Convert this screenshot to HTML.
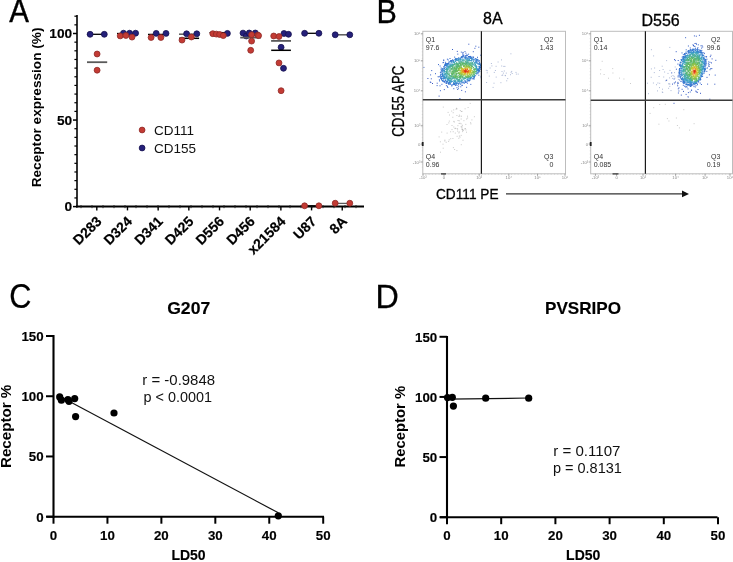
<!DOCTYPE html>
<html><head><meta charset="utf-8"><style>
html,body{margin:0;padding:0;background:#fff;width:733px;height:562px;overflow:hidden}
svg{display:block;will-change:transform}
text{font-family:"Liberation Sans",sans-serif}
</style></head><body>
<svg width="733" height="562" viewBox="0 0 733 562">
<rect width="733" height="562" fill="#fff"/>
<text transform="translate(9.2,22.3) scale(1,1.12)" font-size="29.5" stroke="#000" stroke-width="0.35">A</text>
<line x1="77" y1="15" x2="77" y2="207.6" stroke="#000" stroke-width="1.6" />
<line x1="73" y1="206.6" x2="77" y2="206.6" stroke="#000" stroke-width="1.5" />
<line x1="74.4" y1="197.945" x2="77" y2="197.945" stroke="#000" stroke-width="1.2" />
<line x1="74.4" y1="189.29" x2="77" y2="189.29" stroke="#000" stroke-width="1.2" />
<line x1="74.4" y1="180.635" x2="77" y2="180.635" stroke="#000" stroke-width="1.2" />
<line x1="74.4" y1="171.98" x2="77" y2="171.98" stroke="#000" stroke-width="1.2" />
<line x1="74.4" y1="163.325" x2="77" y2="163.325" stroke="#000" stroke-width="1.2" />
<line x1="74.4" y1="154.67" x2="77" y2="154.67" stroke="#000" stroke-width="1.2" />
<line x1="74.4" y1="146.015" x2="77" y2="146.015" stroke="#000" stroke-width="1.2" />
<line x1="74.4" y1="137.35999999999999" x2="77" y2="137.35999999999999" stroke="#000" stroke-width="1.2" />
<line x1="74.4" y1="128.70499999999998" x2="77" y2="128.70499999999998" stroke="#000" stroke-width="1.2" />
<line x1="73" y1="120.04999999999998" x2="77" y2="120.04999999999998" stroke="#000" stroke-width="1.5" />
<line x1="74.4" y1="111.395" x2="77" y2="111.395" stroke="#000" stroke-width="1.2" />
<line x1="74.4" y1="102.74" x2="77" y2="102.74" stroke="#000" stroke-width="1.2" />
<line x1="74.4" y1="94.085" x2="77" y2="94.085" stroke="#000" stroke-width="1.2" />
<line x1="74.4" y1="85.42999999999999" x2="77" y2="85.42999999999999" stroke="#000" stroke-width="1.2" />
<line x1="74.4" y1="76.77499999999998" x2="77" y2="76.77499999999998" stroke="#000" stroke-width="1.2" />
<line x1="74.4" y1="68.11999999999998" x2="77" y2="68.11999999999998" stroke="#000" stroke-width="1.2" />
<line x1="74.4" y1="59.464999999999975" x2="77" y2="59.464999999999975" stroke="#000" stroke-width="1.2" />
<line x1="74.4" y1="50.809999999999974" x2="77" y2="50.809999999999974" stroke="#000" stroke-width="1.2" />
<line x1="74.4" y1="42.15499999999997" x2="77" y2="42.15499999999997" stroke="#000" stroke-width="1.2" />
<line x1="73" y1="33.49999999999997" x2="77" y2="33.49999999999997" stroke="#000" stroke-width="1.5" />
<line x1="74.4" y1="24.84499999999997" x2="77" y2="24.84499999999997" stroke="#000" stroke-width="1.2" />
<line x1="74.4" y1="16.189999999999998" x2="77" y2="16.189999999999998" stroke="#000" stroke-width="1.2" />
<text x="72.2" y="211.4" font-size="13.7" font-weight="bold" text-anchor="end" fill="#000"  stroke="#000" stroke-width="0.15">0</text>
<text x="72.2" y="124.84999999999998" font-size="13.7" font-weight="bold" text-anchor="end" fill="#000"  stroke="#000" stroke-width="0.15">50</text>
<text x="72.2" y="38.29999999999997" font-size="13.7" font-weight="bold" text-anchor="end" fill="#000"  stroke="#000" stroke-width="0.15">100</text>
<line x1="76" y1="206.6" x2="364" y2="206.6" stroke="#000" stroke-width="2" />
<line x1="96.8" y1="206.6" x2="96.8" y2="210.4" stroke="#000" stroke-width="1.4" />
<line x1="127.47999999999999" y1="206.6" x2="127.47999999999999" y2="210.4" stroke="#000" stroke-width="1.4" />
<line x1="158.16" y1="206.6" x2="158.16" y2="210.4" stroke="#000" stroke-width="1.4" />
<line x1="188.83999999999997" y1="206.6" x2="188.83999999999997" y2="210.4" stroke="#000" stroke-width="1.4" />
<line x1="219.51999999999998" y1="206.6" x2="219.51999999999998" y2="210.4" stroke="#000" stroke-width="1.4" />
<line x1="250.2" y1="206.6" x2="250.2" y2="210.4" stroke="#000" stroke-width="1.4" />
<line x1="280.88" y1="206.6" x2="280.88" y2="210.4" stroke="#000" stroke-width="1.4" />
<line x1="311.56" y1="206.6" x2="311.56" y2="210.4" stroke="#000" stroke-width="1.4" />
<line x1="342.24" y1="206.6" x2="342.24" y2="210.4" stroke="#000" stroke-width="1.4" />
<line x1="81.0" y1="205.0" x2="81.0" y2="208.2" stroke="#222" stroke-width="0.9" />
<line x1="92.0" y1="205.0" x2="92.0" y2="208.2" stroke="#222" stroke-width="0.9" />
<line x1="103.0" y1="205.0" x2="103.0" y2="208.2" stroke="#222" stroke-width="0.9" />
<line x1="114.0" y1="205.0" x2="114.0" y2="208.2" stroke="#222" stroke-width="0.9" />
<line x1="125.0" y1="205.0" x2="125.0" y2="208.2" stroke="#222" stroke-width="0.9" />
<line x1="136.0" y1="205.0" x2="136.0" y2="208.2" stroke="#222" stroke-width="0.9" />
<line x1="147.0" y1="205.0" x2="147.0" y2="208.2" stroke="#222" stroke-width="0.9" />
<line x1="158.0" y1="205.0" x2="158.0" y2="208.2" stroke="#222" stroke-width="0.9" />
<line x1="169.0" y1="205.0" x2="169.0" y2="208.2" stroke="#222" stroke-width="0.9" />
<line x1="180.0" y1="205.0" x2="180.0" y2="208.2" stroke="#222" stroke-width="0.9" />
<line x1="191.0" y1="205.0" x2="191.0" y2="208.2" stroke="#222" stroke-width="0.9" />
<line x1="202.0" y1="205.0" x2="202.0" y2="208.2" stroke="#222" stroke-width="0.9" />
<line x1="213.0" y1="205.0" x2="213.0" y2="208.2" stroke="#222" stroke-width="0.9" />
<line x1="224.0" y1="205.0" x2="224.0" y2="208.2" stroke="#222" stroke-width="0.9" />
<line x1="235.0" y1="205.0" x2="235.0" y2="208.2" stroke="#222" stroke-width="0.9" />
<line x1="246.0" y1="205.0" x2="246.0" y2="208.2" stroke="#222" stroke-width="0.9" />
<line x1="257.0" y1="205.0" x2="257.0" y2="208.2" stroke="#222" stroke-width="0.9" />
<line x1="268.0" y1="205.0" x2="268.0" y2="208.2" stroke="#222" stroke-width="0.9" />
<line x1="279.0" y1="205.0" x2="279.0" y2="208.2" stroke="#222" stroke-width="0.9" />
<line x1="290.0" y1="205.0" x2="290.0" y2="208.2" stroke="#222" stroke-width="0.9" />
<line x1="301.0" y1="205.0" x2="301.0" y2="208.2" stroke="#222" stroke-width="0.9" />
<line x1="312.0" y1="205.0" x2="312.0" y2="208.2" stroke="#222" stroke-width="0.9" />
<line x1="323.0" y1="205.0" x2="323.0" y2="208.2" stroke="#222" stroke-width="0.9" />
<line x1="334.0" y1="205.0" x2="334.0" y2="208.2" stroke="#222" stroke-width="0.9" />
<line x1="345.0" y1="205.0" x2="345.0" y2="208.2" stroke="#222" stroke-width="0.9" />
<line x1="356.0" y1="205.0" x2="356.0" y2="208.2" stroke="#222" stroke-width="0.9" />
<text transform="translate(102.4,222.2) rotate(-45)" font-size="14" font-weight="bold" stroke="#000" stroke-width="0.2" text-anchor="end">D283</text>
<text transform="translate(133.1,222.2) rotate(-45)" font-size="14" font-weight="bold" stroke="#000" stroke-width="0.2" text-anchor="end">D324</text>
<text transform="translate(163.8,222.2) rotate(-45)" font-size="14" font-weight="bold" stroke="#000" stroke-width="0.2" text-anchor="end">D341</text>
<text transform="translate(194.4,222.2) rotate(-45)" font-size="14" font-weight="bold" stroke="#000" stroke-width="0.2" text-anchor="end">D425</text>
<text transform="translate(225.1,222.2) rotate(-45)" font-size="14" font-weight="bold" stroke="#000" stroke-width="0.2" text-anchor="end">D556</text>
<text transform="translate(255.8,222.2) rotate(-45)" font-size="14" font-weight="bold" stroke="#000" stroke-width="0.2" text-anchor="end">D456</text>
<text transform="translate(286.5,222.2) rotate(-45)" font-size="14" font-weight="bold" stroke="#000" stroke-width="0.2" text-anchor="end">x21584</text>
<text transform="translate(317.2,222.2) rotate(-45)" font-size="14" font-weight="bold" stroke="#000" stroke-width="0.2" text-anchor="end">U87</text>
<text transform="translate(347.8,222.2) rotate(-45)" font-size="14" font-weight="bold" stroke="#000" stroke-width="0.2" text-anchor="end">8A</text>
<text transform="translate(41.3,187.3) rotate(-90)" font-size="13.6" font-weight="bold" textLength="159.8" lengthAdjust="spacingAndGlyphs">Receptor expression (%)</text>
<circle cx="142.1" cy="130" r="2.9" fill="#c33b34" stroke="#8f2a27" stroke-width="0.8"/>
<circle cx="142.1" cy="148" r="2.9" fill="#25207a" stroke="#16124f" stroke-width="0.8"/>
<text x="154" y="135.3" font-size="13.5" font-weight="normal" text-anchor="start" fill="#111" >CD111</text>
<text x="154" y="153" font-size="13.5" font-weight="normal" text-anchor="start" fill="#111" >CD155</text>
<line x1="87" y1="34.3" x2="107" y2="34.3" stroke="#000" stroke-width="1.3" />
<circle cx="90.1" cy="34.3" r="2.95" fill="#25207a" stroke="#16124f" stroke-width="0.8"/>
<circle cx="104.3" cy="34.3" r="2.95" fill="#25207a" stroke="#16124f" stroke-width="0.8"/>
<line x1="87" y1="62.2" x2="107.2" y2="62.2" stroke="#5a5a5a" stroke-width="1.8" />
<circle cx="97.1" cy="54" r="2.95" fill="#c33b34" stroke="#8f2a27" stroke-width="0.8"/>
<circle cx="97.1" cy="70.2" r="2.95" fill="#c33b34" stroke="#8f2a27" stroke-width="0.8"/>
<line x1="117" y1="33.5" x2="138" y2="33.5" stroke="#000" stroke-width="1.3" />
<circle cx="123.5" cy="33.2" r="2.95" fill="#25207a" stroke="#16124f" stroke-width="0.8"/>
<circle cx="129.6" cy="33.2" r="2.95" fill="#25207a" stroke="#16124f" stroke-width="0.8"/>
<circle cx="135.6" cy="33.2" r="2.95" fill="#25207a" stroke="#16124f" stroke-width="0.8"/>
<circle cx="120.2" cy="35.9" r="2.95" fill="#c33b34" stroke="#8f2a27" stroke-width="0.8"/>
<circle cx="125.9" cy="35.5" r="2.95" fill="#c33b34" stroke="#8f2a27" stroke-width="0.8"/>
<circle cx="132" cy="37.1" r="2.95" fill="#c33b34" stroke="#8f2a27" stroke-width="0.8"/>
<line x1="148" y1="34.4" x2="168.5" y2="34.4" stroke="#000" stroke-width="1.3" />
<circle cx="156.2" cy="33.4" r="2.95" fill="#25207a" stroke="#16124f" stroke-width="0.8"/>
<circle cx="166" cy="33.4" r="2.95" fill="#25207a" stroke="#16124f" stroke-width="0.8"/>
<circle cx="151.1" cy="37.5" r="2.95" fill="#c33b34" stroke="#8f2a27" stroke-width="0.8"/>
<circle cx="160.9" cy="37.5" r="2.95" fill="#c33b34" stroke="#8f2a27" stroke-width="0.8"/>
<line x1="179" y1="34.2" x2="199" y2="34.2" stroke="#5a5a5a" stroke-width="1.5" />
<circle cx="186.6" cy="33.8" r="2.95" fill="#25207a" stroke="#16124f" stroke-width="0.8"/>
<circle cx="196.8" cy="33.8" r="2.95" fill="#25207a" stroke="#16124f" stroke-width="0.8"/>
<line x1="179" y1="38.3" x2="199.1" y2="38.3" stroke="#000" stroke-width="1.5" />
<circle cx="182" cy="40.1" r="2.95" fill="#c33b34" stroke="#8f2a27" stroke-width="0.8"/>
<circle cx="191.4" cy="37" r="2.95" fill="#c33b34" stroke="#8f2a27" stroke-width="0.8"/>
<line x1="209.5" y1="32.6" x2="229.5" y2="32.6" stroke="#000" stroke-width="1.3" />
<circle cx="227.4" cy="33.4" r="2.95" fill="#25207a" stroke="#16124f" stroke-width="0.8"/>
<circle cx="212.8" cy="33.7" r="2.95" fill="#c33b34" stroke="#8f2a27" stroke-width="0.8"/>
<circle cx="216.3" cy="34.1" r="2.95" fill="#c33b34" stroke="#8f2a27" stroke-width="0.8"/>
<circle cx="219.6" cy="34.5" r="2.95" fill="#c33b34" stroke="#8f2a27" stroke-width="0.8"/>
<circle cx="223.3" cy="35.6" r="2.95" fill="#c33b34" stroke="#8f2a27" stroke-width="0.8"/>
<circle cx="243" cy="33.1" r="2.95" fill="#25207a" stroke="#16124f" stroke-width="0.8"/>
<circle cx="246.3" cy="36" r="2.95" fill="#25207a" stroke="#16124f" stroke-width="0.8"/>
<circle cx="249.2" cy="33" r="2.95" fill="#25207a" stroke="#16124f" stroke-width="0.8"/>
<circle cx="255.3" cy="33" r="2.95" fill="#25207a" stroke="#16124f" stroke-width="0.8"/>
<line x1="240.2" y1="37.6" x2="261" y2="37.6" stroke="#5a5a5a" stroke-width="1.8" />
<circle cx="251.6" cy="34.7" r="2.95" fill="#c33b34" stroke="#8f2a27" stroke-width="0.8"/>
<circle cx="257.8" cy="35.1" r="2.95" fill="#c33b34" stroke="#8f2a27" stroke-width="0.8"/>
<circle cx="258.6" cy="35.6" r="2.95" fill="#c33b34" stroke="#8f2a27" stroke-width="0.8"/>
<circle cx="251.6" cy="41.1" r="2.95" fill="#c33b34" stroke="#8f2a27" stroke-width="0.8"/>
<circle cx="250.7" cy="50.3" r="2.95" fill="#c33b34" stroke="#8f2a27" stroke-width="0.8"/>
<line x1="271.1" y1="40.9" x2="291" y2="40.9" stroke="#5a5a5a" stroke-width="1.8" />
<circle cx="284" cy="33.5" r="2.95" fill="#25207a" stroke="#16124f" stroke-width="0.8"/>
<circle cx="288.5" cy="34.3" r="2.95" fill="#25207a" stroke="#16124f" stroke-width="0.8"/>
<circle cx="273.7" cy="36" r="2.95" fill="#c33b34" stroke="#8f2a27" stroke-width="0.8"/>
<circle cx="279" cy="36.5" r="2.95" fill="#c33b34" stroke="#8f2a27" stroke-width="0.8"/>
<circle cx="281.1" cy="47.3" r="2.95" fill="#25207a" stroke="#16124f" stroke-width="0.8"/>
<line x1="271.2" y1="50.3" x2="290.9" y2="50.3" stroke="#000" stroke-width="1.5" />
<circle cx="279" cy="62.9" r="2.95" fill="#c33b34" stroke="#8f2a27" stroke-width="0.8"/>
<circle cx="283.5" cy="68.3" r="2.95" fill="#25207a" stroke="#16124f" stroke-width="0.8"/>
<circle cx="281.1" cy="90.7" r="2.95" fill="#c33b34" stroke="#8f2a27" stroke-width="0.8"/>
<line x1="304.6" y1="33.3" x2="318.9" y2="33.3" stroke="#000" stroke-width="1.3" />
<circle cx="304.6" cy="33.3" r="2.95" fill="#25207a" stroke="#16124f" stroke-width="0.8"/>
<circle cx="318.9" cy="33.3" r="2.95" fill="#25207a" stroke="#16124f" stroke-width="0.8"/>
<line x1="304.6" y1="205.8" x2="318.9" y2="205.8" stroke="#000" stroke-width="1.3" />
<circle cx="304.6" cy="205.8" r="2.95" fill="#c33b34" stroke="#8f2a27" stroke-width="0.8"/>
<circle cx="318.9" cy="205.8" r="2.95" fill="#c33b34" stroke="#8f2a27" stroke-width="0.8"/>
<line x1="335.2" y1="34.8" x2="349.8" y2="34.8" stroke="#5a5a5a" stroke-width="1.5" />
<circle cx="335.2" cy="34.8" r="2.95" fill="#25207a" stroke="#16124f" stroke-width="0.8"/>
<circle cx="349.8" cy="34.8" r="2.95" fill="#25207a" stroke="#16124f" stroke-width="0.8"/>
<line x1="335.2" y1="203.4" x2="349.8" y2="203.4" stroke="#5a5a5a" stroke-width="1.3" />
<circle cx="335.2" cy="203.2" r="2.95" fill="#c33b34" stroke="#8f2a27" stroke-width="0.8"/>
<circle cx="349.8" cy="203.2" r="2.95" fill="#c33b34" stroke="#8f2a27" stroke-width="0.8"/>
<text transform="translate(376.4,23) scale(1,1.1)" font-size="30.5" stroke="#000" stroke-width="0.3">B</text>
<text x="483" y="24.3" font-size="16" font-weight="normal" text-anchor="start" fill="#000" stroke="#000" stroke-width="0.3">8A</text>
<text x="641.5" y="26.4" font-size="16" font-weight="normal" text-anchor="start" fill="#000" stroke="#000" stroke-width="0.3">D556</text>
<rect x="495.7" y="76.6" width="1" height="1" fill="#8fa0c8" opacity="0.7"/>
<rect x="494.9" y="70.0" width="1" height="1" fill="#8fa0c8" opacity="0.7"/>
<rect x="486.7" y="72.3" width="1" height="1" fill="#8fa0c8" opacity="0.7"/>
<rect x="511.7" y="73.0" width="1" height="1" fill="#8fa0c8" opacity="0.7"/>
<rect x="510.6" y="71.8" width="1" height="1" fill="#8fa0c8" opacity="0.7"/>
<rect x="502.9" y="72.6" width="1" height="1" fill="#8fa0c8" opacity="0.7"/>
<rect x="504.7" y="74.9" width="1" height="1" fill="#8fa0c8" opacity="0.7"/>
<rect x="486.8" y="70.2" width="1" height="1" fill="#8fa0c8" opacity="0.7"/>
<rect x="501.5" y="71.0" width="1" height="1" fill="#8fa0c8" opacity="0.7"/>
<rect x="503.3" y="65.9" width="1" height="1" fill="#8fa0c8" opacity="0.7"/>
<rect x="502.2" y="74.5" width="1" height="1" fill="#8fa0c8" opacity="0.7"/>
<rect x="492.6" y="86.9" width="1" height="1" fill="#8fa0c8" opacity="0.7"/>
<rect x="506.2" y="80.3" width="1" height="1" fill="#8fa0c8" opacity="0.7"/>
<rect x="489.6" y="67.5" width="1" height="1" fill="#8fa0c8" opacity="0.7"/>
<rect x="493.8" y="71.9" width="1" height="1" fill="#8fa0c8" opacity="0.7"/>
<rect x="505.8" y="72.6" width="1" height="1" fill="#8fa0c8" opacity="0.7"/>
<rect x="491.4" y="65.4" width="1" height="1" fill="#8fa0c8" opacity="0.7"/>
<rect x="493.5" y="82.7" width="1" height="1" fill="#8fa0c8" opacity="0.7"/>
<rect x="488.8" y="75.6" width="1" height="1" fill="#8fa0c8" opacity="0.7"/>
<rect x="501.0" y="59.4" width="1" height="1" fill="#8fa0c8" opacity="0.7"/>
<rect x="500.4" y="82.2" width="1" height="1" fill="#8fa0c8" opacity="0.7"/>
<rect x="495.6" y="65.8" width="1" height="1" fill="#8fa0c8" opacity="0.7"/>
<rect x="503.8" y="70.5" width="1" height="1" fill="#8fa0c8" opacity="0.7"/>
<rect x="507.2" y="78.1" width="1" height="1" fill="#8fa0c8" opacity="0.7"/>
<rect x="515.5" y="71.9" width="1" height="1" fill="#8fa0c8" opacity="0.7"/>
<rect x="497.6" y="61.5" width="1" height="1" fill="#8fa0c8" opacity="0.7"/>
<rect x="504.4" y="65.9" width="1" height="1" fill="#8fa0c8" opacity="0.7"/>
<rect x="490.9" y="63.0" width="1" height="1" fill="#8fa0c8" opacity="0.7"/>
<rect x="485.8" y="69.8" width="1" height="1" fill="#8fa0c8" opacity="0.7"/>
<rect x="510.4" y="53.3" width="1" height="1" fill="#8fa0c8" opacity="0.7"/>
<rect x="515.9" y="73.6" width="1" height="1" fill="#8fa0c8" opacity="0.7"/>
<rect x="501.2" y="65.5" width="1" height="1" fill="#8fa0c8" opacity="0.7"/>
<rect x="486.1" y="82.0" width="1" height="1" fill="#8fa0c8" opacity="0.7"/>
<rect x="511.2" y="70.9" width="1" height="1" fill="#8fa0c8" opacity="0.7"/>
<rect x="501.5" y="74.9" width="1" height="1" fill="#8fa0c8" opacity="0.7"/>
<rect x="517.7" y="73.6" width="1" height="1" fill="#8fa0c8" opacity="0.7"/>
<rect x="504.9" y="75.2" width="1" height="1" fill="#8fa0c8" opacity="0.7"/>
<rect x="510.0" y="74.2" width="1" height="1" fill="#8fa0c8" opacity="0.7"/>
<rect x="442.5" y="143.7" width="1" height="1" fill="#999" opacity="0.5"/>
<rect x="447.6" y="111.9" width="1" height="1" fill="#999" opacity="0.5"/>
<rect x="462.1" y="131.1" width="1" height="1" fill="#999" opacity="0.5"/>
<rect x="460.8" y="144.2" width="1" height="1" fill="#999" opacity="0.5"/>
<rect x="457.5" y="120.0" width="1" height="1" fill="#999" opacity="0.5"/>
<rect x="461.9" y="124.8" width="1" height="1" fill="#999" opacity="0.5"/>
<rect x="464.3" y="128.4" width="1" height="1" fill="#999" opacity="0.5"/>
<rect x="450.1" y="131.3" width="1" height="1" fill="#999" opacity="0.5"/>
<rect x="461.0" y="115.7" width="1" height="1" fill="#999" opacity="0.5"/>
<rect x="458.3" y="137.8" width="1" height="1" fill="#999" opacity="0.5"/>
<rect x="459.8" y="110.0" width="1" height="1" fill="#999" opacity="0.5"/>
<rect x="448.7" y="139.3" width="1" height="1" fill="#999" opacity="0.5"/>
<rect x="453.3" y="126.5" width="1" height="1" fill="#999" opacity="0.5"/>
<rect x="455.6" y="108.7" width="1" height="1" fill="#999" opacity="0.5"/>
<rect x="453.2" y="109.4" width="1" height="1" fill="#999" opacity="0.5"/>
<rect x="456.6" y="135.8" width="1" height="1" fill="#999" opacity="0.5"/>
<rect x="467.1" y="117.5" width="1" height="1" fill="#999" opacity="0.5"/>
<rect x="458.6" y="123.0" width="1" height="1" fill="#999" opacity="0.5"/>
<rect x="460.6" y="126.3" width="1" height="1" fill="#999" opacity="0.5"/>
<rect x="457.1" y="128.6" width="1" height="1" fill="#999" opacity="0.5"/>
<rect x="458.7" y="120.3" width="1" height="1" fill="#999" opacity="0.5"/>
<rect x="463.4" y="120.2" width="1" height="1" fill="#999" opacity="0.5"/>
<rect x="467.6" y="107.0" width="1" height="1" fill="#999" opacity="0.5"/>
<rect x="451.5" y="129.1" width="1" height="1" fill="#999" opacity="0.5"/>
<rect x="462.2" y="129.1" width="1" height="1" fill="#999" opacity="0.5"/>
<rect x="457.1" y="130.6" width="1" height="1" fill="#999" opacity="0.5"/>
<rect x="452.4" y="138.0" width="1" height="1" fill="#999" opacity="0.5"/>
<rect x="459.5" y="122.8" width="1" height="1" fill="#999" opacity="0.5"/>
<rect x="458.4" y="132.4" width="1" height="1" fill="#999" opacity="0.5"/>
<rect x="453.8" y="121.5" width="1" height="1" fill="#999" opacity="0.5"/>
<rect x="469.7" y="102.9" width="1" height="1" fill="#999" opacity="0.5"/>
<rect x="452.7" y="131.2" width="1" height="1" fill="#999" opacity="0.5"/>
<rect x="454.5" y="128.1" width="1" height="1" fill="#999" opacity="0.5"/>
<rect x="440.0" y="151.7" width="1" height="1" fill="#999" opacity="0.5"/>
<rect x="452.7" y="112.2" width="1" height="1" fill="#999" opacity="0.5"/>
<rect x="462.2" y="129.7" width="1" height="1" fill="#999" opacity="0.5"/>
<rect x="470.1" y="122.2" width="1" height="1" fill="#999" opacity="0.5"/>
<rect x="445.7" y="141.8" width="1" height="1" fill="#999" opacity="0.5"/>
<rect x="458.7" y="131.4" width="1" height="1" fill="#999" opacity="0.5"/>
<rect x="442.8" y="106.6" width="1" height="1" fill="#999" opacity="0.5"/>
<rect x="451.2" y="110.6" width="1" height="1" fill="#999" opacity="0.5"/>
<rect x="449.0" y="114.5" width="1" height="1" fill="#999" opacity="0.5"/>
<rect x="464.9" y="128.0" width="1" height="1" fill="#999" opacity="0.5"/>
<rect x="456.6" y="128.1" width="1" height="1" fill="#999" opacity="0.5"/>
<rect x="460.7" y="118.5" width="1" height="1" fill="#999" opacity="0.5"/>
<rect x="466.0" y="131.7" width="1" height="1" fill="#999" opacity="0.5"/>
<rect x="458.9" y="114.6" width="1" height="1" fill="#999" opacity="0.5"/>
<rect x="458.4" y="116.0" width="1" height="1" fill="#999" opacity="0.5"/>
<rect x="461.4" y="126.9" width="1" height="1" fill="#999" opacity="0.5"/>
<rect x="461.4" y="125.8" width="1" height="1" fill="#999" opacity="0.5"/>
<rect x="438.6" y="136.4" width="1" height="1" fill="#999" opacity="0.5"/>
<rect x="452.3" y="116.8" width="1" height="1" fill="#999" opacity="0.5"/>
<rect x="441.2" y="131.6" width="1" height="1" fill="#999" opacity="0.5"/>
<rect x="467.0" y="115.7" width="1" height="1" fill="#999" opacity="0.5"/>
<rect x="456.5" y="108.3" width="1" height="1" fill="#999" opacity="0.5"/>
<rect x="448.3" y="122.4" width="1" height="1" fill="#999" opacity="0.5"/>
<rect x="470.4" y="123.4" width="1" height="1" fill="#999" opacity="0.5"/>
<rect x="462.5" y="139.8" width="1" height="1" fill="#999" opacity="0.5"/>
<rect x="459.4" y="115.6" width="1" height="1" fill="#999" opacity="0.5"/>
<rect x="456.4" y="150.1" width="1" height="1" fill="#999" opacity="0.5"/>
<rect x="451.5" y="125.0" width="1" height="1" fill="#999" opacity="0.5"/>
<rect x="460.6" y="123.3" width="1" height="1" fill="#999" opacity="0.5"/>
<rect x="456.0" y="107.8" width="1" height="1" fill="#999" opacity="0.5"/>
<rect x="471.4" y="119.4" width="1" height="1" fill="#999" opacity="0.5"/>
<rect x="461.5" y="110.9" width="1" height="1" fill="#999" opacity="0.5"/>
<rect x="459.5" y="136.6" width="1" height="1" fill="#999" opacity="0.5"/>
<rect x="457.4" y="125.2" width="1" height="1" fill="#999" opacity="0.5"/>
<rect x="460.8" y="111.0" width="1" height="1" fill="#999" opacity="0.5"/>
<rect x="442.7" y="147.7" width="1" height="1" fill="#999" opacity="0.5"/>
<rect x="452.9" y="147.1" width="1" height="1" fill="#999" opacity="0.5"/>
<rect x="453.3" y="120.9" width="1" height="1" fill="#999" opacity="0.5"/>
<rect x="461.6" y="128.7" width="1" height="1" fill="#999" opacity="0.5"/>
<rect x="465.4" y="129.4" width="1" height="1" fill="#999" opacity="0.5"/>
<rect x="462.8" y="129.9" width="1" height="1" fill="#999" opacity="0.5"/>
<rect x="473.9" y="116.2" width="1" height="1" fill="#999" opacity="0.5"/>
<rect x="458.9" y="135.5" width="1" height="1" fill="#999" opacity="0.5"/>
<rect x="439.9" y="141.3" width="1" height="1" fill="#999" opacity="0.5"/>
<rect x="454.1" y="149.0" width="1" height="1" fill="#999" opacity="0.5"/>
<rect x="450.2" y="138.2" width="1" height="1" fill="#999" opacity="0.5"/>
<rect x="454.9" y="127.8" width="1" height="1" fill="#999" opacity="0.5"/>
<rect x="454.8" y="132.6" width="1" height="1" fill="#999" opacity="0.5"/>
<rect x="464.6" y="108.3" width="1" height="1" fill="#999" opacity="0.5"/>
<rect x="465.3" y="123.9" width="1" height="1" fill="#999" opacity="0.5"/>
<rect x="446.5" y="124.0" width="1" height="1" fill="#999" opacity="0.5"/>
<rect x="460.7" y="134.9" width="1" height="1" fill="#999" opacity="0.5"/>
<rect x="444.3" y="140.5" width="1" height="1" fill="#999" opacity="0.5"/>
<rect x="466.1" y="118.5" width="1" height="1" fill="#999" opacity="0.5"/>
<rect x="461.5" y="128.5" width="1" height="1" fill="#999" opacity="0.5"/>
<rect x="448.8" y="120.6" width="1" height="1" fill="#999" opacity="0.5"/>
<rect x="444.4" y="139.6" width="1" height="1" fill="#999" opacity="0.5"/>
<rect x="456.4" y="115.0" width="1" height="1" fill="#999" opacity="0.5"/>
<rect x="446.6" y="132.6" width="1" height="1" fill="#999" opacity="0.5"/>
<rect x="448.1" y="140.9" width="1" height="1" fill="#999" opacity="0.5"/>
<rect x="427.4" y="78.0" width="1" height="1" fill="#3956c2"/>
<rect x="461.2" y="89.9" width="1" height="1" fill="#3956c2"/>
<rect x="438.6" y="95.6" width="1" height="1" fill="#3957c2"/>
<rect x="456.8" y="50.9" width="1" height="1" fill="#3957c3"/>
<rect x="432.0" y="83.0" width="1" height="1" fill="#3957c3"/>
<rect x="474.4" y="47.8" width="1" height="1" fill="#3958c3"/>
<rect x="429.8" y="81.6" width="1" height="1" fill="#3958c3"/>
<rect x="472.8" y="51.2" width="1" height="1" fill="#3859c4"/>
<rect x="464.9" y="91.3" width="1" height="1" fill="#3859c4"/>
<rect x="430.8" y="78.3" width="1" height="1" fill="#3859c4"/>
<rect x="443.8" y="89.1" width="1" height="1" fill="#385ac4"/>
<rect x="430.3" y="81.9" width="1" height="1" fill="#385ac4"/>
<rect x="468.3" y="43.7" width="1" height="1" fill="#385ac5"/>
<rect x="436.7" y="82.7" width="1" height="1" fill="#385bc5"/>
<rect x="443.3" y="59.7" width="1" height="1" fill="#375cc6"/>
<rect x="457.2" y="89.0" width="1" height="1" fill="#375dc6"/>
<rect x="453.3" y="88.2" width="1" height="1" fill="#375dc6"/>
<rect x="459.4" y="98.0" width="1" height="1" fill="#375dc6"/>
<rect x="452.0" y="49.0" width="1" height="1" fill="#375dc6"/>
<rect x="465.4" y="52.7" width="1" height="1" fill="#375dc6"/>
<rect x="431.2" y="70.1" width="1" height="1" fill="#375ec7"/>
<rect x="460.8" y="51.6" width="1" height="1" fill="#375ec7"/>
<rect x="436.6" y="85.1" width="1" height="1" fill="#365fc8"/>
<rect x="478.3" y="46.7" width="1" height="1" fill="#365fc8"/>
<rect x="461.6" y="85.0" width="1" height="1" fill="#365fc8"/>
<rect x="475.3" y="45.7" width="1" height="1" fill="#3660c8"/>
<rect x="480.7" y="77.2" width="1" height="1" fill="#3660c8"/>
<rect x="443.1" y="59.7" width="1" height="1" fill="#3660c8"/>
<rect x="439.9" y="90.2" width="1" height="1" fill="#3660c9"/>
<rect x="445.9" y="85.2" width="1" height="1" fill="#3660c9"/>
<rect x="430.1" y="74.4" width="1" height="1" fill="#3660c9"/>
<rect x="457.3" y="53.6" width="1" height="1" fill="#3661c9"/>
<rect x="423.4" y="66.9" width="1" height="1" fill="#3661c9"/>
<rect x="441.4" y="83.8" width="1" height="1" fill="#3661c9"/>
<rect x="480.2" y="54.7" width="1" height="1" fill="#3661c9"/>
<rect x="457.9" y="87.7" width="1" height="1" fill="#3661c9"/>
<rect x="435.0" y="73.2" width="1" height="1" fill="#3661c9"/>
<rect x="463.4" y="54.8" width="1" height="1" fill="#3661c9"/>
<rect x="466.1" y="86.8" width="1" height="1" fill="#3661c9"/>
<rect x="445.1" y="61.8" width="1" height="1" fill="#3661c9"/>
<rect x="462.3" y="52.6" width="1" height="1" fill="#3562ca"/>
<rect x="470.3" y="83.9" width="1" height="1" fill="#3562ca"/>
<rect x="443.1" y="61.9" width="1" height="1" fill="#3562ca"/>
<rect x="458.1" y="85.7" width="1" height="1" fill="#3562ca"/>
<rect x="462.6" y="51.9" width="1" height="1" fill="#3563ca"/>
<rect x="438.0" y="64.1" width="1" height="1" fill="#3563cb"/>
<rect x="447.0" y="85.8" width="1" height="1" fill="#3563cb"/>
<rect x="442.5" y="62.2" width="1" height="1" fill="#3563cb"/>
<rect x="438.5" y="76.4" width="1" height="1" fill="#3563cb"/>
<rect x="437.6" y="76.2" width="1" height="1" fill="#3564cb"/>
<rect x="464.5" y="51.1" width="1" height="1" fill="#3564cb"/>
<rect x="480.9" y="70.8" width="1" height="1" fill="#3564cb"/>
<rect x="446.9" y="58.7" width="1" height="1" fill="#3465cc"/>
<rect x="439.5" y="85.3" width="1" height="1" fill="#3465cc"/>
<rect x="451.3" y="85.5" width="1" height="1" fill="#3465cc"/>
<rect x="481.0" y="71.7" width="1" height="1" fill="#3465cc"/>
<rect x="470.0" y="55.9" width="1" height="1" fill="#3465cc"/>
<rect x="466.9" y="82.7" width="1" height="1" fill="#3465cc"/>
<rect x="466.2" y="54.6" width="1" height="1" fill="#3465cc"/>
<rect x="447.3" y="87.0" width="1" height="1" fill="#3466cc"/>
<rect x="472.9" y="56.6" width="1" height="1" fill="#3466cd"/>
<rect x="480.5" y="64.8" width="1" height="1" fill="#3466cd"/>
<rect x="480.6" y="75.8" width="1" height="1" fill="#3466cd"/>
<rect x="477.0" y="56.8" width="1" height="1" fill="#3466cd"/>
<rect x="465.2" y="82.0" width="1" height="1" fill="#3466cd"/>
<rect x="462.6" y="54.7" width="1" height="1" fill="#3466cd"/>
<rect x="455.0" y="84.8" width="1" height="1" fill="#3466cd"/>
<rect x="439.9" y="71.9" width="1" height="1" fill="#3466cd"/>
<rect x="444.4" y="64.6" width="1" height="1" fill="#3466cd"/>
<rect x="466.1" y="81.6" width="1" height="1" fill="#3467cd"/>
<rect x="461.1" y="56.3" width="1" height="1" fill="#3467cd"/>
<rect x="456.4" y="87.2" width="1" height="1" fill="#3467cd"/>
<rect x="460.3" y="86.3" width="1" height="1" fill="#3467cd"/>
<rect x="450.4" y="60.2" width="1" height="1" fill="#3467cd"/>
<rect x="473.1" y="56.8" width="1" height="1" fill="#3467cd"/>
<rect x="439.0" y="80.4" width="1" height="1" fill="#3467cd"/>
<rect x="441.3" y="68.4" width="1" height="1" fill="#3467cd"/>
<rect x="440.6" y="67.5" width="1" height="1" fill="#3467cd"/>
<rect x="444.4" y="64.8" width="1" height="1" fill="#3467cd"/>
<rect x="480.2" y="66.7" width="1" height="1" fill="#3467cd"/>
<rect x="466.7" y="54.6" width="1" height="1" fill="#3467cd"/>
<rect x="444.5" y="81.6" width="1" height="1" fill="#3368ce"/>
<rect x="479.8" y="68.8" width="1" height="1" fill="#3368ce"/>
<rect x="439.5" y="76.0" width="1" height="1" fill="#3368ce"/>
<rect x="440.5" y="69.3" width="1" height="1" fill="#3368ce"/>
<rect x="440.9" y="78.9" width="1" height="1" fill="#3368ce"/>
<rect x="478.3" y="74.7" width="1" height="1" fill="#3368ce"/>
<rect x="468.0" y="56.1" width="1" height="1" fill="#3368ce"/>
<rect x="454.1" y="56.6" width="1" height="1" fill="#3368ce"/>
<rect x="479.8" y="66.6" width="1" height="1" fill="#3368ce"/>
<rect x="445.8" y="82.1" width="1" height="1" fill="#3369ce"/>
<rect x="440.5" y="71.4" width="1" height="1" fill="#3369ce"/>
<rect x="467.4" y="80.8" width="1" height="1" fill="#3369ce"/>
<rect x="439.6" y="65.5" width="1" height="1" fill="#3369ce"/>
<rect x="478.4" y="61.0" width="1" height="1" fill="#3369ce"/>
<rect x="478.9" y="62.1" width="1" height="1" fill="#3369ce"/>
<rect x="471.5" y="56.4" width="1" height="1" fill="#3369ce"/>
<rect x="456.5" y="85.0" width="1" height="1" fill="#3369ce"/>
<rect x="441.8" y="69.1" width="1" height="1" fill="#3369ce"/>
<rect x="445.8" y="83.0" width="1" height="1" fill="#3369cf"/>
<rect x="468.1" y="53.7" width="1" height="1" fill="#3369cf"/>
<rect x="473.4" y="78.0" width="1" height="1" fill="#3369cf"/>
<rect x="438.9" y="79.3" width="1" height="1" fill="#3369cf"/>
<rect x="465.1" y="55.8" width="1" height="1" fill="#3369cf"/>
<rect x="442.1" y="80.0" width="1" height="1" fill="#3369cf"/>
<rect x="462.4" y="53.7" width="1" height="1" fill="#3369cf"/>
<rect x="446.1" y="63.4" width="1" height="1" fill="#3369cf"/>
<rect x="469.0" y="56.1" width="1" height="1" fill="#3369cf"/>
<rect x="467.9" y="56.1" width="1" height="1" fill="#336acf"/>
<rect x="480.8" y="71.0" width="1" height="1" fill="#336acf"/>
<rect x="449.5" y="58.0" width="1" height="1" fill="#336acf"/>
<rect x="443.5" y="81.2" width="1" height="1" fill="#336acf"/>
<rect x="444.9" y="63.0" width="1" height="1" fill="#336acf"/>
<rect x="449.3" y="83.6" width="1" height="1" fill="#336acf"/>
<rect x="458.7" y="83.1" width="1" height="1" fill="#336acf"/>
<rect x="473.5" y="78.7" width="1" height="1" fill="#336acf"/>
<rect x="468.7" y="56.5" width="1" height="1" fill="#336acf"/>
<rect x="450.8" y="60.0" width="1" height="1" fill="#336acf"/>
<rect x="465.2" y="81.5" width="1" height="1" fill="#336acf"/>
<rect x="462.5" y="56.1" width="1" height="1" fill="#336acf"/>
<rect x="460.5" y="56.8" width="1" height="1" fill="#336acf"/>
<rect x="461.6" y="84.7" width="1" height="1" fill="#336acf"/>
<rect x="465.8" y="55.5" width="1" height="1" fill="#336acf"/>
<rect x="444.9" y="64.2" width="1" height="1" fill="#336acf"/>
<rect x="457.8" y="83.7" width="1" height="1" fill="#326bd0"/>
<rect x="441.7" y="78.2" width="1" height="1" fill="#326bd0"/>
<rect x="448.0" y="83.0" width="1" height="1" fill="#326bd0"/>
<rect x="447.0" y="63.4" width="1" height="1" fill="#326bd0"/>
<rect x="466.7" y="55.1" width="1" height="1" fill="#326bd0"/>
<rect x="461.5" y="82.5" width="1" height="1" fill="#326bd0"/>
<rect x="447.7" y="59.5" width="1" height="1" fill="#326bd0"/>
<rect x="468.5" y="80.0" width="1" height="1" fill="#326bd0"/>
<rect x="443.2" y="66.3" width="1" height="1" fill="#326bd0"/>
<rect x="468.9" y="56.1" width="1" height="1" fill="#326bd0"/>
<rect x="454.9" y="84.4" width="1" height="1" fill="#326bd0"/>
<rect x="443.8" y="81.5" width="1" height="1" fill="#326bd0"/>
<rect x="443.8" y="66.2" width="1" height="1" fill="#326bd0"/>
<rect x="448.6" y="61.2" width="1" height="1" fill="#326bd0"/>
<rect x="444.0" y="81.2" width="1" height="1" fill="#326bd0"/>
<rect x="475.1" y="58.2" width="1" height="1" fill="#326bd0"/>
<rect x="449.9" y="83.4" width="1" height="1" fill="#326bd0"/>
<rect x="478.9" y="66.7" width="1" height="1" fill="#326bd0"/>
<rect x="450.5" y="60.2" width="1" height="1" fill="#326cd0"/>
<rect x="470.3" y="56.6" width="1" height="1" fill="#326cd0"/>
<rect x="461.2" y="57.0" width="1" height="1" fill="#326cd0"/>
<rect x="462.9" y="55.4" width="1" height="1" fill="#326cd0"/>
<rect x="479.7" y="67.5" width="1" height="1" fill="#326cd0"/>
<rect x="476.1" y="59.1" width="1" height="1" fill="#326cd0"/>
<rect x="446.6" y="64.1" width="1" height="1" fill="#326cd0"/>
<rect x="473.0" y="77.5" width="1" height="1" fill="#326cd0"/>
<rect x="441.6" y="71.1" width="1" height="1" fill="#326cd0"/>
<rect x="456.6" y="58.0" width="1" height="1" fill="#326cd1"/>
<rect x="443.3" y="67.6" width="1" height="1" fill="#326cd1"/>
<rect x="455.1" y="57.9" width="1" height="1" fill="#326cd1"/>
<rect x="478.8" y="67.7" width="1" height="1" fill="#326cd1"/>
<rect x="478.3" y="70.8" width="1" height="1" fill="#326cd1"/>
<rect x="446.7" y="63.0" width="1" height="1" fill="#326cd1"/>
<rect x="475.5" y="59.9" width="1" height="1" fill="#326cd1"/>
<rect x="476.2" y="73.4" width="1" height="1" fill="#326cd1"/>
<rect x="471.5" y="78.3" width="1" height="1" fill="#326dd1"/>
<rect x="478.5" y="70.1" width="1" height="1" fill="#326dd1"/>
<rect x="465.3" y="55.0" width="1" height="1" fill="#326dd1"/>
<rect x="450.9" y="60.8" width="1" height="1" fill="#326dd1"/>
<rect x="469.4" y="57.3" width="1" height="1" fill="#326dd1"/>
<rect x="477.6" y="72.7" width="1" height="1" fill="#326dd1"/>
<rect x="476.8" y="71.9" width="1" height="1" fill="#326dd1"/>
<rect x="445.5" y="80.8" width="1" height="1" fill="#326dd1"/>
<rect x="462.4" y="56.0" width="1" height="1" fill="#326dd1"/>
<rect x="477.1" y="59.2" width="1" height="1" fill="#326dd1"/>
<rect x="474.7" y="58.4" width="1" height="1" fill="#326dd1"/>
<rect x="440.1" y="77.6" width="1" height="1" fill="#326dd1"/>
<rect x="479.2" y="64.2" width="1" height="1" fill="#326dd1"/>
<rect x="451.4" y="84.9" width="1" height="1" fill="#326dd1"/>
<rect x="478.4" y="60.1" width="1" height="1" fill="#326dd1"/>
<rect x="448.3" y="62.6" width="1" height="1" fill="#326dd1"/>
<rect x="451.5" y="84.1" width="1" height="1" fill="#326dd1"/>
<rect x="478.7" y="69.9" width="1" height="1" fill="#326dd1"/>
<rect x="462.7" y="81.7" width="1" height="1" fill="#326dd1"/>
<rect x="461.1" y="56.6" width="1" height="1" fill="#326dd1"/>
<rect x="452.9" y="82.7" width="1" height="1" fill="#326dd1"/>
<rect x="468.7" y="80.1" width="1" height="1" fill="#326dd1"/>
<rect x="440.2" y="76.7" width="1" height="1" fill="#326dd1"/>
<rect x="444.8" y="64.2" width="1" height="1" fill="#326dd1"/>
<rect x="453.9" y="83.3" width="1" height="1" fill="#326dd1"/>
<rect x="475.7" y="59.6" width="1" height="1" fill="#326dd1"/>
<rect x="464.0" y="82.5" width="1" height="1" fill="#326ed1"/>
<rect x="456.0" y="82.8" width="1" height="1" fill="#326ed1"/>
<rect x="453.1" y="60.3" width="1" height="1" fill="#326ed1"/>
<rect x="479.2" y="68.0" width="1" height="1" fill="#326ed1"/>
<rect x="478.2" y="71.7" width="1" height="1" fill="#326ed1"/>
<rect x="445.6" y="82.6" width="1" height="1" fill="#326ed1"/>
<rect x="455.2" y="58.9" width="1" height="1" fill="#326ed1"/>
<rect x="462.2" y="55.5" width="1" height="1" fill="#326ed1"/>
<rect x="447.9" y="62.6" width="1" height="1" fill="#326ed1"/>
<rect x="452.0" y="59.5" width="1" height="1" fill="#326ed1"/>
<rect x="454.0" y="84.1" width="1" height="1" fill="#326ed1"/>
<rect x="470.7" y="57.2" width="1" height="1" fill="#326fd1"/>
<rect x="449.6" y="83.6" width="1" height="1" fill="#326fd1"/>
<rect x="446.6" y="63.3" width="1" height="1" fill="#326fd1"/>
<rect x="478.4" y="71.4" width="1" height="1" fill="#326fd1"/>
<rect x="476.6" y="73.2" width="1" height="1" fill="#326fd1"/>
<rect x="455.4" y="83.0" width="1" height="1" fill="#326fd1"/>
<rect x="444.3" y="64.6" width="1" height="1" fill="#326fd1"/>
<rect x="442.6" y="80.5" width="1" height="1" fill="#326fd1"/>
<rect x="455.7" y="59.3" width="1" height="1" fill="#326fd1"/>
<rect x="451.7" y="60.4" width="1" height="1" fill="#3270d1"/>
<rect x="443.1" y="80.5" width="1" height="1" fill="#3270d1"/>
<rect x="480.0" y="65.1" width="1" height="1" fill="#3270d1"/>
<rect x="478.3" y="63.5" width="1" height="1" fill="#3270d1"/>
<rect x="470.3" y="57.2" width="1" height="1" fill="#3270d1"/>
<rect x="470.1" y="77.9" width="1" height="1" fill="#3270d1"/>
<rect x="453.3" y="83.7" width="1" height="1" fill="#3270d1"/>
<rect x="453.6" y="82.9" width="1" height="1" fill="#3270d1"/>
<rect x="476.6" y="59.9" width="1" height="1" fill="#3271d1"/>
<rect x="448.2" y="83.8" width="1" height="1" fill="#3271d1"/>
<rect x="440.4" y="74.3" width="1" height="1" fill="#3271d1"/>
<rect x="447.4" y="63.0" width="1" height="1" fill="#3271d1"/>
<rect x="470.0" y="56.2" width="1" height="1" fill="#3271d1"/>
<rect x="472.3" y="78.2" width="1" height="1" fill="#3271d1"/>
<rect x="464.2" y="56.8" width="1" height="1" fill="#3271d1"/>
<rect x="445.1" y="64.4" width="1" height="1" fill="#3271d1"/>
<rect x="465.1" y="57.0" width="1" height="1" fill="#3272d1"/>
<rect x="479.5" y="62.8" width="1" height="1" fill="#3272d1"/>
<rect x="445.3" y="63.7" width="1" height="1" fill="#3272d1"/>
<rect x="444.9" y="80.0" width="1" height="1" fill="#3272d1"/>
<rect x="476.5" y="61.3" width="1" height="1" fill="#3272d1"/>
<rect x="475.1" y="75.2" width="1" height="1" fill="#3272d1"/>
<rect x="441.3" y="76.1" width="1" height="1" fill="#3272d1"/>
<rect x="440.5" y="74.0" width="1" height="1" fill="#3272d1"/>
<rect x="440.9" y="78.1" width="1" height="1" fill="#3272d1"/>
<rect x="469.5" y="79.7" width="1" height="1" fill="#3272d1"/>
<rect x="469.0" y="80.3" width="1" height="1" fill="#3272d1"/>
<rect x="478.0" y="70.1" width="1" height="1" fill="#3273d1"/>
<rect x="442.3" y="80.8" width="1" height="1" fill="#3273d1"/>
<rect x="468.2" y="56.0" width="1" height="1" fill="#3273d1"/>
<rect x="460.3" y="83.4" width="1" height="1" fill="#3373d0"/>
<rect x="462.4" y="57.2" width="1" height="1" fill="#3373d0"/>
<rect x="468.4" y="56.3" width="1" height="1" fill="#3373d0"/>
<rect x="455.5" y="83.4" width="1" height="1" fill="#3373d0"/>
<rect x="442.2" y="75.2" width="1" height="1" fill="#3373d0"/>
<rect x="479.3" y="63.3" width="1" height="1" fill="#3374d0"/>
<rect x="441.1" y="78.5" width="1" height="1" fill="#3374d0"/>
<rect x="442.4" y="75.3" width="1" height="1" fill="#3374d0"/>
<rect x="467.8" y="80.0" width="1" height="1" fill="#3374d0"/>
<rect x="470.8" y="57.4" width="1" height="1" fill="#3374d0"/>
<rect x="453.6" y="83.0" width="1" height="1" fill="#3374d0"/>
<rect x="446.3" y="82.7" width="1" height="1" fill="#3374d0"/>
<rect x="452.6" y="84.1" width="1" height="1" fill="#3374d0"/>
<rect x="444.2" y="65.3" width="1" height="1" fill="#3374d0"/>
<rect x="440.2" y="74.7" width="1" height="1" fill="#3374d0"/>
<rect x="456.0" y="83.6" width="1" height="1" fill="#3374d0"/>
<rect x="476.8" y="62.6" width="1" height="1" fill="#3375d0"/>
<rect x="456.2" y="82.7" width="1" height="1" fill="#3375d0"/>
<rect x="445.8" y="63.3" width="1" height="1" fill="#3375d0"/>
<rect x="478.7" y="60.1" width="1" height="1" fill="#3375d0"/>
<rect x="454.0" y="84.0" width="1" height="1" fill="#3375d0"/>
<rect x="453.9" y="82.8" width="1" height="1" fill="#3376d0"/>
<rect x="444.9" y="64.6" width="1" height="1" fill="#3376d0"/>
<rect x="476.3" y="58.5" width="1" height="1" fill="#3376d0"/>
<rect x="480.3" y="66.5" width="1" height="1" fill="#3376d0"/>
<rect x="454.8" y="59.1" width="1" height="1" fill="#3376d0"/>
<rect x="439.8" y="75.4" width="1" height="1" fill="#3376d0"/>
<rect x="447.5" y="82.6" width="1" height="1" fill="#3376d0"/>
<rect x="461.5" y="56.3" width="1" height="1" fill="#3376d0"/>
<rect x="442.3" y="75.2" width="1" height="1" fill="#3376d0"/>
<rect x="479.0" y="66.2" width="1" height="1" fill="#3376d0"/>
<rect x="465.0" y="80.8" width="1" height="1" fill="#3376d0"/>
<rect x="459.9" y="83.7" width="1" height="1" fill="#3376d0"/>
<rect x="477.4" y="59.1" width="1" height="1" fill="#3376d0"/>
<rect x="445.8" y="65.1" width="1" height="1" fill="#3376d0"/>
<rect x="452.4" y="59.5" width="1" height="1" fill="#3376d0"/>
<rect x="442.1" y="73.9" width="1" height="1" fill="#3377d0"/>
<rect x="470.5" y="77.4" width="1" height="1" fill="#3377d0"/>
<rect x="441.4" y="71.7" width="1" height="1" fill="#3377d0"/>
<rect x="458.2" y="58.4" width="1" height="1" fill="#3377d0"/>
<rect x="444.7" y="79.8" width="1" height="1" fill="#3377d0"/>
<rect x="444.7" y="66.9" width="1" height="1" fill="#3377d0"/>
<rect x="450.0" y="60.8" width="1" height="1" fill="#3377d0"/>
<rect x="453.2" y="83.9" width="1" height="1" fill="#3377d0"/>
<rect x="478.8" y="68.7" width="1" height="1" fill="#3377d0"/>
<rect x="473.8" y="77.0" width="1" height="1" fill="#3377d0"/>
<rect x="441.7" y="71.5" width="1" height="1" fill="#3377d0"/>
<rect x="441.5" y="80.0" width="1" height="1" fill="#3377d0"/>
<rect x="477.1" y="69.2" width="1" height="1" fill="#3377d0"/>
<rect x="473.8" y="76.1" width="1" height="1" fill="#3378d0"/>
<rect x="446.0" y="80.9" width="1" height="1" fill="#3378d0"/>
<rect x="442.1" y="68.1" width="1" height="1" fill="#3378d0"/>
<rect x="445.4" y="64.3" width="1" height="1" fill="#3378d0"/>
<rect x="478.9" y="70.7" width="1" height="1" fill="#3378d0"/>
<rect x="480.2" y="64.5" width="1" height="1" fill="#3378d0"/>
<rect x="440.3" y="77.6" width="1" height="1" fill="#3378d0"/>
<rect x="480.4" y="65.0" width="1" height="1" fill="#3378d0"/>
<rect x="445.0" y="64.7" width="1" height="1" fill="#3378d0"/>
<rect x="450.9" y="60.4" width="1" height="1" fill="#3479cf"/>
<rect x="441.0" y="77.5" width="1" height="1" fill="#3479cf"/>
<rect x="458.3" y="57.1" width="1" height="1" fill="#3479cf"/>
<rect x="478.0" y="69.7" width="1" height="1" fill="#3479cf"/>
<rect x="463.4" y="82.6" width="1" height="1" fill="#3479cf"/>
<rect x="441.7" y="69.5" width="1" height="1" fill="#3479cf"/>
<rect x="478.4" y="66.2" width="1" height="1" fill="#3479cf"/>
<rect x="460.3" y="57.6" width="1" height="1" fill="#3479cf"/>
<rect x="461.1" y="81.5" width="1" height="1" fill="#3479cf"/>
<rect x="480.2" y="64.2" width="1" height="1" fill="#347acf"/>
<rect x="448.8" y="82.0" width="1" height="1" fill="#347acf"/>
<rect x="449.3" y="61.6" width="1" height="1" fill="#347acf"/>
<rect x="472.3" y="57.3" width="1" height="1" fill="#347acf"/>
<rect x="443.3" y="78.5" width="1" height="1" fill="#347acf"/>
<rect x="465.4" y="58.0" width="1" height="1" fill="#347acf"/>
<rect x="454.7" y="58.7" width="1" height="1" fill="#347bcf"/>
<rect x="446.8" y="64.7" width="1" height="1" fill="#347bcf"/>
<rect x="441.4" y="70.0" width="1" height="1" fill="#347bcf"/>
<rect x="447.0" y="80.9" width="1" height="1" fill="#347bcf"/>
<rect x="460.4" y="81.3" width="1" height="1" fill="#347bcf"/>
<rect x="442.9" y="68.5" width="1" height="1" fill="#347bcf"/>
<rect x="478.9" y="70.0" width="1" height="1" fill="#347bcf"/>
<rect x="462.2" y="81.6" width="1" height="1" fill="#347bcf"/>
<rect x="452.6" y="60.5" width="1" height="1" fill="#347bcf"/>
<rect x="449.4" y="82.5" width="1" height="1" fill="#347ccf"/>
<rect x="447.4" y="82.0" width="1" height="1" fill="#347ccf"/>
<rect x="478.0" y="69.0" width="1" height="1" fill="#347ccf"/>
<rect x="474.1" y="75.9" width="1" height="1" fill="#347ccf"/>
<rect x="464.3" y="56.4" width="1" height="1" fill="#347ccf"/>
<rect x="442.0" y="74.2" width="1" height="1" fill="#347ccf"/>
<rect x="456.5" y="58.9" width="1" height="1" fill="#347ccf"/>
<rect x="469.3" y="77.6" width="1" height="1" fill="#347ccf"/>
<rect x="476.4" y="59.2" width="1" height="1" fill="#347ccf"/>
<rect x="449.1" y="81.7" width="1" height="1" fill="#347dcf"/>
<rect x="456.1" y="58.3" width="1" height="1" fill="#347dcf"/>
<rect x="443.4" y="69.9" width="1" height="1" fill="#347dcf"/>
<rect x="472.5" y="58.9" width="1" height="1" fill="#347dcf"/>
<rect x="456.6" y="82.1" width="1" height="1" fill="#347dcf"/>
<rect x="449.0" y="81.4" width="1" height="1" fill="#347dcf"/>
<rect x="447.3" y="80.7" width="1" height="1" fill="#347dcf"/>
<rect x="448.0" y="63.6" width="1" height="1" fill="#347ecf"/>
<rect x="441.5" y="75.8" width="1" height="1" fill="#347ecf"/>
<rect x="459.9" y="58.4" width="1" height="1" fill="#357ece"/>
<rect x="441.2" y="76.0" width="1" height="1" fill="#357ece"/>
<rect x="452.8" y="60.6" width="1" height="1" fill="#357ece"/>
<rect x="478.8" y="68.3" width="1" height="1" fill="#357ece"/>
<rect x="458.0" y="83.4" width="1" height="1" fill="#357ece"/>
<rect x="454.4" y="59.3" width="1" height="1" fill="#357fce"/>
<rect x="464.3" y="80.7" width="1" height="1" fill="#357fce"/>
<rect x="473.4" y="58.7" width="1" height="1" fill="#357fce"/>
<rect x="448.2" y="62.9" width="1" height="1" fill="#357fce"/>
<rect x="471.1" y="58.4" width="1" height="1" fill="#357fce"/>
<rect x="476.7" y="60.4" width="1" height="1" fill="#357fce"/>
<rect x="449.5" y="82.4" width="1" height="1" fill="#357fce"/>
<rect x="441.4" y="70.1" width="1" height="1" fill="#357fce"/>
<rect x="448.1" y="82.3" width="1" height="1" fill="#357fce"/>
<rect x="473.6" y="76.2" width="1" height="1" fill="#357fce"/>
<rect x="467.4" y="79.8" width="1" height="1" fill="#357fce"/>
<rect x="479.4" y="66.4" width="1" height="1" fill="#3580ce"/>
<rect x="454.5" y="82.4" width="1" height="1" fill="#3580ce"/>
<rect x="442.8" y="78.1" width="1" height="1" fill="#3580ce"/>
<rect x="477.1" y="69.2" width="1" height="1" fill="#3580ce"/>
<rect x="467.4" y="57.1" width="1" height="1" fill="#3581ce"/>
<rect x="442.9" y="76.6" width="1" height="1" fill="#3581ce"/>
<rect x="466.7" y="57.9" width="1" height="1" fill="#3581ce"/>
<rect x="475.8" y="59.2" width="1" height="1" fill="#3581ce"/>
<rect x="455.9" y="58.8" width="1" height="1" fill="#3581ce"/>
<rect x="457.3" y="83.0" width="1" height="1" fill="#3581ce"/>
<rect x="476.5" y="68.1" width="1" height="1" fill="#3581ce"/>
<rect x="444.9" y="78.4" width="1" height="1" fill="#3581ce"/>
<rect x="475.7" y="61.2" width="1" height="1" fill="#3581ce"/>
<rect x="479.1" y="67.4" width="1" height="1" fill="#3581ce"/>
<rect x="473.1" y="76.1" width="1" height="1" fill="#3581ce"/>
<rect x="462.5" y="81.7" width="1" height="1" fill="#3582ce"/>
<rect x="443.7" y="76.1" width="1" height="1" fill="#3582ce"/>
<rect x="477.6" y="63.2" width="1" height="1" fill="#3582ce"/>
<rect x="440.5" y="73.3" width="1" height="1" fill="#3582ce"/>
<rect x="475.5" y="61.6" width="1" height="1" fill="#3582ce"/>
<rect x="446.1" y="65.0" width="1" height="1" fill="#3582ce"/>
<rect x="478.7" y="62.7" width="1" height="1" fill="#3582ce"/>
<rect x="473.6" y="59.3" width="1" height="1" fill="#3582ce"/>
<rect x="478.5" y="64.3" width="1" height="1" fill="#3583ce"/>
<rect x="446.4" y="64.0" width="1" height="1" fill="#3583ce"/>
<rect x="472.3" y="58.4" width="1" height="1" fill="#3583ce"/>
<rect x="471.2" y="77.0" width="1" height="1" fill="#3583ce"/>
<rect x="475.3" y="60.7" width="1" height="1" fill="#3583ce"/>
<rect x="479.1" y="63.9" width="1" height="1" fill="#3583ce"/>
<rect x="466.5" y="80.4" width="1" height="1" fill="#3583ce"/>
<rect x="449.0" y="82.4" width="1" height="1" fill="#3583ce"/>
<rect x="475.7" y="61.5" width="1" height="1" fill="#3583ce"/>
<rect x="442.5" y="77.4" width="1" height="1" fill="#3684cd"/>
<rect x="468.6" y="57.7" width="1" height="1" fill="#3684cd"/>
<rect x="450.8" y="81.5" width="1" height="1" fill="#3684cd"/>
<rect x="457.3" y="58.4" width="1" height="1" fill="#3684cd"/>
<rect x="467.7" y="58.3" width="1" height="1" fill="#3684cd"/>
<rect x="443.4" y="69.7" width="1" height="1" fill="#3684cd"/>
<rect x="471.0" y="57.9" width="1" height="1" fill="#3684cd"/>
<rect x="458.8" y="58.4" width="1" height="1" fill="#3684cd"/>
<rect x="470.1" y="58.0" width="1" height="1" fill="#3685cd"/>
<rect x="455.3" y="82.6" width="1" height="1" fill="#3685cd"/>
<rect x="458.0" y="58.6" width="1" height="1" fill="#3685cd"/>
<rect x="469.6" y="78.3" width="1" height="1" fill="#3685cd"/>
<rect x="443.7" y="76.6" width="1" height="1" fill="#3685cd"/>
<rect x="477.1" y="70.5" width="1" height="1" fill="#3685cd"/>
<rect x="465.8" y="57.0" width="1" height="1" fill="#3685cd"/>
<rect x="461.4" y="57.4" width="1" height="1" fill="#3685cd"/>
<rect x="442.1" y="73.0" width="1" height="1" fill="#3685cd"/>
<rect x="468.7" y="58.7" width="1" height="1" fill="#3686cd"/>
<rect x="449.5" y="63.5" width="1" height="1" fill="#3686cd"/>
<rect x="478.7" y="66.3" width="1" height="1" fill="#3686cd"/>
<rect x="466.4" y="58.5" width="1" height="1" fill="#3686cd"/>
<rect x="466.8" y="58.6" width="1" height="1" fill="#3686cd"/>
<rect x="441.8" y="73.3" width="1" height="1" fill="#3686cd"/>
<rect x="442.1" y="75.5" width="1" height="1" fill="#3686cd"/>
<rect x="445.2" y="79.6" width="1" height="1" fill="#3686cd"/>
<rect x="442.6" y="78.4" width="1" height="1" fill="#3686cd"/>
<rect x="445.0" y="68.8" width="1" height="1" fill="#3686cd"/>
<rect x="444.0" y="68.0" width="1" height="1" fill="#3686cd"/>
<rect x="455.9" y="83.1" width="1" height="1" fill="#3687cd"/>
<rect x="469.8" y="57.6" width="1" height="1" fill="#3687cd"/>
<rect x="445.7" y="65.3" width="1" height="1" fill="#3687cd"/>
<rect x="455.2" y="60.7" width="1" height="1" fill="#3687cd"/>
<rect x="444.7" y="77.0" width="1" height="1" fill="#3687cd"/>
<rect x="442.6" y="70.6" width="1" height="1" fill="#3687cd"/>
<rect x="471.5" y="58.0" width="1" height="1" fill="#3688cd"/>
<rect x="457.7" y="82.6" width="1" height="1" fill="#3688cd"/>
<rect x="468.5" y="78.7" width="1" height="1" fill="#3688cd"/>
<rect x="475.7" y="62.1" width="1" height="1" fill="#3688cd"/>
<rect x="469.5" y="78.6" width="1" height="1" fill="#3688cd"/>
<rect x="459.6" y="58.0" width="1" height="1" fill="#3688cd"/>
<rect x="443.9" y="77.6" width="1" height="1" fill="#3689cd"/>
<rect x="444.0" y="77.7" width="1" height="1" fill="#3689cd"/>
<rect x="449.3" y="64.3" width="1" height="1" fill="#3689cd"/>
<rect x="476.5" y="70.0" width="1" height="1" fill="#3789cc"/>
<rect x="459.2" y="81.6" width="1" height="1" fill="#3789cc"/>
<rect x="446.8" y="66.2" width="1" height="1" fill="#3789cc"/>
<rect x="447.0" y="64.1" width="1" height="1" fill="#3789cc"/>
<rect x="457.7" y="58.9" width="1" height="1" fill="#3789cc"/>
<rect x="471.4" y="58.8" width="1" height="1" fill="#3789cc"/>
<rect x="447.4" y="64.1" width="1" height="1" fill="#378acc"/>
<rect x="474.3" y="61.8" width="1" height="1" fill="#378acc"/>
<rect x="444.1" y="67.6" width="1" height="1" fill="#378acc"/>
<rect x="444.1" y="75.9" width="1" height="1" fill="#378acc"/>
<rect x="451.6" y="61.2" width="1" height="1" fill="#378acc"/>
<rect x="469.7" y="78.3" width="1" height="1" fill="#378acc"/>
<rect x="477.0" y="69.5" width="1" height="1" fill="#378acc"/>
<rect x="464.8" y="57.9" width="1" height="1" fill="#378bcc"/>
<rect x="451.8" y="62.5" width="1" height="1" fill="#378bcc"/>
<rect x="464.4" y="58.3" width="1" height="1" fill="#378bcc"/>
<rect x="444.2" y="70.5" width="1" height="1" fill="#378bcc"/>
<rect x="473.5" y="59.5" width="1" height="1" fill="#378bcc"/>
<rect x="442.0" y="73.8" width="1" height="1" fill="#378bcc"/>
<rect x="450.7" y="80.7" width="1" height="1" fill="#378ccc"/>
<rect x="442.6" y="69.8" width="1" height="1" fill="#378ccc"/>
<rect x="443.5" y="73.5" width="1" height="1" fill="#378ccc"/>
<rect x="446.4" y="66.3" width="1" height="1" fill="#378ccc"/>
<rect x="443.6" y="77.4" width="1" height="1" fill="#378ccc"/>
<rect x="450.9" y="81.1" width="1" height="1" fill="#378ccc"/>
<rect x="477.4" y="68.3" width="1" height="1" fill="#378ccc"/>
<rect x="467.1" y="79.1" width="1" height="1" fill="#378ccc"/>
<rect x="458.8" y="59.3" width="1" height="1" fill="#378dcc"/>
<rect x="453.8" y="81.0" width="1" height="1" fill="#378dcc"/>
<rect x="476.0" y="66.9" width="1" height="1" fill="#378dcc"/>
<rect x="476.5" y="62.5" width="1" height="1" fill="#378dcc"/>
<rect x="467.4" y="78.9" width="1" height="1" fill="#378dcc"/>
<rect x="471.1" y="60.2" width="1" height="1" fill="#378dcc"/>
<rect x="474.5" y="62.4" width="1" height="1" fill="#378ecc"/>
<rect x="477.8" y="68.3" width="1" height="1" fill="#378ecc"/>
<rect x="449.3" y="81.4" width="1" height="1" fill="#378ecc"/>
<rect x="450.3" y="81.6" width="1" height="1" fill="#378ecc"/>
<rect x="453.2" y="81.9" width="1" height="1" fill="#378ecc"/>
<rect x="447.8" y="79.6" width="1" height="1" fill="#378ecc"/>
<rect x="455.7" y="59.3" width="1" height="1" fill="#388fcb"/>
<rect x="447.7" y="80.3" width="1" height="1" fill="#388fcb"/>
<rect x="476.7" y="70.0" width="1" height="1" fill="#388fcb"/>
<rect x="455.5" y="81.7" width="1" height="1" fill="#388fcb"/>
<rect x="453.6" y="82.6" width="1" height="1" fill="#388fcb"/>
<rect x="444.0" y="69.5" width="1" height="1" fill="#388fcb"/>
<rect x="453.3" y="61.0" width="1" height="1" fill="#388fcb"/>
<rect x="444.4" y="74.3" width="1" height="1" fill="#388fcb"/>
<rect x="473.1" y="75.9" width="1" height="1" fill="#3890cb"/>
<rect x="454.8" y="60.7" width="1" height="1" fill="#3890cb"/>
<rect x="455.6" y="59.7" width="1" height="1" fill="#3890cb"/>
<rect x="444.8" y="77.3" width="1" height="1" fill="#3890cb"/>
<rect x="443.1" y="76.2" width="1" height="1" fill="#3890cb"/>
<rect x="457.6" y="80.7" width="1" height="1" fill="#3890cb"/>
<rect x="467.7" y="77.5" width="1" height="1" fill="#3890cb"/>
<rect x="443.4" y="69.7" width="1" height="1" fill="#3890cb"/>
<rect x="443.9" y="70.1" width="1" height="1" fill="#3890cb"/>
<rect x="444.3" y="77.1" width="1" height="1" fill="#3890cb"/>
<rect x="469.8" y="77.1" width="1" height="1" fill="#3891cb"/>
<rect x="454.2" y="80.8" width="1" height="1" fill="#3891cb"/>
<rect x="472.7" y="60.3" width="1" height="1" fill="#3891cb"/>
<rect x="477.4" y="63.5" width="1" height="1" fill="#3892cb"/>
<rect x="450.8" y="62.1" width="1" height="1" fill="#3892cb"/>
<rect x="464.5" y="80.0" width="1" height="1" fill="#3892cb"/>
<rect x="443.7" y="71.5" width="1" height="1" fill="#3892cb"/>
<rect x="457.1" y="59.9" width="1" height="1" fill="#3892cb"/>
<rect x="460.9" y="80.2" width="1" height="1" fill="#3893cb"/>
<rect x="451.2" y="80.4" width="1" height="1" fill="#3893cb"/>
<rect x="457.7" y="80.8" width="1" height="1" fill="#3893cb"/>
<rect x="457.9" y="80.5" width="1" height="1" fill="#3893cb"/>
<rect x="471.3" y="59.3" width="1" height="1" fill="#3893cb"/>
<rect x="442.9" y="74.6" width="1" height="1" fill="#3893cb"/>
<rect x="447.5" y="65.1" width="1" height="1" fill="#3893cb"/>
<rect x="447.3" y="79.2" width="1" height="1" fill="#3893cb"/>
<rect x="460.5" y="81.2" width="1" height="1" fill="#3894cb"/>
<rect x="445.9" y="68.3" width="1" height="1" fill="#3894cb"/>
<rect x="455.2" y="81.9" width="1" height="1" fill="#3894cb"/>
<rect x="443.6" y="70.2" width="1" height="1" fill="#3994ca"/>
<rect x="446.4" y="66.5" width="1" height="1" fill="#3994ca"/>
<rect x="449.3" y="64.7" width="1" height="1" fill="#3995ca"/>
<rect x="455.3" y="80.8" width="1" height="1" fill="#3995ca"/>
<rect x="444.3" y="74.6" width="1" height="1" fill="#3995ca"/>
<rect x="446.6" y="79.5" width="1" height="1" fill="#3996ca"/>
<rect x="472.9" y="60.9" width="1" height="1" fill="#3996ca"/>
<rect x="444.5" y="73.6" width="1" height="1" fill="#3996ca"/>
<rect x="443.3" y="75.6" width="1" height="1" fill="#3996ca"/>
<rect x="447.9" y="78.9" width="1" height="1" fill="#3996ca"/>
<rect x="455.6" y="59.9" width="1" height="1" fill="#3996ca"/>
<rect x="474.7" y="63.9" width="1" height="1" fill="#3996ca"/>
<rect x="459.2" y="81.6" width="1" height="1" fill="#3996ca"/>
<rect x="457.6" y="60.2" width="1" height="1" fill="#3996ca"/>
<rect x="474.6" y="61.8" width="1" height="1" fill="#3996ca"/>
<rect x="463.4" y="79.2" width="1" height="1" fill="#3997ca"/>
<rect x="469.1" y="60.0" width="1" height="1" fill="#3997ca"/>
<rect x="465.6" y="58.9" width="1" height="1" fill="#3997ca"/>
<rect x="448.0" y="65.8" width="1" height="1" fill="#3997ca"/>
<rect x="451.5" y="80.9" width="1" height="1" fill="#3997ca"/>
<rect x="451.0" y="80.8" width="1" height="1" fill="#3997ca"/>
<rect x="467.2" y="59.7" width="1" height="1" fill="#3997ca"/>
<rect x="453.1" y="60.9" width="1" height="1" fill="#3997ca"/>
<rect x="445.8" y="77.6" width="1" height="1" fill="#3997ca"/>
<rect x="466.4" y="78.9" width="1" height="1" fill="#3998ca"/>
<rect x="448.9" y="79.7" width="1" height="1" fill="#3998ca"/>
<rect x="451.7" y="81.0" width="1" height="1" fill="#3998ca"/>
<rect x="447.9" y="79.2" width="1" height="1" fill="#3998ca"/>
<rect x="460.1" y="58.9" width="1" height="1" fill="#3998ca"/>
<rect x="471.2" y="59.8" width="1" height="1" fill="#3998ca"/>
<rect x="467.4" y="78.0" width="1" height="1" fill="#3998ca"/>
<rect x="454.0" y="62.1" width="1" height="1" fill="#3999ca"/>
<rect x="443.6" y="73.7" width="1" height="1" fill="#3999ca"/>
<rect x="447.8" y="79.0" width="1" height="1" fill="#3a9ac9"/>
<rect x="470.1" y="60.0" width="1" height="1" fill="#3a9ac9"/>
<rect x="460.5" y="80.5" width="1" height="1" fill="#3a9ac9"/>
<rect x="461.4" y="80.0" width="1" height="1" fill="#3a9ac9"/>
<rect x="462.6" y="59.2" width="1" height="1" fill="#3a9bc9"/>
<rect x="452.9" y="80.4" width="1" height="1" fill="#3a9bc9"/>
<rect x="443.3" y="71.7" width="1" height="1" fill="#3a9bc9"/>
<rect x="469.2" y="59.6" width="1" height="1" fill="#3a9cc9"/>
<rect x="462.4" y="58.6" width="1" height="1" fill="#3a9cc9"/>
<rect x="475.6" y="65.6" width="1" height="1" fill="#3a9cc9"/>
<rect x="449.3" y="79.9" width="1" height="1" fill="#3a9cc9"/>
<rect x="447.7" y="66.4" width="1" height="1" fill="#3a9cc9"/>
<rect x="445.3" y="76.8" width="1" height="1" fill="#3a9cc9"/>
<rect x="460.7" y="80.9" width="1" height="1" fill="#3a9dc9"/>
<rect x="468.8" y="59.1" width="1" height="1" fill="#3a9dc9"/>
<rect x="450.0" y="81.2" width="1" height="1" fill="#3a9ec9"/>
<rect x="468.4" y="60.2" width="1" height="1" fill="#3a9ec9"/>
<rect x="468.4" y="58.5" width="1" height="1" fill="#3a9ec9"/>
<rect x="458.4" y="81.1" width="1" height="1" fill="#3a9fc9"/>
<rect x="467.3" y="59.5" width="1" height="1" fill="#3a9fc9"/>
<rect x="450.0" y="79.8" width="1" height="1" fill="#3b9fc8"/>
<rect x="449.1" y="65.7" width="1" height="1" fill="#3b9fc8"/>
<rect x="450.0" y="64.8" width="1" height="1" fill="#3b9fc8"/>
<rect x="445.7" y="75.7" width="1" height="1" fill="#3ba0c8"/>
<rect x="449.0" y="66.2" width="1" height="1" fill="#3ba0c8"/>
<rect x="454.7" y="80.8" width="1" height="1" fill="#3ba0c8"/>
<rect x="476.2" y="68.7" width="1" height="1" fill="#3ba0c8"/>
<rect x="475.6" y="67.5" width="1" height="1" fill="#3ba0c8"/>
<rect x="446.0" y="68.1" width="1" height="1" fill="#3ba0c8"/>
<rect x="450.4" y="63.6" width="1" height="1" fill="#3ba0c8"/>
<rect x="468.4" y="60.0" width="1" height="1" fill="#3ba0c8"/>
<rect x="444.7" y="71.2" width="1" height="1" fill="#3ba1c8"/>
<rect x="457.4" y="79.8" width="1" height="1" fill="#3ba1c8"/>
<rect x="449.2" y="80.4" width="1" height="1" fill="#3ba1c8"/>
<rect x="446.8" y="78.1" width="1" height="1" fill="#3ba1c8"/>
<rect x="448.4" y="79.7" width="1" height="1" fill="#3ba1c8"/>
<rect x="476.0" y="65.6" width="1" height="1" fill="#3ba1c8"/>
<rect x="443.8" y="71.0" width="1" height="1" fill="#3ba1c8"/>
<rect x="464.4" y="78.0" width="1" height="1" fill="#3ba1c8"/>
<rect x="447.0" y="79.3" width="1" height="1" fill="#3ba1c8"/>
<rect x="460.5" y="59.1" width="1" height="1" fill="#3ba2c8"/>
<rect x="459.7" y="59.4" width="1" height="1" fill="#3ba2c8"/>
<rect x="476.5" y="66.3" width="1" height="1" fill="#3ba2c8"/>
<rect x="451.6" y="64.0" width="1" height="1" fill="#3ba2c8"/>
<rect x="453.6" y="61.8" width="1" height="1" fill="#3ba2c8"/>
<rect x="443.9" y="71.3" width="1" height="1" fill="#3ba2c8"/>
<rect x="470.8" y="60.5" width="1" height="1" fill="#3ba2c8"/>
<rect x="446.7" y="76.4" width="1" height="1" fill="#3ba2c8"/>
<rect x="470.7" y="76.7" width="1" height="1" fill="#3ba3c8"/>
<rect x="444.8" y="77.6" width="1" height="1" fill="#3ba3c8"/>
<rect x="449.1" y="78.4" width="1" height="1" fill="#3ba3c8"/>
<rect x="446.9" y="77.6" width="1" height="1" fill="#3ba3c8"/>
<rect x="475.1" y="65.2" width="1" height="1" fill="#3ba3c8"/>
<rect x="446.0" y="67.8" width="1" height="1" fill="#3ba3c8"/>
<rect x="455.2" y="80.9" width="1" height="1" fill="#3ba3c8"/>
<rect x="447.7" y="66.8" width="1" height="1" fill="#3ba3c8"/>
<rect x="445.3" y="73.6" width="1" height="1" fill="#3ba3c8"/>
<rect x="444.3" y="75.6" width="1" height="1" fill="#3ba3c8"/>
<rect x="472.5" y="76.0" width="1" height="1" fill="#3ba4c8"/>
<rect x="445.7" y="75.0" width="1" height="1" fill="#3ba4c8"/>
<rect x="453.1" y="62.0" width="1" height="1" fill="#3ba4c8"/>
<rect x="469.9" y="76.8" width="1" height="1" fill="#3ba4c8"/>
<rect x="460.2" y="59.4" width="1" height="1" fill="#3ba4c8"/>
<rect x="446.6" y="75.3" width="1" height="1" fill="#3ba4c8"/>
<rect x="476.0" y="72.4" width="1" height="1" fill="#3ba4c8"/>
<rect x="450.0" y="64.7" width="1" height="1" fill="#3ba4c8"/>
<rect x="475.4" y="63.0" width="1" height="1" fill="#3ca5c7"/>
<rect x="444.0" y="73.7" width="1" height="1" fill="#3ca5c7"/>
<rect x="476.2" y="67.6" width="1" height="1" fill="#3ca5c6"/>
<rect x="445.7" y="73.7" width="1" height="1" fill="#3ca5c5"/>
<rect x="458.5" y="59.6" width="1" height="1" fill="#3ca5c5"/>
<rect x="449.6" y="65.6" width="1" height="1" fill="#3da5c4"/>
<rect x="451.9" y="63.9" width="1" height="1" fill="#3da5c4"/>
<rect x="450.3" y="80.7" width="1" height="1" fill="#3da5c4"/>
<rect x="445.9" y="76.4" width="1" height="1" fill="#3da5c4"/>
<rect x="475.6" y="68.1" width="1" height="1" fill="#3da5c3"/>
<rect x="450.8" y="65.2" width="1" height="1" fill="#3da5c3"/>
<rect x="450.8" y="63.7" width="1" height="1" fill="#3da5c3"/>
<rect x="447.7" y="68.3" width="1" height="1" fill="#3da6c2"/>
<rect x="470.5" y="76.8" width="1" height="1" fill="#3da6c2"/>
<rect x="460.9" y="79.8" width="1" height="1" fill="#3da6c2"/>
<rect x="459.4" y="61.4" width="1" height="1" fill="#3ea6c1"/>
<rect x="446.3" y="67.7" width="1" height="1" fill="#3ea6c0"/>
<rect x="475.3" y="67.6" width="1" height="1" fill="#3ea6c0"/>
<rect x="473.7" y="64.9" width="1" height="1" fill="#3ea6c0"/>
<rect x="467.0" y="61.3" width="1" height="1" fill="#3ea6c0"/>
<rect x="471.5" y="63.2" width="1" height="1" fill="#3ea6bf"/>
<rect x="463.7" y="77.3" width="1" height="1" fill="#3ea6bf"/>
<rect x="465.7" y="77.4" width="1" height="1" fill="#3ea6bf"/>
<rect x="475.0" y="64.0" width="1" height="1" fill="#3fa6be"/>
<rect x="475.5" y="73.3" width="1" height="1" fill="#3fa6be"/>
<rect x="446.1" y="73.2" width="1" height="1" fill="#3fa6bd"/>
<rect x="450.7" y="77.8" width="1" height="1" fill="#3fa6bd"/>
<rect x="447.5" y="67.2" width="1" height="1" fill="#3fa6bd"/>
<rect x="447.5" y="69.0" width="1" height="1" fill="#3fa7bd"/>
<rect x="457.3" y="80.8" width="1" height="1" fill="#3fa7bd"/>
<rect x="465.6" y="60.8" width="1" height="1" fill="#3fa7bd"/>
<rect x="462.7" y="59.6" width="1" height="1" fill="#3fa7bc"/>
<rect x="446.8" y="74.5" width="1" height="1" fill="#3fa7bc"/>
<rect x="459.1" y="80.8" width="1" height="1" fill="#40a7bb"/>
<rect x="465.0" y="78.1" width="1" height="1" fill="#40a7bb"/>
<rect x="451.0" y="65.3" width="1" height="1" fill="#40a7bb"/>
<rect x="450.8" y="66.1" width="1" height="1" fill="#40a7bb"/>
<rect x="466.8" y="60.4" width="1" height="1" fill="#40a7bb"/>
<rect x="475.5" y="65.7" width="1" height="1" fill="#40a7bb"/>
<rect x="458.3" y="79.6" width="1" height="1" fill="#40a7bb"/>
<rect x="450.0" y="78.4" width="1" height="1" fill="#40a7bb"/>
<rect x="468.1" y="61.7" width="1" height="1" fill="#40a7bb"/>
<rect x="447.3" y="68.3" width="1" height="1" fill="#40a7bb"/>
<rect x="445.1" y="72.9" width="1" height="1" fill="#40a7bb"/>
<rect x="449.3" y="80.1" width="1" height="1" fill="#40a7bb"/>
<rect x="448.1" y="66.1" width="1" height="1" fill="#40a7ba"/>
<rect x="471.9" y="75.8" width="1" height="1" fill="#40a7ba"/>
<rect x="452.5" y="64.0" width="1" height="1" fill="#40a7ba"/>
<rect x="453.6" y="80.1" width="1" height="1" fill="#40a7ba"/>
<rect x="449.6" y="79.7" width="1" height="1" fill="#40a7b9"/>
<rect x="447.6" y="77.7" width="1" height="1" fill="#40a7b9"/>
<rect x="461.7" y="59.6" width="1" height="1" fill="#40a7b9"/>
<rect x="453.2" y="63.6" width="1" height="1" fill="#40a7b9"/>
<rect x="474.6" y="64.1" width="1" height="1" fill="#41a7b8"/>
<rect x="446.5" y="70.2" width="1" height="1" fill="#41a7b8"/>
<rect x="447.9" y="67.2" width="1" height="1" fill="#41a7b8"/>
<rect x="455.1" y="61.2" width="1" height="1" fill="#41a7b8"/>
<rect x="475.7" y="66.1" width="1" height="1" fill="#41a8b8"/>
<rect x="444.7" y="71.2" width="1" height="1" fill="#41a8b8"/>
<rect x="461.9" y="60.3" width="1" height="1" fill="#41a8b8"/>
<rect x="460.3" y="59.7" width="1" height="1" fill="#41a8b8"/>
<rect x="447.7" y="73.8" width="1" height="1" fill="#41a8b7"/>
<rect x="446.0" y="76.2" width="1" height="1" fill="#41a8b7"/>
<rect x="458.8" y="79.2" width="1" height="1" fill="#41a8b7"/>
<rect x="452.3" y="78.0" width="1" height="1" fill="#41a8b6"/>
<rect x="447.9" y="77.7" width="1" height="1" fill="#41a8b6"/>
<rect x="445.7" y="69.2" width="1" height="1" fill="#41a8b6"/>
<rect x="461.2" y="79.5" width="1" height="1" fill="#42a8b5"/>
<rect x="457.3" y="79.3" width="1" height="1" fill="#42a8b5"/>
<rect x="456.3" y="78.7" width="1" height="1" fill="#42a8b4"/>
<rect x="475.2" y="66.2" width="1" height="1" fill="#42a8b3"/>
<rect x="472.3" y="64.3" width="1" height="1" fill="#42a8b3"/>
<rect x="468.5" y="77.4" width="1" height="1" fill="#42a8b3"/>
<rect x="462.6" y="60.2" width="1" height="1" fill="#43a9b2"/>
<rect x="458.7" y="60.7" width="1" height="1" fill="#43a9b2"/>
<rect x="465.7" y="59.6" width="1" height="1" fill="#43a9b2"/>
<rect x="475.1" y="64.6" width="1" height="1" fill="#43a9b2"/>
<rect x="446.1" y="68.8" width="1" height="1" fill="#43a9b2"/>
<rect x="455.1" y="79.7" width="1" height="1" fill="#43a9b2"/>
<rect x="464.2" y="78.0" width="1" height="1" fill="#43a9b1"/>
<rect x="476.0" y="70.9" width="1" height="1" fill="#43a9b1"/>
<rect x="446.1" y="77.2" width="1" height="1" fill="#43a9b1"/>
<rect x="461.7" y="79.8" width="1" height="1" fill="#43a9b1"/>
<rect x="451.8" y="66.1" width="1" height="1" fill="#43a9b1"/>
<rect x="453.7" y="78.5" width="1" height="1" fill="#43a9b1"/>
<rect x="454.6" y="79.7" width="1" height="1" fill="#43a9b1"/>
<rect x="446.0" y="70.7" width="1" height="1" fill="#43a9b1"/>
<rect x="456.6" y="78.6" width="1" height="1" fill="#43a9b0"/>
<rect x="475.8" y="68.5" width="1" height="1" fill="#43a9b0"/>
<rect x="451.5" y="79.1" width="1" height="1" fill="#44a9af"/>
<rect x="448.8" y="66.9" width="1" height="1" fill="#44a9af"/>
<rect x="458.1" y="60.3" width="1" height="1" fill="#44a9ae"/>
<rect x="447.5" y="78.1" width="1" height="1" fill="#44a9ae"/>
<rect x="444.8" y="73.1" width="1" height="1" fill="#44a9ae"/>
<rect x="473.8" y="62.6" width="1" height="1" fill="#44a9ae"/>
<rect x="450.1" y="78.2" width="1" height="1" fill="#44a9ae"/>
<rect x="471.4" y="64.8" width="1" height="1" fill="#44a9ad"/>
<rect x="452.4" y="65.0" width="1" height="1" fill="#44aaad"/>
<rect x="467.7" y="59.6" width="1" height="1" fill="#45aaac"/>
<rect x="454.3" y="80.3" width="1" height="1" fill="#45aaac"/>
<rect x="463.6" y="78.3" width="1" height="1" fill="#45aaac"/>
<rect x="476.0" y="69.5" width="1" height="1" fill="#45aaac"/>
<rect x="445.7" y="76.5" width="1" height="1" fill="#45aaac"/>
<rect x="452.1" y="77.6" width="1" height="1" fill="#45aaab"/>
<rect x="464.5" y="59.5" width="1" height="1" fill="#45aaab"/>
<rect x="473.8" y="63.3" width="1" height="1" fill="#45aaab"/>
<rect x="462.5" y="78.3" width="1" height="1" fill="#45aaab"/>
<rect x="455.9" y="63.1" width="1" height="1" fill="#45aaab"/>
<rect x="449.1" y="77.6" width="1" height="1" fill="#45aaab"/>
<rect x="450.6" y="77.3" width="1" height="1" fill="#45aaaa"/>
<rect x="449.7" y="75.2" width="1" height="1" fill="#45aaaa"/>
<rect x="445.4" y="73.8" width="1" height="1" fill="#46aaa9"/>
<rect x="447.1" y="72.5" width="1" height="1" fill="#46aaa9"/>
<rect x="453.0" y="77.3" width="1" height="1" fill="#46aaa9"/>
<rect x="448.3" y="76.3" width="1" height="1" fill="#46aaa9"/>
<rect x="445.8" y="75.5" width="1" height="1" fill="#46aaa9"/>
<rect x="450.6" y="68.2" width="1" height="1" fill="#46aaa8"/>
<rect x="447.6" y="71.7" width="1" height="1" fill="#46aaa8"/>
<rect x="448.7" y="77.8" width="1" height="1" fill="#46aba8"/>
<rect x="474.0" y="74.7" width="1" height="1" fill="#46aba8"/>
<rect x="449.9" y="66.2" width="1" height="1" fill="#46aba8"/>
<rect x="452.0" y="64.9" width="1" height="1" fill="#46aba8"/>
<rect x="469.2" y="63.2" width="1" height="1" fill="#46aba7"/>
<rect x="451.6" y="64.6" width="1" height="1" fill="#46aba7"/>
<rect x="459.2" y="62.4" width="1" height="1" fill="#46aba7"/>
<rect x="446.0" y="72.0" width="1" height="1" fill="#46aba7"/>
<rect x="472.6" y="63.9" width="1" height="1" fill="#46aba7"/>
<rect x="466.3" y="61.9" width="1" height="1" fill="#46aba7"/>
<rect x="449.3" y="69.9" width="1" height="1" fill="#47aba6"/>
<rect x="473.7" y="65.5" width="1" height="1" fill="#47aba6"/>
<rect x="472.7" y="63.6" width="1" height="1" fill="#47aba6"/>
<rect x="475.8" y="69.5" width="1" height="1" fill="#47aba6"/>
<rect x="472.1" y="62.0" width="1" height="1" fill="#47aba5"/>
<rect x="462.5" y="61.6" width="1" height="1" fill="#47aba5"/>
<rect x="450.0" y="75.4" width="1" height="1" fill="#47aba5"/>
<rect x="465.3" y="62.2" width="1" height="1" fill="#47aba5"/>
<rect x="473.9" y="74.2" width="1" height="1" fill="#47aba5"/>
<rect x="465.8" y="77.1" width="1" height="1" fill="#47aba4"/>
<rect x="456.8" y="62.9" width="1" height="1" fill="#47aba4"/>
<rect x="459.1" y="80.1" width="1" height="1" fill="#47aba4"/>
<rect x="471.3" y="63.5" width="1" height="1" fill="#47aba4"/>
<rect x="454.7" y="77.9" width="1" height="1" fill="#48aba3"/>
<rect x="457.3" y="78.6" width="1" height="1" fill="#48aba3"/>
<rect x="458.6" y="78.9" width="1" height="1" fill="#48aba3"/>
<rect x="468.4" y="62.3" width="1" height="1" fill="#48aca2"/>
<rect x="468.4" y="60.2" width="1" height="1" fill="#48aca2"/>
<rect x="466.4" y="63.1" width="1" height="1" fill="#48aca2"/>
<rect x="469.1" y="63.5" width="1" height="1" fill="#48aca1"/>
<rect x="460.0" y="61.2" width="1" height="1" fill="#48aca1"/>
<rect x="449.2" y="74.9" width="1" height="1" fill="#48aca1"/>
<rect x="449.8" y="65.5" width="1" height="1" fill="#48aca1"/>
<rect x="448.7" y="68.1" width="1" height="1" fill="#48aca1"/>
<rect x="460.5" y="79.6" width="1" height="1" fill="#48aca1"/>
<rect x="458.0" y="79.7" width="1" height="1" fill="#48aca1"/>
<rect x="457.9" y="63.7" width="1" height="1" fill="#49aca0"/>
<rect x="447.0" y="68.6" width="1" height="1" fill="#49aca0"/>
<rect x="450.5" y="65.3" width="1" height="1" fill="#49aca0"/>
<rect x="470.3" y="62.2" width="1" height="1" fill="#49aca0"/>
<rect x="448.9" y="78.1" width="1" height="1" fill="#49aca0"/>
<rect x="455.1" y="77.3" width="1" height="1" fill="#49aca0"/>
<rect x="456.6" y="79.6" width="1" height="1" fill="#49aca0"/>
<rect x="451.7" y="76.8" width="1" height="1" fill="#49aca0"/>
<rect x="456.6" y="64.2" width="1" height="1" fill="#49ac9f"/>
<rect x="469.4" y="61.6" width="1" height="1" fill="#49ac9f"/>
<rect x="462.6" y="78.5" width="1" height="1" fill="#49ac9f"/>
<rect x="473.8" y="74.8" width="1" height="1" fill="#49ac9f"/>
<rect x="453.1" y="77.1" width="1" height="1" fill="#49ac9f"/>
<rect x="466.4" y="63.3" width="1" height="1" fill="#49ac9e"/>
<rect x="449.4" y="76.3" width="1" height="1" fill="#49ac9e"/>
<rect x="447.4" y="71.3" width="1" height="1" fill="#49ac9e"/>
<rect x="449.4" y="66.2" width="1" height="1" fill="#49ac9e"/>
<rect x="445.6" y="72.5" width="1" height="1" fill="#4aad9d"/>
<rect x="465.7" y="63.1" width="1" height="1" fill="#4aad9d"/>
<rect x="450.6" y="75.5" width="1" height="1" fill="#4aad9d"/>
<rect x="463.7" y="59.8" width="1" height="1" fill="#4aad9d"/>
<rect x="454.1" y="78.3" width="1" height="1" fill="#4aad9c"/>
<rect x="446.9" y="68.8" width="1" height="1" fill="#4aad9c"/>
<rect x="452.5" y="77.8" width="1" height="1" fill="#4aad9c"/>
<rect x="464.1" y="77.4" width="1" height="1" fill="#4aad9c"/>
<rect x="450.6" y="65.1" width="1" height="1" fill="#4aad9b"/>
<rect x="456.1" y="78.3" width="1" height="1" fill="#4aad9b"/>
<rect x="462.7" y="62.7" width="1" height="1" fill="#4aad9b"/>
<rect x="461.4" y="61.3" width="1" height="1" fill="#4aad9b"/>
<rect x="451.2" y="68.0" width="1" height="1" fill="#4aad9b"/>
<rect x="472.2" y="62.3" width="1" height="1" fill="#4bad9a"/>
<rect x="475.3" y="72.6" width="1" height="1" fill="#4bad9a"/>
<rect x="451.9" y="64.8" width="1" height="1" fill="#4bad9a"/>
<rect x="448.7" y="77.4" width="1" height="1" fill="#4bad9a"/>
<rect x="464.1" y="63.2" width="1" height="1" fill="#4bad9a"/>
<rect x="463.4" y="60.6" width="1" height="1" fill="#4bad99"/>
<rect x="450.9" y="78.9" width="1" height="1" fill="#4bad99"/>
<rect x="454.1" y="63.1" width="1" height="1" fill="#4bad99"/>
<rect x="449.8" y="68.6" width="1" height="1" fill="#4bae98"/>
<rect x="447.5" y="76.2" width="1" height="1" fill="#4bae98"/>
<rect x="466.6" y="62.9" width="1" height="1" fill="#4cae97"/>
<rect x="446.3" y="71.4" width="1" height="1" fill="#4cae97"/>
<rect x="449.4" y="66.4" width="1" height="1" fill="#4cae97"/>
<rect x="466.3" y="61.5" width="1" height="1" fill="#4cae97"/>
<rect x="456.3" y="64.6" width="1" height="1" fill="#4cae97"/>
<rect x="447.3" y="69.9" width="1" height="1" fill="#4cae96"/>
<rect x="457.7" y="62.8" width="1" height="1" fill="#4cae96"/>
<rect x="451.3" y="66.1" width="1" height="1" fill="#4cae96"/>
<rect x="454.9" y="64.4" width="1" height="1" fill="#4cae96"/>
<rect x="472.1" y="75.2" width="1" height="1" fill="#4cae95"/>
<rect x="461.0" y="61.3" width="1" height="1" fill="#4cae95"/>
<rect x="446.2" y="71.0" width="1" height="1" fill="#4cae95"/>
<rect x="457.2" y="64.1" width="1" height="1" fill="#4cae95"/>
<rect x="464.2" y="62.6" width="1" height="1" fill="#4cae95"/>
<rect x="446.4" y="69.8" width="1" height="1" fill="#4cae95"/>
<rect x="446.8" y="69.0" width="1" height="1" fill="#4dae94"/>
<rect x="452.2" y="66.8" width="1" height="1" fill="#4dae94"/>
<rect x="447.9" y="77.4" width="1" height="1" fill="#4dae93"/>
<rect x="462.4" y="77.1" width="1" height="1" fill="#4daf93"/>
<rect x="465.6" y="62.3" width="1" height="1" fill="#4daf93"/>
<rect x="459.0" y="63.0" width="1" height="1" fill="#4daf92"/>
<rect x="452.5" y="77.3" width="1" height="1" fill="#4daf92"/>
<rect x="449.5" y="77.3" width="1" height="1" fill="#4daf92"/>
<rect x="463.3" y="62.5" width="1" height="1" fill="#4eaf91"/>
<rect x="471.9" y="63.1" width="1" height="1" fill="#4eaf91"/>
<rect x="460.0" y="76.4" width="1" height="1" fill="#4eaf90"/>
<rect x="466.9" y="62.0" width="1" height="1" fill="#4eaf90"/>
<rect x="456.1" y="62.4" width="1" height="1" fill="#4eaf90"/>
<rect x="459.0" y="78.7" width="1" height="1" fill="#4eaf90"/>
<rect x="464.9" y="64.5" width="1" height="1" fill="#4eaf90"/>
<rect x="451.7" y="67.7" width="1" height="1" fill="#4eaf90"/>
<rect x="465.6" y="62.4" width="1" height="1" fill="#4eaf90"/>
<rect x="448.9" y="69.6" width="1" height="1" fill="#4eaf8f"/>
<rect x="467.6" y="60.6" width="1" height="1" fill="#4eaf8f"/>
<rect x="461.2" y="78.5" width="1" height="1" fill="#4eaf8f"/>
<rect x="453.3" y="74.0" width="1" height="1" fill="#4eaf8f"/>
<rect x="454.7" y="63.0" width="1" height="1" fill="#4eaf8f"/>
<rect x="458.7" y="62.1" width="1" height="1" fill="#4faf8e"/>
<rect x="456.2" y="77.2" width="1" height="1" fill="#4faf8e"/>
<rect x="453.0" y="71.3" width="1" height="1" fill="#4faf8e"/>
<rect x="470.9" y="62.3" width="1" height="1" fill="#4faf8e"/>
<rect x="446.3" y="71.3" width="1" height="1" fill="#4faf8e"/>
<rect x="458.2" y="78.9" width="1" height="1" fill="#4fb08d"/>
<rect x="459.9" y="62.3" width="1" height="1" fill="#4fb08d"/>
<rect x="452.7" y="72.1" width="1" height="1" fill="#4fb08d"/>
<rect x="453.0" y="68.3" width="1" height="1" fill="#4fb08d"/>
<rect x="457.0" y="64.0" width="1" height="1" fill="#4fb08d"/>
<rect x="454.1" y="64.0" width="1" height="1" fill="#4fb08d"/>
<rect x="452.7" y="72.8" width="1" height="1" fill="#4fb08d"/>
<rect x="457.5" y="65.5" width="1" height="1" fill="#4fb08c"/>
<rect x="453.4" y="64.0" width="1" height="1" fill="#4fb08c"/>
<rect x="465.9" y="60.4" width="1" height="1" fill="#4fb08c"/>
<rect x="471.3" y="64.6" width="1" height="1" fill="#4fb08c"/>
<rect x="460.3" y="76.5" width="1" height="1" fill="#4fb08c"/>
<rect x="455.5" y="65.8" width="1" height="1" fill="#50b08b"/>
<rect x="454.2" y="72.6" width="1" height="1" fill="#50b08b"/>
<rect x="456.3" y="66.2" width="1" height="1" fill="#50b08a"/>
<rect x="450.9" y="68.4" width="1" height="1" fill="#50b08a"/>
<rect x="456.1" y="62.4" width="1" height="1" fill="#50b08a"/>
<rect x="456.0" y="73.8" width="1" height="1" fill="#50b08a"/>
<rect x="453.3" y="64.3" width="1" height="1" fill="#50b08a"/>
<rect x="463.2" y="64.7" width="1" height="1" fill="#50b08a"/>
<rect x="466.3" y="62.1" width="1" height="1" fill="#50b08a"/>
<rect x="455.5" y="63.8" width="1" height="1" fill="#50b08a"/>
<rect x="465.7" y="63.5" width="1" height="1" fill="#50b089"/>
<rect x="456.8" y="66.9" width="1" height="1" fill="#50b089"/>
<rect x="458.2" y="64.8" width="1" height="1" fill="#50b089"/>
<rect x="451.1" y="75.3" width="1" height="1" fill="#50b089"/>
<rect x="455.3" y="70.5" width="1" height="1" fill="#50b089"/>
<rect x="458.4" y="61.4" width="1" height="1" fill="#50b089"/>
<rect x="466.7" y="76.7" width="1" height="1" fill="#51b188"/>
<rect x="470.8" y="63.4" width="1" height="1" fill="#51b188"/>
<rect x="457.6" y="66.0" width="1" height="1" fill="#51b188"/>
<rect x="463.1" y="77.5" width="1" height="1" fill="#51b188"/>
<rect x="460.0" y="78.1" width="1" height="1" fill="#51b188"/>
<rect x="453.8" y="64.1" width="1" height="1" fill="#51b187"/>
<rect x="463.6" y="63.6" width="1" height="1" fill="#51b187"/>
<rect x="458.2" y="77.0" width="1" height="1" fill="#51b187"/>
<rect x="447.5" y="73.0" width="1" height="1" fill="#51b186"/>
<rect x="452.3" y="75.8" width="1" height="1" fill="#51b186"/>
<rect x="459.7" y="65.3" width="1" height="1" fill="#51b186"/>
<rect x="471.3" y="65.9" width="1" height="1" fill="#51b186"/>
<rect x="449.7" y="66.9" width="1" height="1" fill="#51b186"/>
<rect x="450.0" y="70.4" width="1" height="1" fill="#52b185"/>
<rect x="455.8" y="75.7" width="1" height="1" fill="#52b184"/>
<rect x="459.0" y="65.7" width="1" height="1" fill="#52b184"/>
<rect x="450.4" y="77.6" width="1" height="1" fill="#52b184"/>
<rect x="448.7" y="73.5" width="1" height="1" fill="#52b184"/>
<rect x="455.1" y="70.0" width="1" height="1" fill="#52b184"/>
<rect x="455.2" y="69.4" width="1" height="1" fill="#52b283"/>
<rect x="474.1" y="71.7" width="1" height="1" fill="#52b283"/>
<rect x="447.0" y="72.9" width="1" height="1" fill="#52b283"/>
<rect x="461.5" y="63.6" width="1" height="1" fill="#53b282"/>
<rect x="447.6" y="73.9" width="1" height="1" fill="#53b282"/>
<rect x="448.8" y="73.7" width="1" height="1" fill="#53b282"/>
<rect x="453.2" y="65.1" width="1" height="1" fill="#53b282"/>
<rect x="467.0" y="77.1" width="1" height="1" fill="#53b281"/>
<rect x="461.3" y="61.9" width="1" height="1" fill="#53b281"/>
<rect x="454.6" y="67.9" width="1" height="1" fill="#53b281"/>
<rect x="455.2" y="76.0" width="1" height="1" fill="#53b281"/>
<rect x="464.9" y="61.0" width="1" height="1" fill="#53b281"/>
<rect x="469.2" y="64.0" width="1" height="1" fill="#53b281"/>
<rect x="470.2" y="64.3" width="1" height="1" fill="#53b281"/>
<rect x="451.7" y="67.5" width="1" height="1" fill="#53b280"/>
<rect x="452.3" y="72.8" width="1" height="1" fill="#53b280"/>
<rect x="456.1" y="67.3" width="1" height="1" fill="#53b280"/>
<rect x="469.2" y="63.4" width="1" height="1" fill="#53b280"/>
<rect x="456.2" y="72.9" width="1" height="1" fill="#53b280"/>
<rect x="449.4" y="72.5" width="1" height="1" fill="#53b280"/>
<rect x="455.3" y="69.1" width="1" height="1" fill="#53b280"/>
<rect x="455.8" y="67.1" width="1" height="1" fill="#53b280"/>
<rect x="456.7" y="64.3" width="1" height="1" fill="#53b280"/>
<rect x="460.1" y="76.4" width="1" height="1" fill="#54b27f"/>
<rect x="447.8" y="74.5" width="1" height="1" fill="#54b27f"/>
<rect x="459.1" y="78.4" width="1" height="1" fill="#54b27f"/>
<rect x="455.6" y="65.2" width="1" height="1" fill="#54b27f"/>
<rect x="456.3" y="62.8" width="1" height="1" fill="#54b27f"/>
<rect x="471.7" y="65.9" width="1" height="1" fill="#54b27e"/>
<rect x="454.6" y="77.0" width="1" height="1" fill="#54b27e"/>
<rect x="452.4" y="72.7" width="1" height="1" fill="#54b27e"/>
<rect x="473.7" y="68.8" width="1" height="1" fill="#54b27e"/>
<rect x="451.9" y="71.2" width="1" height="1" fill="#54b37e"/>
<rect x="467.9" y="76.7" width="1" height="1" fill="#54b37e"/>
<rect x="474.4" y="69.7" width="1" height="1" fill="#54b37e"/>
<rect x="470.6" y="75.6" width="1" height="1" fill="#54b37e"/>
<rect x="467.6" y="63.2" width="1" height="1" fill="#54b37e"/>
<rect x="454.4" y="74.5" width="1" height="1" fill="#54b37e"/>
<rect x="451.7" y="74.7" width="1" height="1" fill="#54b37d"/>
<rect x="461.2" y="76.4" width="1" height="1" fill="#54b37d"/>
<rect x="474.7" y="72.7" width="1" height="1" fill="#54b37d"/>
<rect x="473.7" y="68.5" width="1" height="1" fill="#54b37d"/>
<rect x="457.3" y="65.3" width="1" height="1" fill="#54b37d"/>
<rect x="453.1" y="75.7" width="1" height="1" fill="#55b37c"/>
<rect x="456.8" y="66.3" width="1" height="1" fill="#55b37c"/>
<rect x="451.0" y="76.0" width="1" height="1" fill="#55b37c"/>
<rect x="467.9" y="64.2" width="1" height="1" fill="#55b37c"/>
<rect x="474.4" y="68.4" width="1" height="1" fill="#55b37c"/>
<rect x="453.9" y="70.0" width="1" height="1" fill="#55b37c"/>
<rect x="450.6" y="68.2" width="1" height="1" fill="#55b37b"/>
<rect x="461.7" y="62.9" width="1" height="1" fill="#55b37b"/>
<rect x="456.1" y="70.8" width="1" height="1" fill="#55b37b"/>
<rect x="456.6" y="71.1" width="1" height="1" fill="#55b37b"/>
<rect x="454.2" y="70.6" width="1" height="1" fill="#55b37b"/>
<rect x="459.5" y="63.4" width="1" height="1" fill="#55b37b"/>
<rect x="454.2" y="68.7" width="1" height="1" fill="#55b37b"/>
<rect x="459.1" y="76.9" width="1" height="1" fill="#55b37b"/>
<rect x="460.9" y="63.8" width="1" height="1" fill="#55b37b"/>
<rect x="452.1" y="70.8" width="1" height="1" fill="#55b37b"/>
<rect x="474.8" y="68.4" width="1" height="1" fill="#55b37a"/>
<rect x="452.4" y="69.0" width="1" height="1" fill="#55b37a"/>
<rect x="468.9" y="65.2" width="1" height="1" fill="#55b37a"/>
<rect x="449.7" y="71.4" width="1" height="1" fill="#55b37a"/>
<rect x="457.5" y="73.2" width="1" height="1" fill="#55b37a"/>
<rect x="475.5" y="71.0" width="1" height="1" fill="#55b37a"/>
<rect x="454.0" y="76.9" width="1" height="1" fill="#55b37a"/>
<rect x="468.2" y="76.3" width="1" height="1" fill="#55b37a"/>
<rect x="456.8" y="63.9" width="1" height="1" fill="#55b37a"/>
<rect x="457.3" y="66.2" width="1" height="1" fill="#55b37a"/>
<rect x="450.9" y="73.1" width="1" height="1" fill="#55b37a"/>
<rect x="469.8" y="62.9" width="1" height="1" fill="#55b37a"/>
<rect x="449.6" y="76.2" width="1" height="1" fill="#55b37a"/>
<rect x="456.2" y="77.9" width="1" height="1" fill="#55b37a"/>
<rect x="459.9" y="65.1" width="1" height="1" fill="#55b37a"/>
<rect x="469.6" y="63.9" width="1" height="1" fill="#56b379"/>
<rect x="469.4" y="76.8" width="1" height="1" fill="#56b478"/>
<rect x="457.4" y="72.6" width="1" height="1" fill="#56b478"/>
<rect x="456.2" y="69.9" width="1" height="1" fill="#56b478"/>
<rect x="456.4" y="68.0" width="1" height="1" fill="#56b478"/>
<rect x="468.0" y="76.6" width="1" height="1" fill="#56b478"/>
<rect x="463.7" y="63.0" width="1" height="1" fill="#56b478"/>
<rect x="458.2" y="65.7" width="1" height="1" fill="#56b478"/>
<rect x="458.3" y="63.7" width="1" height="1" fill="#56b478"/>
<rect x="467.5" y="76.1" width="1" height="1" fill="#56b477"/>
<rect x="471.8" y="65.8" width="1" height="1" fill="#56b477"/>
<rect x="472.6" y="75.1" width="1" height="1" fill="#56b477"/>
<rect x="464.3" y="62.8" width="1" height="1" fill="#56b477"/>
<rect x="457.7" y="66.1" width="1" height="1" fill="#56b477"/>
<rect x="455.9" y="74.4" width="1" height="1" fill="#56b477"/>
<rect x="459.1" y="75.6" width="1" height="1" fill="#56b477"/>
<rect x="457.4" y="64.3" width="1" height="1" fill="#57b476"/>
<rect x="453.3" y="75.6" width="1" height="1" fill="#57b475"/>
<rect x="459.2" y="76.2" width="1" height="1" fill="#57b475"/>
<rect x="468.0" y="62.7" width="1" height="1" fill="#57b475"/>
<rect x="457.6" y="63.5" width="1" height="1" fill="#57b474"/>
<rect x="470.4" y="65.0" width="1" height="1" fill="#57b474"/>
<rect x="456.3" y="75.6" width="1" height="1" fill="#57b474"/>
<rect x="461.8" y="76.7" width="1" height="1" fill="#57b474"/>
<rect x="452.0" y="67.4" width="1" height="1" fill="#57b474"/>
<rect x="453.5" y="66.0" width="1" height="1" fill="#58b573"/>
<rect x="452.1" y="65.9" width="1" height="1" fill="#58b573"/>
<rect x="451.0" y="68.0" width="1" height="1" fill="#58b573"/>
<rect x="460.1" y="63.8" width="1" height="1" fill="#58b573"/>
<rect x="462.3" y="76.5" width="1" height="1" fill="#58b573"/>
<rect x="466.3" y="64.2" width="1" height="1" fill="#58b572"/>
<rect x="454.6" y="66.3" width="1" height="1" fill="#58b572"/>
<rect x="459.4" y="76.2" width="1" height="1" fill="#58b572"/>
<rect x="471.6" y="66.5" width="1" height="1" fill="#58b572"/>
<rect x="451.5" y="68.2" width="1" height="1" fill="#58b572"/>
<rect x="467.3" y="64.0" width="1" height="1" fill="#58b572"/>
<rect x="459.2" y="74.3" width="1" height="1" fill="#58b571"/>
<rect x="451.2" y="73.8" width="1" height="1" fill="#58b571"/>
<rect x="461.7" y="62.7" width="1" height="1" fill="#58b571"/>
<rect x="462.9" y="62.6" width="1" height="1" fill="#58b571"/>
<rect x="459.1" y="66.4" width="1" height="1" fill="#58b571"/>
<rect x="456.0" y="73.0" width="1" height="1" fill="#58b571"/>
<rect x="454.0" y="71.5" width="1" height="1" fill="#58b571"/>
<rect x="474.0" y="68.8" width="1" height="1" fill="#59b570"/>
<rect x="448.7" y="71.1" width="1" height="1" fill="#59b570"/>
<rect x="460.7" y="62.4" width="1" height="1" fill="#59b570"/>
<rect x="456.5" y="74.6" width="1" height="1" fill="#59b570"/>
<rect x="448.9" y="74.8" width="1" height="1" fill="#59b570"/>
<rect x="456.1" y="69.1" width="1" height="1" fill="#59b56f"/>
<rect x="461.9" y="62.5" width="1" height="1" fill="#59b56f"/>
<rect x="452.3" y="71.4" width="1" height="1" fill="#59b56f"/>
<rect x="452.7" y="76.1" width="1" height="1" fill="#59b56f"/>
<rect x="455.4" y="66.7" width="1" height="1" fill="#59b56f"/>
<rect x="454.9" y="71.2" width="1" height="1" fill="#59b66e"/>
<rect x="452.9" y="67.2" width="1" height="1" fill="#59b66e"/>
<rect x="456.8" y="77.7" width="1" height="1" fill="#5ab66d"/>
<rect x="454.6" y="74.4" width="1" height="1" fill="#5ab66d"/>
<rect x="457.9" y="72.6" width="1" height="1" fill="#5ab66d"/>
<rect x="455.1" y="71.0" width="1" height="1" fill="#5ab66c"/>
<rect x="457.7" y="67.7" width="1" height="1" fill="#5ab66c"/>
<rect x="473.1" y="67.1" width="1" height="1" fill="#5ab66c"/>
<rect x="456.5" y="64.2" width="1" height="1" fill="#5ab66b"/>
<rect x="454.3" y="67.0" width="1" height="1" fill="#5ab66b"/>
<rect x="459.6" y="62.9" width="1" height="1" fill="#5ab66b"/>
<rect x="465.5" y="62.7" width="1" height="1" fill="#5ab66b"/>
<rect x="461.9" y="76.1" width="1" height="1" fill="#5ab66b"/>
<rect x="469.2" y="75.9" width="1" height="1" fill="#5ab66b"/>
<rect x="458.9" y="67.6" width="1" height="1" fill="#5bb66a"/>
<rect x="473.3" y="73.6" width="1" height="1" fill="#5bb66a"/>
<rect x="455.7" y="68.3" width="1" height="1" fill="#5bb66a"/>
<rect x="453.8" y="68.0" width="1" height="1" fill="#5bb669"/>
<rect x="462.2" y="62.9" width="1" height="1" fill="#5bb669"/>
<rect x="459.0" y="75.9" width="1" height="1" fill="#5bb669"/>
<rect x="460.0" y="63.5" width="1" height="1" fill="#5bb769"/>
<rect x="473.2" y="69.1" width="1" height="1" fill="#5bb768"/>
<rect x="456.7" y="69.8" width="1" height="1" fill="#5bb768"/>
<rect x="453.1" y="69.5" width="1" height="1" fill="#5bb768"/>
<rect x="470.4" y="65.0" width="1" height="1" fill="#5cb767"/>
<rect x="455.9" y="75.8" width="1" height="1" fill="#5cb767"/>
<rect x="471.7" y="73.8" width="1" height="1" fill="#5cb767"/>
<rect x="452.3" y="73.0" width="1" height="1" fill="#5cb767"/>
<rect x="458.4" y="73.3" width="1" height="1" fill="#5cb767"/>
<rect x="463.2" y="62.8" width="1" height="1" fill="#5cb767"/>
<rect x="460.0" y="76.4" width="1" height="1" fill="#5cb766"/>
<rect x="466.5" y="75.8" width="1" height="1" fill="#5cb766"/>
<rect x="463.4" y="64.1" width="1" height="1" fill="#5cb766"/>
<rect x="457.7" y="65.2" width="1" height="1" fill="#5cb766"/>
<rect x="456.6" y="64.8" width="1" height="1" fill="#5cb766"/>
<rect x="465.0" y="63.7" width="1" height="1" fill="#5cb766"/>
<rect x="472.9" y="67.0" width="1" height="1" fill="#5cb766"/>
<rect x="461.4" y="64.9" width="1" height="1" fill="#5cb765"/>
<rect x="455.1" y="68.3" width="1" height="1" fill="#5cb765"/>
<rect x="456.1" y="66.0" width="1" height="1" fill="#5db764"/>
<rect x="465.3" y="76.6" width="1" height="1" fill="#5db764"/>
<rect x="451.8" y="75.6" width="1" height="1" fill="#5db764"/>
<rect x="459.9" y="74.9" width="1" height="1" fill="#5db764"/>
<rect x="454.9" y="70.4" width="1" height="1" fill="#5db863"/>
<rect x="457.9" y="64.9" width="1" height="1" fill="#5db863"/>
<rect x="457.8" y="69.9" width="1" height="1" fill="#5db863"/>
<rect x="456.7" y="77.1" width="1" height="1" fill="#5db863"/>
<rect x="450.6" y="69.3" width="1" height="1" fill="#5db863"/>
<rect x="455.2" y="76.6" width="1" height="1" fill="#5db862"/>
<rect x="453.6" y="68.8" width="1" height="1" fill="#5db862"/>
<rect x="455.8" y="68.1" width="1" height="1" fill="#5db862"/>
<rect x="464.7" y="76.5" width="1" height="1" fill="#5db862"/>
<rect x="459.3" y="77.0" width="1" height="1" fill="#5eb861"/>
<rect x="460.4" y="76.5" width="1" height="1" fill="#5eb861"/>
<rect x="458.2" y="75.2" width="1" height="1" fill="#5eb861"/>
<rect x="454.7" y="74.4" width="1" height="1" fill="#5eb861"/>
<rect x="455.8" y="68.1" width="1" height="1" fill="#5eb861"/>
<rect x="456.1" y="69.1" width="1" height="1" fill="#5eb861"/>
<rect x="463.1" y="75.4" width="1" height="1" fill="#5eb861"/>
<rect x="473.2" y="73.9" width="1" height="1" fill="#5eb860"/>
<rect x="459.7" y="65.5" width="1" height="1" fill="#5eb860"/>
<rect x="473.6" y="70.0" width="1" height="1" fill="#5eb860"/>
<rect x="474.8" y="69.1" width="1" height="1" fill="#5eb860"/>
<rect x="474.7" y="71.0" width="1" height="1" fill="#5eb860"/>
<rect x="458.6" y="65.3" width="1" height="1" fill="#5eb860"/>
<rect x="469.0" y="65.8" width="1" height="1" fill="#5eb860"/>
<rect x="451.4" y="69.2" width="1" height="1" fill="#5eb85f"/>
<rect x="465.9" y="76.7" width="1" height="1" fill="#5eb85f"/>
<rect x="461.5" y="76.3" width="1" height="1" fill="#5eb85f"/>
<rect x="453.1" y="70.3" width="1" height="1" fill="#5eb85f"/>
<rect x="463.1" y="65.6" width="1" height="1" fill="#5eb85f"/>
<rect x="454.8" y="76.5" width="1" height="1" fill="#5eb85f"/>
<rect x="454.9" y="70.8" width="1" height="1" fill="#5fb95e"/>
<rect x="453.5" y="71.5" width="1" height="1" fill="#5fb95e"/>
<rect x="458.3" y="68.1" width="1" height="1" fill="#5fb95e"/>
<rect x="454.1" y="67.1" width="1" height="1" fill="#5fb95e"/>
<rect x="454.2" y="75.8" width="1" height="1" fill="#5fb95e"/>
<rect x="474.7" y="71.2" width="1" height="1" fill="#5fb95e"/>
<rect x="451.5" y="71.4" width="1" height="1" fill="#5fb95e"/>
<rect x="462.5" y="63.3" width="1" height="1" fill="#60b95e"/>
<rect x="459.9" y="63.9" width="1" height="1" fill="#60b95e"/>
<rect x="464.9" y="75.6" width="1" height="1" fill="#60b95e"/>
<rect x="461.0" y="66.6" width="1" height="1" fill="#60b95e"/>
<rect x="460.3" y="63.9" width="1" height="1" fill="#60b95e"/>
<rect x="468.1" y="75.3" width="1" height="1" fill="#60b95e"/>
<rect x="453.5" y="70.6" width="1" height="1" fill="#60b95e"/>
<rect x="452.0" y="74.0" width="1" height="1" fill="#60b95e"/>
<rect x="461.2" y="75.1" width="1" height="1" fill="#60b95e"/>
<rect x="465.6" y="63.6" width="1" height="1" fill="#61b95e"/>
<rect x="469.7" y="75.1" width="1" height="1" fill="#61b95d"/>
<rect x="473.8" y="72.6" width="1" height="1" fill="#62b95d"/>
<rect x="469.4" y="76.0" width="1" height="1" fill="#62b95d"/>
<rect x="452.7" y="72.1" width="1" height="1" fill="#62b95d"/>
<rect x="452.3" y="70.4" width="1" height="1" fill="#62b95d"/>
<rect x="463.0" y="65.5" width="1" height="1" fill="#62b95d"/>
<rect x="451.5" y="74.1" width="1" height="1" fill="#62b95d"/>
<rect x="455.3" y="71.6" width="1" height="1" fill="#62b95d"/>
<rect x="460.7" y="75.4" width="1" height="1" fill="#62b95d"/>
<rect x="450.8" y="72.3" width="1" height="1" fill="#63b95d"/>
<rect x="454.5" y="76.4" width="1" height="1" fill="#63b95c"/>
<rect x="453.5" y="75.3" width="1" height="1" fill="#63b95c"/>
<rect x="456.4" y="70.5" width="1" height="1" fill="#64ba5c"/>
<rect x="457.1" y="67.4" width="1" height="1" fill="#65ba5c"/>
<rect x="458.1" y="69.0" width="1" height="1" fill="#65ba5c"/>
<rect x="458.1" y="67.9" width="1" height="1" fill="#65ba5c"/>
<rect x="470.8" y="66.3" width="1" height="1" fill="#65ba5c"/>
<rect x="454.2" y="72.5" width="1" height="1" fill="#65ba5b"/>
<rect x="457.0" y="76.2" width="1" height="1" fill="#65ba5b"/>
<rect x="454.0" y="68.2" width="1" height="1" fill="#66ba5b"/>
<rect x="461.2" y="65.2" width="1" height="1" fill="#66ba5b"/>
<rect x="454.8" y="76.5" width="1" height="1" fill="#66ba5b"/>
<rect x="457.6" y="75.8" width="1" height="1" fill="#66ba5b"/>
<rect x="457.3" y="69.6" width="1" height="1" fill="#66ba5b"/>
<rect x="462.0" y="63.9" width="1" height="1" fill="#68ba5a"/>
<rect x="465.8" y="65.4" width="1" height="1" fill="#68ba5a"/>
<rect x="463.4" y="65.9" width="1" height="1" fill="#68ba5a"/>
<rect x="468.0" y="65.2" width="1" height="1" fill="#68ba5a"/>
<rect x="451.5" y="70.8" width="1" height="1" fill="#68ba5a"/>
<rect x="456.0" y="70.6" width="1" height="1" fill="#69ba5a"/>
<rect x="460.8" y="74.1" width="1" height="1" fill="#69ba5a"/>
<rect x="465.0" y="63.8" width="1" height="1" fill="#69ba5a"/>
<rect x="455.7" y="71.1" width="1" height="1" fill="#6abb59"/>
<rect x="451.3" y="72.8" width="1" height="1" fill="#6abb59"/>
<rect x="473.1" y="67.4" width="1" height="1" fill="#6bbb59"/>
<rect x="474.1" y="69.1" width="1" height="1" fill="#6bbb59"/>
<rect x="454.9" y="75.0" width="1" height="1" fill="#6bbb59"/>
<rect x="463.9" y="65.2" width="1" height="1" fill="#6cbb58"/>
<rect x="458.9" y="73.9" width="1" height="1" fill="#6cbb58"/>
<rect x="453.1" y="72.9" width="1" height="1" fill="#6cbb58"/>
<rect x="463.2" y="66.1" width="1" height="1" fill="#6cbb58"/>
<rect x="473.2" y="71.9" width="1" height="1" fill="#6dbb58"/>
<rect x="460.6" y="73.9" width="1" height="1" fill="#6dbb58"/>
<rect x="458.5" y="68.3" width="1" height="1" fill="#6ebb58"/>
<rect x="456.4" y="73.1" width="1" height="1" fill="#6ebb58"/>
<rect x="455.3" y="68.7" width="1" height="1" fill="#6ebb58"/>
<rect x="465.8" y="65.8" width="1" height="1" fill="#6ebb57"/>
<rect x="466.1" y="65.8" width="1" height="1" fill="#6fbc57"/>
<rect x="473.5" y="71.2" width="1" height="1" fill="#70bc57"/>
<rect x="473.4" y="71.1" width="1" height="1" fill="#70bc57"/>
<rect x="455.4" y="73.0" width="1" height="1" fill="#70bc56"/>
<rect x="472.7" y="71.0" width="1" height="1" fill="#70bc56"/>
<rect x="458.6" y="66.9" width="1" height="1" fill="#71bc56"/>
<rect x="455.4" y="71.7" width="1" height="1" fill="#71bc56"/>
<rect x="471.4" y="68.1" width="1" height="1" fill="#72bc56"/>
<rect x="459.5" y="67.0" width="1" height="1" fill="#73bc55"/>
<rect x="457.1" y="71.0" width="1" height="1" fill="#73bc55"/>
<rect x="466.4" y="76.0" width="1" height="1" fill="#73bc55"/>
<rect x="469.4" y="66.5" width="1" height="1" fill="#73bc55"/>
<rect x="472.8" y="72.6" width="1" height="1" fill="#73bc55"/>
<rect x="466.2" y="65.0" width="1" height="1" fill="#73bc55"/>
<rect x="457.8" y="67.8" width="1" height="1" fill="#73bc55"/>
<rect x="470.3" y="66.5" width="1" height="1" fill="#74bc55"/>
<rect x="469.1" y="66.6" width="1" height="1" fill="#74bc55"/>
<rect x="460.4" y="73.4" width="1" height="1" fill="#75bd54"/>
<rect x="472.6" y="71.3" width="1" height="1" fill="#75bd54"/>
<rect x="473.2" y="72.4" width="1" height="1" fill="#75bd54"/>
<rect x="462.1" y="74.6" width="1" height="1" fill="#76bd54"/>
<rect x="460.7" y="74.1" width="1" height="1" fill="#77bd53"/>
<rect x="458.3" y="72.2" width="1" height="1" fill="#78bd53"/>
<rect x="468.1" y="65.7" width="1" height="1" fill="#78bd53"/>
<rect x="467.2" y="66.2" width="1" height="1" fill="#78bd53"/>
<rect x="458.9" y="68.4" width="1" height="1" fill="#78bd53"/>
<rect x="459.5" y="66.6" width="1" height="1" fill="#78bd53"/>
<rect x="458.9" y="73.0" width="1" height="1" fill="#79bd52"/>
<rect x="471.0" y="67.9" width="1" height="1" fill="#79bd52"/>
<rect x="458.3" y="70.1" width="1" height="1" fill="#79bd52"/>
<rect x="470.7" y="73.7" width="1" height="1" fill="#7abd52"/>
<rect x="470.5" y="74.7" width="1" height="1" fill="#7abd52"/>
<rect x="468.1" y="66.4" width="1" height="1" fill="#7abe52"/>
<rect x="461.2" y="67.3" width="1" height="1" fill="#7bbe52"/>
<rect x="472.1" y="72.1" width="1" height="1" fill="#7bbe52"/>
<rect x="458.1" y="69.8" width="1" height="1" fill="#7bbe52"/>
<rect x="466.9" y="74.7" width="1" height="1" fill="#7cbe51"/>
<rect x="465.3" y="75.5" width="1" height="1" fill="#7cbe51"/>
<rect x="469.7" y="74.6" width="1" height="1" fill="#7dbe51"/>
<rect x="459.2" y="67.4" width="1" height="1" fill="#7dbe50"/>
<rect x="465.7" y="65.0" width="1" height="1" fill="#7ebe50"/>
<rect x="467.1" y="65.5" width="1" height="1" fill="#7ebe50"/>
<rect x="457.6" y="70.1" width="1" height="1" fill="#7ebe50"/>
<rect x="467.2" y="65.4" width="1" height="1" fill="#7fbe50"/>
<rect x="459.7" y="66.7" width="1" height="1" fill="#7fbe50"/>
<rect x="466.6" y="75.7" width="1" height="1" fill="#7fbe50"/>
<rect x="469.6" y="67.2" width="1" height="1" fill="#80bf4f"/>
<rect x="471.5" y="72.2" width="1" height="1" fill="#80bf4f"/>
<rect x="460.5" y="66.4" width="1" height="1" fill="#80bf4f"/>
<rect x="470.6" y="74.0" width="1" height="1" fill="#80bf4f"/>
<rect x="461.0" y="67.4" width="1" height="1" fill="#80bf4f"/>
<rect x="459.1" y="71.7" width="1" height="1" fill="#80bf4f"/>
<rect x="468.2" y="75.3" width="1" height="1" fill="#81bf4f"/>
<rect x="467.4" y="75.8" width="1" height="1" fill="#81bf4f"/>
<rect x="458.6" y="68.4" width="1" height="1" fill="#81bf4f"/>
<rect x="465.6" y="66.1" width="1" height="1" fill="#83bf4e"/>
<rect x="458.1" y="72.5" width="1" height="1" fill="#83bf4e"/>
<rect x="460.7" y="73.2" width="1" height="1" fill="#84bf4e"/>
<rect x="463.6" y="74.7" width="1" height="1" fill="#84bf4d"/>
<rect x="463.4" y="66.0" width="1" height="1" fill="#85bf4d"/>
<rect x="464.1" y="65.2" width="1" height="1" fill="#85bf4d"/>
<rect x="458.1" y="69.0" width="1" height="1" fill="#88c04c"/>
<rect x="461.7" y="73.6" width="1" height="1" fill="#89c04b"/>
<rect x="461.5" y="73.4" width="1" height="1" fill="#8ac04b"/>
<rect x="460.7" y="66.8" width="1" height="1" fill="#8bc14a"/>
<rect x="467.8" y="66.3" width="1" height="1" fill="#8ec149"/>
<rect x="464.9" y="66.6" width="1" height="1" fill="#8ec149"/>
<rect x="463.7" y="66.2" width="1" height="1" fill="#8fc149"/>
<rect x="466.2" y="65.8" width="1" height="1" fill="#8fc149"/>
<rect x="460.8" y="68.0" width="1" height="1" fill="#8fc148"/>
<rect x="462.7" y="74.5" width="1" height="1" fill="#8fc148"/>
<rect x="459.3" y="69.7" width="1" height="1" fill="#8fc148"/>
<rect x="466.4" y="66.0" width="1" height="1" fill="#90c148"/>
<rect x="459.0" y="68.1" width="1" height="1" fill="#90c148"/>
<rect x="459.9" y="72.8" width="1" height="1" fill="#90c248"/>
<rect x="464.6" y="66.4" width="1" height="1" fill="#92c247"/>
<rect x="470.8" y="67.2" width="1" height="1" fill="#92c247"/>
<rect x="469.0" y="74.1" width="1" height="1" fill="#93c247"/>
<rect x="459.0" y="68.1" width="1" height="1" fill="#96c345"/>
<rect x="460.7" y="73.5" width="1" height="1" fill="#96c345"/>
<rect x="460.0" y="69.8" width="1" height="1" fill="#99c344"/>
<rect x="460.1" y="67.8" width="1" height="1" fill="#99c344"/>
<rect x="459.3" y="69.9" width="1" height="1" fill="#9bc443"/>
<rect x="461.3" y="73.9" width="1" height="1" fill="#9cc443"/>
<rect x="464.2" y="74.2" width="1" height="1" fill="#9dc442"/>
<rect x="466.4" y="74.1" width="1" height="1" fill="#9dc442"/>
<rect x="459.8" y="70.8" width="1" height="1" fill="#9ec442"/>
<rect x="460.7" y="71.9" width="1" height="1" fill="#9ec442"/>
<rect x="459.8" y="73.1" width="1" height="1" fill="#9fc441"/>
<rect x="460.5" y="71.6" width="1" height="1" fill="#a1c540"/>
<rect x="463.9" y="66.4" width="1" height="1" fill="#a1c540"/>
<rect x="472.1" y="70.5" width="1" height="1" fill="#a2c540"/>
<rect x="471.8" y="70.3" width="1" height="1" fill="#a2c540"/>
<rect x="468.6" y="67.0" width="1" height="1" fill="#a4c53f"/>
<rect x="467.4" y="67.4" width="1" height="1" fill="#a4c53f"/>
<rect x="461.0" y="68.1" width="1" height="1" fill="#a4c53f"/>
<rect x="471.0" y="69.4" width="1" height="1" fill="#a5c53e"/>
<rect x="461.1" y="72.2" width="1" height="1" fill="#a6c53e"/>
<rect x="471.6" y="72.5" width="1" height="1" fill="#a7c63e"/>
<rect x="471.2" y="72.8" width="1" height="1" fill="#a7c63d"/>
<rect x="469.2" y="67.1" width="1" height="1" fill="#a8c63d"/>
<rect x="465.6" y="67.1" width="1" height="1" fill="#a9c63d"/>
<rect x="470.6" y="72.2" width="1" height="1" fill="#a9c63d"/>
<rect x="460.4" y="69.9" width="1" height="1" fill="#a9c63c"/>
<rect x="470.1" y="72.5" width="1" height="1" fill="#acc73b"/>
<rect x="470.3" y="69.8" width="1" height="1" fill="#aec73a"/>
<rect x="469.3" y="68.2" width="1" height="1" fill="#afc73a"/>
<rect x="461.7" y="67.8" width="1" height="1" fill="#b1c739"/>
<rect x="459.8" y="72.0" width="1" height="1" fill="#b1c739"/>
<rect x="467.4" y="66.6" width="1" height="1" fill="#b2c839"/>
<rect x="461.8" y="73.3" width="1" height="1" fill="#b3c838"/>
<rect x="466.9" y="74.5" width="1" height="1" fill="#b3c838"/>
<rect x="461.5" y="68.1" width="1" height="1" fill="#b4c838"/>
<rect x="465.3" y="67.0" width="1" height="1" fill="#b5c837"/>
<rect x="468.4" y="66.9" width="1" height="1" fill="#b5c837"/>
<rect x="463.0" y="73.7" width="1" height="1" fill="#b7c936"/>
<rect x="464.2" y="73.3" width="1" height="1" fill="#b9c935"/>
<rect x="470.3" y="71.1" width="1" height="1" fill="#bac935"/>
<rect x="460.6" y="72.7" width="1" height="1" fill="#bbc934"/>
<rect x="466.9" y="73.6" width="1" height="1" fill="#bcc934"/>
<rect x="462.1" y="67.9" width="1" height="1" fill="#bcca34"/>
<rect x="461.4" y="69.1" width="1" height="1" fill="#bdca34"/>
<rect x="463.8" y="73.3" width="1" height="1" fill="#bdca34"/>
<rect x="469.9" y="71.0" width="1" height="1" fill="#bdca34"/>
<rect x="469.1" y="73.4" width="1" height="1" fill="#c0ca32"/>
<rect x="461.3" y="71.3" width="1" height="1" fill="#c0ca32"/>
<rect x="467.6" y="73.9" width="1" height="1" fill="#c0ca32"/>
<rect x="466.1" y="67.7" width="1" height="1" fill="#c1ca32"/>
<rect x="469.4" y="68.7" width="1" height="1" fill="#c2cb31"/>
<rect x="461.1" y="68.8" width="1" height="1" fill="#c2cb31"/>
<rect x="464.7" y="74.1" width="1" height="1" fill="#c2cb31"/>
<rect x="469.7" y="69.8" width="1" height="1" fill="#c2cb31"/>
<rect x="469.8" y="68.2" width="1" height="1" fill="#c2cb31"/>
<rect x="463.5" y="68.1" width="1" height="1" fill="#c3cb31"/>
<rect x="469.4" y="72.3" width="1" height="1" fill="#c4cb30"/>
<rect x="460.6" y="69.9" width="1" height="1" fill="#c6cb30"/>
<rect x="461.3" y="72.2" width="1" height="1" fill="#c6cb2f"/>
<rect x="470.5" y="69.5" width="1" height="1" fill="#c8cc2e"/>
<rect x="464.6" y="67.9" width="1" height="1" fill="#c9cc2e"/>
<rect x="470.4" y="70.6" width="1" height="1" fill="#cbcc2d"/>
<rect x="467.9" y="72.4" width="1" height="1" fill="#cbcc2d"/>
<rect x="464.7" y="73.1" width="1" height="1" fill="#cccc2d"/>
<rect x="468.6" y="72.4" width="1" height="1" fill="#cccc2d"/>
<rect x="467.3" y="72.6" width="1" height="1" fill="#cdcc2c"/>
<rect x="469.6" y="71.8" width="1" height="1" fill="#ceca2c"/>
<rect x="463.9" y="73.9" width="1" height="1" fill="#cec92c"/>
<rect x="468.7" y="73.1" width="1" height="1" fill="#cec92c"/>
<rect x="468.4" y="72.3" width="1" height="1" fill="#cec92c"/>
<rect x="469.2" y="72.5" width="1" height="1" fill="#cfc72b"/>
<rect x="463.1" y="72.3" width="1" height="1" fill="#cfc72b"/>
<rect x="462.0" y="68.2" width="1" height="1" fill="#d0c62b"/>
<rect x="460.8" y="70.0" width="1" height="1" fill="#d0c52b"/>
<rect x="461.3" y="68.7" width="1" height="1" fill="#d1c22a"/>
<rect x="463.9" y="72.8" width="1" height="1" fill="#d2c12a"/>
<rect x="469.7" y="69.1" width="1" height="1" fill="#d2c02a"/>
<rect x="461.8" y="71.3" width="1" height="1" fill="#d3be29"/>
<rect x="461.3" y="70.5" width="1" height="1" fill="#d3bd29"/>
<rect x="469.4" y="69.8" width="1" height="1" fill="#d5ba28"/>
<rect x="461.6" y="71.2" width="1" height="1" fill="#d5b928"/>
<rect x="461.5" y="71.5" width="1" height="1" fill="#d5b928"/>
<rect x="461.6" y="71.8" width="1" height="1" fill="#d6b928"/>
<rect x="462.7" y="72.2" width="1" height="1" fill="#d6b728"/>
<rect x="467.3" y="68.6" width="1" height="1" fill="#d6b728"/>
<rect x="463.7" y="68.2" width="1" height="1" fill="#d7b727"/>
<rect x="466.7" y="72.3" width="1" height="1" fill="#d7b527"/>
<rect x="463.3" y="71.7" width="1" height="1" fill="#d7b527"/>
<rect x="470.1" y="70.2" width="1" height="1" fill="#d8b427"/>
<rect x="461.4" y="69.9" width="1" height="1" fill="#d8b427"/>
<rect x="463.0" y="69.2" width="1" height="1" fill="#d8b427"/>
<rect x="466.5" y="67.5" width="1" height="1" fill="#d8b427"/>
<rect x="462.5" y="71.9" width="1" height="1" fill="#d9b226"/>
<rect x="467.5" y="72.0" width="1" height="1" fill="#d9b126"/>
<rect x="466.7" y="73.0" width="1" height="1" fill="#dab026"/>
<rect x="462.2" y="68.8" width="1" height="1" fill="#daaf26"/>
<rect x="468.1" y="70.6" width="1" height="1" fill="#daaf26"/>
<rect x="469.7" y="71.4" width="1" height="1" fill="#dbae25"/>
<rect x="465.1" y="73.2" width="1" height="1" fill="#dcac25"/>
<rect x="467.1" y="68.3" width="1" height="1" fill="#dcab25"/>
<rect x="465.4" y="68.6" width="1" height="1" fill="#dda924"/>
<rect x="465.3" y="72.4" width="1" height="1" fill="#dda924"/>
<rect x="462.6" y="68.9" width="1" height="1" fill="#dea624"/>
<rect x="463.0" y="70.8" width="1" height="1" fill="#dea624"/>
<rect x="467.7" y="70.1" width="1" height="1" fill="#dfa523"/>
<rect x="467.1" y="71.9" width="1" height="1" fill="#e0a323"/>
<rect x="469.2" y="70.2" width="1" height="1" fill="#e0a323"/>
<rect x="467.1" y="68.2" width="1" height="1" fill="#e0a223"/>
<rect x="468.4" y="71.4" width="1" height="1" fill="#e29e22"/>
<rect x="462.0" y="70.8" width="1" height="1" fill="#e29d22"/>
<rect x="462.8" y="71.2" width="1" height="1" fill="#e39c21"/>
<rect x="462.2" y="70.4" width="1" height="1" fill="#e39c21"/>
<rect x="464.4" y="69.3" width="1" height="1" fill="#e69620"/>
<rect x="462.7" y="70.2" width="1" height="1" fill="#e7931f"/>
<rect x="468.7" y="70.8" width="1" height="1" fill="#e7921f"/>
<rect x="467.1" y="69.0" width="1" height="1" fill="#e8921f"/>
<rect x="464.2" y="71.7" width="1" height="1" fill="#e8911f"/>
<rect x="465.1" y="68.5" width="1" height="1" fill="#e9901e"/>
<rect x="463.6" y="70.6" width="1" height="1" fill="#e98f1e"/>
<rect x="467.3" y="72.0" width="1" height="1" fill="#e98e1e"/>
<rect x="463.6" y="72.0" width="1" height="1" fill="#ea8d1e"/>
<rect x="467.5" y="71.3" width="1" height="1" fill="#ea8c1e"/>
<rect x="464.9" y="69.3" width="1" height="1" fill="#ea8b1e"/>
<rect x="464.3" y="70.2" width="1" height="1" fill="#ea891e"/>
<rect x="464.9" y="68.5" width="1" height="1" fill="#ea881e"/>
<rect x="462.7" y="70.0" width="1" height="1" fill="#ea861e"/>
<rect x="465.0" y="69.3" width="1" height="1" fill="#ea861e"/>
<rect x="464.0" y="71.6" width="1" height="1" fill="#ea851e"/>
<rect x="466.6" y="72.3" width="1" height="1" fill="#e9841e"/>
<rect x="465.6" y="68.8" width="1" height="1" fill="#e9821e"/>
<rect x="467.4" y="71.5" width="1" height="1" fill="#e97f1e"/>
<rect x="463.6" y="71.4" width="1" height="1" fill="#e87b1e"/>
<rect x="468.2" y="70.7" width="1" height="1" fill="#e8791e"/>
<rect x="467.9" y="70.0" width="1" height="1" fill="#e6701e"/>
<rect x="463.4" y="69.7" width="1" height="1" fill="#e5691e"/>
<rect x="465.7" y="71.4" width="1" height="1" fill="#e5681e"/>
<rect x="466.1" y="71.3" width="1" height="1" fill="#e5671e"/>
<rect x="467.8" y="71.2" width="1" height="1" fill="#e4631e"/>
<rect x="466.7" y="69.1" width="1" height="1" fill="#e45f1e"/>
<rect x="465.6" y="69.7" width="1" height="1" fill="#e45f1e"/>
<rect x="464.0" y="70.8" width="1" height="1" fill="#e35b1e"/>
<rect x="466.7" y="70.9" width="1" height="1" fill="#e3581e"/>
<rect x="466.2" y="70.3" width="1" height="1" fill="#e3571e"/>
<rect x="464.0" y="70.1" width="1" height="1" fill="#e2521e"/>
<rect x="464.3" y="71.0" width="1" height="1" fill="#e2511e"/>
<rect x="467.0" y="71.0" width="1" height="1" fill="#e2501e"/>
<rect x="464.9" y="69.4" width="1" height="1" fill="#e14f1e"/>
<rect x="465.0" y="71.8" width="1" height="1" fill="#e14e1e"/>
<rect x="466.3" y="69.9" width="1" height="1" fill="#e14e1e"/>
<rect x="465.1" y="71.4" width="1" height="1" fill="#e1491e"/>
<rect x="465.3" y="71.1" width="1" height="1" fill="#dd311e"/>
<rect x="464.7" y="70.4" width="1" height="1" fill="#dc2e1e"/>
<rect x="464.5" y="70.7" width="1" height="1" fill="#dc2b1e"/>
<rect x="465.3" y="70.4" width="1" height="1" fill="#dc281e"/>
<rect x="465.4" y="70.9" width="1" height="1" fill="#dc281e"/>
<rect x="422.8" y="31.3" width="142.7" height="142.5" fill="none" stroke="#bdbdbd" stroke-width="1"/>
<line x1="420.8" y1="33.8" x2="422.8" y2="33.8" stroke="#888" stroke-width="0.8" />
<text x="420.3" y="35.3" font-size="4.2" fill="#888" text-anchor="end">10⁶</text>
<line x1="420.8" y1="60.8" x2="422.8" y2="60.8" stroke="#888" stroke-width="0.8" />
<text x="420.3" y="62.3" font-size="4.2" fill="#888" text-anchor="end">10⁵</text>
<line x1="420.8" y1="90.8" x2="422.8" y2="90.8" stroke="#888" stroke-width="0.8" />
<text x="420.3" y="92.3" font-size="4.2" fill="#888" text-anchor="end">10⁴</text>
<line x1="420.8" y1="125.8" x2="422.8" y2="125.8" stroke="#888" stroke-width="0.8" />
<text x="420.3" y="127.3" font-size="4.2" fill="#888" text-anchor="end">10³</text>
<line x1="420.8" y1="144" x2="422.8" y2="144" stroke="#888" stroke-width="0.8" />
<text x="420.3" y="145.5" font-size="4.2" fill="#888" text-anchor="end">0</text>
<line x1="420.8" y1="162" x2="422.8" y2="162" stroke="#888" stroke-width="0.8" />
<text x="420.3" y="163.5" font-size="4.2" fill="#888" text-anchor="end">-10³</text>
<line x1="421.8" y1="35.3" x2="422.8" y2="35.3" stroke="#bbb" stroke-width="0.5" />
<line x1="421.8" y1="38.599999999999994" x2="422.8" y2="38.599999999999994" stroke="#bbb" stroke-width="0.5" />
<line x1="421.8" y1="41.9" x2="422.8" y2="41.9" stroke="#bbb" stroke-width="0.5" />
<line x1="421.8" y1="45.199999999999996" x2="422.8" y2="45.199999999999996" stroke="#bbb" stroke-width="0.5" />
<line x1="421.8" y1="48.5" x2="422.8" y2="48.5" stroke="#bbb" stroke-width="0.5" />
<line x1="421.8" y1="51.8" x2="422.8" y2="51.8" stroke="#bbb" stroke-width="0.5" />
<line x1="421.8" y1="55.099999999999994" x2="422.8" y2="55.099999999999994" stroke="#bbb" stroke-width="0.5" />
<line x1="421.8" y1="58.39999999999999" x2="422.8" y2="58.39999999999999" stroke="#bbb" stroke-width="0.5" />
<line x1="421.8" y1="61.699999999999996" x2="422.8" y2="61.699999999999996" stroke="#bbb" stroke-width="0.5" />
<line x1="421.8" y1="65.0" x2="422.8" y2="65.0" stroke="#bbb" stroke-width="0.5" />
<line x1="421.8" y1="68.3" x2="422.8" y2="68.3" stroke="#bbb" stroke-width="0.5" />
<line x1="421.8" y1="71.6" x2="422.8" y2="71.6" stroke="#bbb" stroke-width="0.5" />
<line x1="421.8" y1="74.89999999999999" x2="422.8" y2="74.89999999999999" stroke="#bbb" stroke-width="0.5" />
<line x1="421.8" y1="78.19999999999999" x2="422.8" y2="78.19999999999999" stroke="#bbb" stroke-width="0.5" />
<line x1="421.8" y1="81.5" x2="422.8" y2="81.5" stroke="#bbb" stroke-width="0.5" />
<line x1="421.8" y1="84.8" x2="422.8" y2="84.8" stroke="#bbb" stroke-width="0.5" />
<line x1="421.8" y1="88.1" x2="422.8" y2="88.1" stroke="#bbb" stroke-width="0.5" />
<line x1="421.8" y1="91.39999999999999" x2="422.8" y2="91.39999999999999" stroke="#bbb" stroke-width="0.5" />
<line x1="421.8" y1="94.69999999999999" x2="422.8" y2="94.69999999999999" stroke="#bbb" stroke-width="0.5" />
<line x1="421.8" y1="98.0" x2="422.8" y2="98.0" stroke="#bbb" stroke-width="0.5" />
<line x1="421.8" y1="101.3" x2="422.8" y2="101.3" stroke="#bbb" stroke-width="0.5" />
<line x1="421.8" y1="104.6" x2="422.8" y2="104.6" stroke="#bbb" stroke-width="0.5" />
<line x1="421.8" y1="107.89999999999999" x2="422.8" y2="107.89999999999999" stroke="#bbb" stroke-width="0.5" />
<line x1="421.8" y1="111.19999999999999" x2="422.8" y2="111.19999999999999" stroke="#bbb" stroke-width="0.5" />
<line x1="421.8" y1="114.49999999999999" x2="422.8" y2="114.49999999999999" stroke="#bbb" stroke-width="0.5" />
<line x1="421.8" y1="117.8" x2="422.8" y2="117.8" stroke="#bbb" stroke-width="0.5" />
<line x1="421.8" y1="121.1" x2="422.8" y2="121.1" stroke="#bbb" stroke-width="0.5" />
<line x1="421.8" y1="124.39999999999999" x2="422.8" y2="124.39999999999999" stroke="#bbb" stroke-width="0.5" />
<line x1="421.8" y1="127.69999999999999" x2="422.8" y2="127.69999999999999" stroke="#bbb" stroke-width="0.5" />
<line x1="421.8" y1="131.0" x2="422.8" y2="131.0" stroke="#bbb" stroke-width="0.5" />
<line x1="421.8" y1="134.3" x2="422.8" y2="134.3" stroke="#bbb" stroke-width="0.5" />
<line x1="421.8" y1="137.6" x2="422.8" y2="137.6" stroke="#bbb" stroke-width="0.5" />
<line x1="421.8" y1="140.89999999999998" x2="422.8" y2="140.89999999999998" stroke="#bbb" stroke-width="0.5" />
<line x1="421.8" y1="144.2" x2="422.8" y2="144.2" stroke="#bbb" stroke-width="0.5" />
<line x1="421.8" y1="147.5" x2="422.8" y2="147.5" stroke="#bbb" stroke-width="0.5" />
<line x1="421.8" y1="150.8" x2="422.8" y2="150.8" stroke="#bbb" stroke-width="0.5" />
<line x1="421.8" y1="154.1" x2="422.8" y2="154.1" stroke="#bbb" stroke-width="0.5" />
<line x1="421.8" y1="157.39999999999998" x2="422.8" y2="157.39999999999998" stroke="#bbb" stroke-width="0.5" />
<line x1="421.8" y1="160.7" x2="422.8" y2="160.7" stroke="#bbb" stroke-width="0.5" />
<line x1="421.8" y1="164.0" x2="422.8" y2="164.0" stroke="#bbb" stroke-width="0.5" />
<line x1="421.8" y1="167.3" x2="422.8" y2="167.3" stroke="#bbb" stroke-width="0.5" />
<line x1="423" y1="173.8" x2="423" y2="175.8" stroke="#888" stroke-width="0.8" />
<text x="423" y="179.3" font-size="4.2" fill="#888" text-anchor="middle">-10³</text>
<line x1="444" y1="173.8" x2="444" y2="175.8" stroke="#888" stroke-width="0.8" />
<text x="444" y="179.3" font-size="4.2" fill="#888" text-anchor="middle">0</text>
<line x1="479.2" y1="173.8" x2="479.2" y2="175.8" stroke="#888" stroke-width="0.8" />
<text x="479.2" y="179.3" font-size="4.2" fill="#888" text-anchor="middle">10³</text>
<line x1="508.8" y1="173.8" x2="508.8" y2="175.8" stroke="#888" stroke-width="0.8" />
<text x="508.8" y="179.3" font-size="4.2" fill="#888" text-anchor="middle">10⁴</text>
<line x1="537.5" y1="173.8" x2="537.5" y2="175.8" stroke="#888" stroke-width="0.8" />
<text x="537.5" y="179.3" font-size="4.2" fill="#888" text-anchor="middle">10⁵</text>
<line x1="565" y1="173.8" x2="565" y2="175.8" stroke="#888" stroke-width="0.8" />
<text x="565" y="179.3" font-size="4.2" fill="#888" text-anchor="middle">10⁶</text>
<line x1="425.8" y1="173.8" x2="425.8" y2="174.8" stroke="#bbb" stroke-width="0.5" />
<line x1="429.1" y1="173.8" x2="429.1" y2="174.8" stroke="#bbb" stroke-width="0.5" />
<line x1="432.40000000000003" y1="173.8" x2="432.40000000000003" y2="174.8" stroke="#bbb" stroke-width="0.5" />
<line x1="435.7" y1="173.8" x2="435.7" y2="174.8" stroke="#bbb" stroke-width="0.5" />
<line x1="439.0" y1="173.8" x2="439.0" y2="174.8" stroke="#bbb" stroke-width="0.5" />
<line x1="442.3" y1="173.8" x2="442.3" y2="174.8" stroke="#bbb" stroke-width="0.5" />
<line x1="445.6" y1="173.8" x2="445.6" y2="174.8" stroke="#bbb" stroke-width="0.5" />
<line x1="448.90000000000003" y1="173.8" x2="448.90000000000003" y2="174.8" stroke="#bbb" stroke-width="0.5" />
<line x1="452.2" y1="173.8" x2="452.2" y2="174.8" stroke="#bbb" stroke-width="0.5" />
<line x1="455.5" y1="173.8" x2="455.5" y2="174.8" stroke="#bbb" stroke-width="0.5" />
<line x1="458.8" y1="173.8" x2="458.8" y2="174.8" stroke="#bbb" stroke-width="0.5" />
<line x1="462.1" y1="173.8" x2="462.1" y2="174.8" stroke="#bbb" stroke-width="0.5" />
<line x1="465.4" y1="173.8" x2="465.4" y2="174.8" stroke="#bbb" stroke-width="0.5" />
<line x1="468.7" y1="173.8" x2="468.7" y2="174.8" stroke="#bbb" stroke-width="0.5" />
<line x1="472.0" y1="173.8" x2="472.0" y2="174.8" stroke="#bbb" stroke-width="0.5" />
<line x1="475.3" y1="173.8" x2="475.3" y2="174.8" stroke="#bbb" stroke-width="0.5" />
<line x1="478.6" y1="173.8" x2="478.6" y2="174.8" stroke="#bbb" stroke-width="0.5" />
<line x1="481.9" y1="173.8" x2="481.9" y2="174.8" stroke="#bbb" stroke-width="0.5" />
<line x1="485.2" y1="173.8" x2="485.2" y2="174.8" stroke="#bbb" stroke-width="0.5" />
<line x1="488.5" y1="173.8" x2="488.5" y2="174.8" stroke="#bbb" stroke-width="0.5" />
<line x1="491.8" y1="173.8" x2="491.8" y2="174.8" stroke="#bbb" stroke-width="0.5" />
<line x1="495.1" y1="173.8" x2="495.1" y2="174.8" stroke="#bbb" stroke-width="0.5" />
<line x1="498.4" y1="173.8" x2="498.4" y2="174.8" stroke="#bbb" stroke-width="0.5" />
<line x1="501.7" y1="173.8" x2="501.7" y2="174.8" stroke="#bbb" stroke-width="0.5" />
<line x1="505.0" y1="173.8" x2="505.0" y2="174.8" stroke="#bbb" stroke-width="0.5" />
<line x1="508.3" y1="173.8" x2="508.3" y2="174.8" stroke="#bbb" stroke-width="0.5" />
<line x1="511.6" y1="173.8" x2="511.6" y2="174.8" stroke="#bbb" stroke-width="0.5" />
<line x1="514.9" y1="173.8" x2="514.9" y2="174.8" stroke="#bbb" stroke-width="0.5" />
<line x1="518.2" y1="173.8" x2="518.2" y2="174.8" stroke="#bbb" stroke-width="0.5" />
<line x1="521.5" y1="173.8" x2="521.5" y2="174.8" stroke="#bbb" stroke-width="0.5" />
<line x1="524.8" y1="173.8" x2="524.8" y2="174.8" stroke="#bbb" stroke-width="0.5" />
<line x1="528.1" y1="173.8" x2="528.1" y2="174.8" stroke="#bbb" stroke-width="0.5" />
<line x1="531.4" y1="173.8" x2="531.4" y2="174.8" stroke="#bbb" stroke-width="0.5" />
<line x1="534.7" y1="173.8" x2="534.7" y2="174.8" stroke="#bbb" stroke-width="0.5" />
<line x1="538.0" y1="173.8" x2="538.0" y2="174.8" stroke="#bbb" stroke-width="0.5" />
<line x1="541.3" y1="173.8" x2="541.3" y2="174.8" stroke="#bbb" stroke-width="0.5" />
<line x1="544.6" y1="173.8" x2="544.6" y2="174.8" stroke="#bbb" stroke-width="0.5" />
<line x1="547.9" y1="173.8" x2="547.9" y2="174.8" stroke="#bbb" stroke-width="0.5" />
<line x1="551.2" y1="173.8" x2="551.2" y2="174.8" stroke="#bbb" stroke-width="0.5" />
<line x1="554.5" y1="173.8" x2="554.5" y2="174.8" stroke="#bbb" stroke-width="0.5" />
<line x1="557.8" y1="173.8" x2="557.8" y2="174.8" stroke="#bbb" stroke-width="0.5" />
<line x1="561.1" y1="173.8" x2="561.1" y2="174.8" stroke="#bbb" stroke-width="0.5" />
<line x1="481.4" y1="31.3" x2="481.4" y2="173.8" stroke="#1a1a1a" stroke-width="1.2" />
<line x1="422.8" y1="99.7" x2="565.5" y2="99.7" stroke="#3a3a3a" stroke-width="1.5" />
<text x="425.8" y="42.3" font-size="7.0" font-weight="normal" text-anchor="start" fill="#333" >Q1</text>
<text x="425.8" y="49.6" font-size="7.0" font-weight="normal" text-anchor="start" fill="#333" >97.6</text>
<text x="553.3" y="42.3" font-size="7.0" font-weight="normal" text-anchor="end" fill="#333" >Q2</text>
<text x="553.3" y="49.6" font-size="7.0" font-weight="normal" text-anchor="end" fill="#333" >1.43</text>
<text x="425.8" y="159.3" font-size="7.0" font-weight="normal" text-anchor="start" fill="#333" >Q4</text>
<text x="425.8" y="166.70000000000002" font-size="7.0" font-weight="normal" text-anchor="start" fill="#333" >0.96</text>
<text x="553.3" y="159.3" font-size="7.0" font-weight="normal" text-anchor="end" fill="#333" >Q3</text>
<text x="553.3" y="166.70000000000002" font-size="7.0" font-weight="normal" text-anchor="end" fill="#333" >0</text>
<rect x="421.8" y="142" width="1.8" height="4" fill="#222"/>
<rect x="441" y="173.3" width="5" height="1.2" fill="#333"/>
<rect x="657.0" y="90.4" width="1" height="1" fill="#8fa0c8" opacity="0.7"/>
<rect x="669.5" y="69.9" width="1" height="1" fill="#8fa0c8" opacity="0.7"/>
<rect x="664.1" y="71.5" width="1" height="1" fill="#8fa0c8" opacity="0.7"/>
<rect x="677.9" y="78.9" width="1" height="1" fill="#8fa0c8" opacity="0.7"/>
<rect x="673.6" y="75.9" width="1" height="1" fill="#8fa0c8" opacity="0.7"/>
<rect x="682.3" y="73.8" width="1" height="1" fill="#8fa0c8" opacity="0.7"/>
<rect x="653.1" y="55.4" width="1" height="1" fill="#8fa0c8" opacity="0.7"/>
<rect x="683.3" y="83.1" width="1" height="1" fill="#8fa0c8" opacity="0.7"/>
<rect x="658.6" y="76.0" width="1" height="1" fill="#8fa0c8" opacity="0.7"/>
<rect x="669.3" y="46.9" width="1" height="1" fill="#8fa0c8" opacity="0.7"/>
<rect x="688.0" y="96.7" width="1" height="1" fill="#8fa0c8" opacity="0.7"/>
<rect x="661.8" y="91.5" width="1" height="1" fill="#8fa0c8" opacity="0.7"/>
<rect x="681.4" y="62.3" width="1" height="1" fill="#8fa0c8" opacity="0.7"/>
<rect x="677.1" y="82.0" width="1" height="1" fill="#8fa0c8" opacity="0.7"/>
<rect x="656.0" y="84.2" width="1" height="1" fill="#8fa0c8" opacity="0.7"/>
<rect x="674.1" y="83.3" width="1" height="1" fill="#8fa0c8" opacity="0.7"/>
<rect x="663.2" y="76.5" width="1" height="1" fill="#8fa0c8" opacity="0.7"/>
<rect x="652.9" y="82.5" width="1" height="1" fill="#8fa0c8" opacity="0.7"/>
<rect x="674.0" y="72.1" width="1" height="1" fill="#8fa0c8" opacity="0.7"/>
<rect x="650.7" y="76.8" width="1" height="1" fill="#8fa0c8" opacity="0.7"/>
<rect x="698.3" y="67.9" width="1" height="1" fill="#8fa0c8" opacity="0.7"/>
<rect x="650.9" y="49.2" width="1" height="1" fill="#8fa0c8" opacity="0.7"/>
<rect x="674.4" y="77.6" width="1" height="1" fill="#8fa0c8" opacity="0.7"/>
<rect x="683.8" y="68.9" width="1" height="1" fill="#8fa0c8" opacity="0.7"/>
<rect x="668.4" y="83.3" width="1" height="1" fill="#8fa0c8" opacity="0.7"/>
<rect x="662.6" y="69.0" width="1" height="1" fill="#8fa0c8" opacity="0.7"/>
<rect x="691.1" y="84.4" width="1" height="1" fill="#8fa0c8" opacity="0.7"/>
<rect x="647.0" y="82.7" width="1" height="1" fill="#8fa0c8" opacity="0.7"/>
<rect x="669.1" y="77.4" width="1" height="1" fill="#8fa0c8" opacity="0.7"/>
<rect x="653.8" y="72.1" width="1" height="1" fill="#8fa0c8" opacity="0.7"/>
<rect x="692.5" y="71.2" width="1" height="1" fill="#8fa0c8" opacity="0.7"/>
<rect x="688.3" y="74.0" width="1" height="1" fill="#8fa0c8" opacity="0.7"/>
<rect x="688.0" y="71.4" width="1" height="1" fill="#8fa0c8" opacity="0.7"/>
<rect x="659.0" y="87.1" width="1" height="1" fill="#8fa0c8" opacity="0.7"/>
<rect x="668.5" y="83.3" width="1" height="1" fill="#8fa0c8" opacity="0.7"/>
<rect x="657.4" y="82.5" width="1" height="1" fill="#8fa0c8" opacity="0.7"/>
<rect x="672.1" y="77.9" width="1" height="1" fill="#8fa0c8" opacity="0.7"/>
<rect x="672.5" y="75.0" width="1" height="1" fill="#8fa0c8" opacity="0.7"/>
<rect x="668.1" y="87.8" width="1" height="1" fill="#8fa0c8" opacity="0.7"/>
<rect x="659.1" y="70.0" width="1" height="1" fill="#8fa0c8" opacity="0.7"/>
<rect x="659.2" y="82.8" width="1" height="1" fill="#8fa0c8" opacity="0.7"/>
<rect x="665.2" y="80.3" width="1" height="1" fill="#8fa0c8" opacity="0.7"/>
<rect x="666.4" y="79.6" width="1" height="1" fill="#8fa0c8" opacity="0.7"/>
<rect x="654.1" y="67.5" width="1" height="1" fill="#8fa0c8" opacity="0.7"/>
<rect x="677.0" y="84.4" width="1" height="1" fill="#8fa0c8" opacity="0.7"/>
<rect x="667.5" y="72.9" width="1" height="1" fill="#8fa0c8" opacity="0.7"/>
<rect x="661.7" y="65.7" width="1" height="1" fill="#8fa0c8" opacity="0.7"/>
<rect x="648.0" y="93.2" width="1" height="1" fill="#8fa0c8" opacity="0.7"/>
<rect x="662.2" y="92.0" width="1" height="1" fill="#8fa0c8" opacity="0.7"/>
<rect x="650.9" y="68.4" width="1" height="1" fill="#8fa0c8" opacity="0.7"/>
<rect x="662.0" y="88.7" width="1" height="1" fill="#8fa0c8" opacity="0.7"/>
<rect x="670.9" y="75.8" width="1" height="1" fill="#8fa0c8" opacity="0.7"/>
<rect x="684.1" y="73.0" width="1" height="1" fill="#8fa0c8" opacity="0.7"/>
<rect x="669.4" y="83.6" width="1" height="1" fill="#8fa0c8" opacity="0.7"/>
<rect x="687.7" y="74.2" width="1" height="1" fill="#8fa0c8" opacity="0.7"/>
<rect x="666.1" y="60.1" width="1" height="1" fill="#8fa0c8" opacity="0.7"/>
<rect x="669.3" y="85.9" width="1" height="1" fill="#8fa0c8" opacity="0.7"/>
<rect x="670.5" y="90.1" width="1" height="1" fill="#8fa0c8" opacity="0.7"/>
<rect x="677.5" y="81.7" width="1" height="1" fill="#8fa0c8" opacity="0.7"/>
<rect x="674.7" y="66.5" width="1" height="1" fill="#8fa0c8" opacity="0.7"/>
<rect x="612.4" y="72.5" width="1" height="1" fill="#aaa" opacity="0.6"/>
<rect x="600.0" y="73.4" width="1" height="1" fill="#aaa" opacity="0.6"/>
<rect x="619.0" y="77.6" width="1" height="1" fill="#aaa" opacity="0.6"/>
<rect x="608.0" y="77.7" width="1" height="1" fill="#aaa" opacity="0.6"/>
<rect x="600.2" y="69.2" width="1" height="1" fill="#aaa" opacity="0.6"/>
<rect x="603.6" y="74.0" width="1" height="1" fill="#aaa" opacity="0.6"/>
<rect x="601.7" y="60.8" width="1" height="1" fill="#aaa" opacity="0.6"/>
<rect x="612.2" y="68.1" width="1" height="1" fill="#aaa" opacity="0.6"/>
<rect x="623.4" y="78.5" width="1" height="1" fill="#aaa" opacity="0.6"/>
<rect x="630.0" y="83.0" width="1" height="1" fill="#aaa" opacity="0.6"/>
<rect x="658.4" y="123.7" width="1" height="1" fill="#aaa" opacity="0.6"/>
<rect x="675.9" y="117.5" width="1" height="1" fill="#aaa" opacity="0.6"/>
<rect x="664.8" y="103.8" width="1" height="1" fill="#aaa" opacity="0.6"/>
<rect x="693.6" y="123.2" width="1" height="1" fill="#aaa" opacity="0.6"/>
<rect x="683.3" y="109.2" width="1" height="1" fill="#aaa" opacity="0.6"/>
<rect x="678.9" y="127.4" width="1" height="1" fill="#aaa" opacity="0.6"/>
<rect x="659.2" y="104.0" width="1" height="1" fill="#aaa" opacity="0.6"/>
<rect x="668.4" y="120.5" width="1" height="1" fill="#aaa" opacity="0.6"/>
<rect x="676.9" y="125.0" width="1" height="1" fill="#aaa" opacity="0.6"/>
<rect x="689.0" y="129.6" width="1" height="1" fill="#aaa" opacity="0.6"/>
<rect x="649.6" y="112.9" width="1" height="1" fill="#aaa" opacity="0.6"/>
<rect x="653.2" y="107.2" width="1" height="1" fill="#aaa" opacity="0.6"/>
<rect x="666.9" y="118.1" width="1" height="1" fill="#aaa" opacity="0.6"/>
<rect x="710.4" y="54.7" width="1" height="1" fill="#3956c2"/>
<rect x="695.9" y="91.4" width="1" height="1" fill="#3956c2"/>
<rect x="711.6" y="58.4" width="1" height="1" fill="#3956c2"/>
<rect x="687.5" y="96.3" width="1" height="1" fill="#3956c2"/>
<rect x="683.0" y="90.9" width="1" height="1" fill="#3957c2"/>
<rect x="677.8" y="88.3" width="1" height="1" fill="#3957c3"/>
<rect x="709.3" y="98.7" width="1" height="1" fill="#3957c3"/>
<rect x="673.5" y="102.8" width="1" height="1" fill="#3958c3"/>
<rect x="700.0" y="92.8" width="1" height="1" fill="#3958c3"/>
<rect x="680.8" y="94.6" width="1" height="1" fill="#3958c3"/>
<rect x="696.9" y="91.8" width="1" height="1" fill="#3958c3"/>
<rect x="674.1" y="59.0" width="1" height="1" fill="#3958c3"/>
<rect x="711.3" y="68.1" width="1" height="1" fill="#3859c4"/>
<rect x="672.0" y="83.6" width="1" height="1" fill="#3859c4"/>
<rect x="695.3" y="90.6" width="1" height="1" fill="#385ac5"/>
<rect x="687.9" y="92.1" width="1" height="1" fill="#385ac5"/>
<rect x="677.6" y="82.8" width="1" height="1" fill="#385bc5"/>
<rect x="694.5" y="43.0" width="1" height="1" fill="#385bc5"/>
<rect x="709.8" y="56.1" width="1" height="1" fill="#385bc5"/>
<rect x="706.5" y="76.9" width="1" height="1" fill="#385bc5"/>
<rect x="665.9" y="79.8" width="1" height="1" fill="#385bc5"/>
<rect x="708.9" y="74.3" width="1" height="1" fill="#385bc5"/>
<rect x="714.3" y="83.7" width="1" height="1" fill="#385bc5"/>
<rect x="711.0" y="62.4" width="1" height="1" fill="#375cc6"/>
<rect x="677.9" y="92.5" width="1" height="1" fill="#375cc6"/>
<rect x="702.2" y="46.5" width="1" height="1" fill="#375cc6"/>
<rect x="677.2" y="85.3" width="1" height="1" fill="#375cc6"/>
<rect x="698.9" y="34.8" width="1" height="1" fill="#375dc6"/>
<rect x="678.4" y="90.5" width="1" height="1" fill="#375dc6"/>
<rect x="708.3" y="65.3" width="1" height="1" fill="#375dc6"/>
<rect x="695.8" y="35.7" width="1" height="1" fill="#375dc7"/>
<rect x="675.0" y="81.5" width="1" height="1" fill="#375dc7"/>
<rect x="675.7" y="51.2" width="1" height="1" fill="#375ec7"/>
<rect x="671.2" y="72.4" width="1" height="1" fill="#375ec7"/>
<rect x="673.8" y="82.4" width="1" height="1" fill="#375ec7"/>
<rect x="681.6" y="88.8" width="1" height="1" fill="#375ec7"/>
<rect x="677.7" y="60.0" width="1" height="1" fill="#375ec7"/>
<rect x="675.9" y="68.7" width="1" height="1" fill="#375ec7"/>
<rect x="708.6" y="66.0" width="1" height="1" fill="#375ec7"/>
<rect x="709.5" y="61.8" width="1" height="1" fill="#375ec7"/>
<rect x="691.1" y="89.7" width="1" height="1" fill="#375ec7"/>
<rect x="701.6" y="45.3" width="1" height="1" fill="#375ec7"/>
<rect x="714.7" y="74.6" width="1" height="1" fill="#365fc8"/>
<rect x="707.9" y="63.3" width="1" height="1" fill="#365fc8"/>
<rect x="678.5" y="87.4" width="1" height="1" fill="#365fc8"/>
<rect x="715.3" y="59.8" width="1" height="1" fill="#365fc8"/>
<rect x="687.9" y="45.5" width="1" height="1" fill="#365fc8"/>
<rect x="677.4" y="63.6" width="1" height="1" fill="#365fc8"/>
<rect x="693.9" y="35.4" width="1" height="1" fill="#365fc8"/>
<rect x="695.5" y="42.9" width="1" height="1" fill="#365fc8"/>
<rect x="690.9" y="89.7" width="1" height="1" fill="#3660c8"/>
<rect x="693.0" y="45.0" width="1" height="1" fill="#3660c8"/>
<rect x="709.5" y="69.2" width="1" height="1" fill="#3660c8"/>
<rect x="710.3" y="68.1" width="1" height="1" fill="#3660c9"/>
<rect x="707.1" y="83.6" width="1" height="1" fill="#3660c9"/>
<rect x="687.5" y="88.4" width="1" height="1" fill="#3660c9"/>
<rect x="685.6" y="93.9" width="1" height="1" fill="#3661c9"/>
<rect x="689.7" y="91.5" width="1" height="1" fill="#3661c9"/>
<rect x="697.5" y="89.0" width="1" height="1" fill="#3661c9"/>
<rect x="674.8" y="60.1" width="1" height="1" fill="#3661c9"/>
<rect x="695.5" y="85.2" width="1" height="1" fill="#3661c9"/>
<rect x="705.8" y="56.4" width="1" height="1" fill="#3661c9"/>
<rect x="685.3" y="86.6" width="1" height="1" fill="#3661c9"/>
<rect x="692.5" y="44.3" width="1" height="1" fill="#3661c9"/>
<rect x="706.3" y="70.9" width="1" height="1" fill="#3661c9"/>
<rect x="685.1" y="37.2" width="1" height="1" fill="#3661c9"/>
<rect x="673.6" y="78.5" width="1" height="1" fill="#3661c9"/>
<rect x="693.5" y="86.1" width="1" height="1" fill="#3661c9"/>
<rect x="697.0" y="84.2" width="1" height="1" fill="#3562ca"/>
<rect x="707.0" y="67.5" width="1" height="1" fill="#3562ca"/>
<rect x="697.4" y="47.2" width="1" height="1" fill="#3562ca"/>
<rect x="700.9" y="84.0" width="1" height="1" fill="#3563ca"/>
<rect x="706.1" y="56.2" width="1" height="1" fill="#3563cb"/>
<rect x="680.4" y="81.0" width="1" height="1" fill="#3563cb"/>
<rect x="677.4" y="82.7" width="1" height="1" fill="#3563cb"/>
<rect x="696.0" y="43.7" width="1" height="1" fill="#3563cb"/>
<rect x="682.8" y="84.8" width="1" height="1" fill="#3563cb"/>
<rect x="708.2" y="61.4" width="1" height="1" fill="#3564cb"/>
<rect x="700.5" y="45.3" width="1" height="1" fill="#3564cb"/>
<rect x="694.8" y="86.5" width="1" height="1" fill="#3564cb"/>
<rect x="701.1" y="47.6" width="1" height="1" fill="#3564cb"/>
<rect x="694.4" y="45.9" width="1" height="1" fill="#3465cc"/>
<rect x="677.6" y="76.4" width="1" height="1" fill="#3465cc"/>
<rect x="708.7" y="63.9" width="1" height="1" fill="#3465cc"/>
<rect x="679.3" y="79.5" width="1" height="1" fill="#3465cc"/>
<rect x="704.0" y="52.8" width="1" height="1" fill="#3466cc"/>
<rect x="689.9" y="86.0" width="1" height="1" fill="#3466cc"/>
<rect x="681.5" y="52.4" width="1" height="1" fill="#3466cc"/>
<rect x="693.6" y="45.8" width="1" height="1" fill="#3466cc"/>
<rect x="702.8" y="52.3" width="1" height="1" fill="#3466cd"/>
<rect x="701.3" y="49.9" width="1" height="1" fill="#3466cd"/>
<rect x="704.5" y="56.1" width="1" height="1" fill="#3466cd"/>
<rect x="705.6" y="62.7" width="1" height="1" fill="#3467cd"/>
<rect x="681.7" y="56.6" width="1" height="1" fill="#3467cd"/>
<rect x="690.3" y="85.2" width="1" height="1" fill="#3467cd"/>
<rect x="685.3" y="52.7" width="1" height="1" fill="#3467cd"/>
<rect x="690.1" y="49.1" width="1" height="1" fill="#3467cd"/>
<rect x="683.8" y="82.7" width="1" height="1" fill="#3467cd"/>
<rect x="705.5" y="67.7" width="1" height="1" fill="#3467cd"/>
<rect x="683.9" y="54.2" width="1" height="1" fill="#3467cd"/>
<rect x="698.3" y="49.2" width="1" height="1" fill="#3368ce"/>
<rect x="699.7" y="82.6" width="1" height="1" fill="#3368ce"/>
<rect x="678.8" y="74.6" width="1" height="1" fill="#3368ce"/>
<rect x="680.8" y="59.4" width="1" height="1" fill="#3368ce"/>
<rect x="677.7" y="75.3" width="1" height="1" fill="#3368ce"/>
<rect x="697.8" y="44.3" width="1" height="1" fill="#3368ce"/>
<rect x="706.4" y="58.7" width="1" height="1" fill="#3368ce"/>
<rect x="699.9" y="79.4" width="1" height="1" fill="#3368ce"/>
<rect x="678.6" y="73.3" width="1" height="1" fill="#3368ce"/>
<rect x="685.6" y="86.0" width="1" height="1" fill="#3368ce"/>
<rect x="700.1" y="78.5" width="1" height="1" fill="#3368ce"/>
<rect x="705.2" y="64.6" width="1" height="1" fill="#3368ce"/>
<rect x="687.8" y="50.3" width="1" height="1" fill="#3368ce"/>
<rect x="679.5" y="64.7" width="1" height="1" fill="#3368ce"/>
<rect x="696.6" y="82.7" width="1" height="1" fill="#3369ce"/>
<rect x="680.0" y="77.2" width="1" height="1" fill="#3369ce"/>
<rect x="680.5" y="77.9" width="1" height="1" fill="#3369ce"/>
<rect x="678.6" y="71.7" width="1" height="1" fill="#3369ce"/>
<rect x="686.6" y="86.6" width="1" height="1" fill="#3369ce"/>
<rect x="688.5" y="50.7" width="1" height="1" fill="#3369cf"/>
<rect x="698.2" y="81.4" width="1" height="1" fill="#3369cf"/>
<rect x="679.1" y="73.2" width="1" height="1" fill="#3369cf"/>
<rect x="679.0" y="68.7" width="1" height="1" fill="#3369cf"/>
<rect x="705.5" y="64.4" width="1" height="1" fill="#336acf"/>
<rect x="695.2" y="83.4" width="1" height="1" fill="#336acf"/>
<rect x="699.3" y="79.4" width="1" height="1" fill="#336acf"/>
<rect x="685.7" y="49.3" width="1" height="1" fill="#336acf"/>
<rect x="683.8" y="54.2" width="1" height="1" fill="#336acf"/>
<rect x="705.3" y="59.3" width="1" height="1" fill="#336acf"/>
<rect x="689.3" y="85.2" width="1" height="1" fill="#336acf"/>
<rect x="701.4" y="51.8" width="1" height="1" fill="#336acf"/>
<rect x="704.1" y="69.2" width="1" height="1" fill="#336acf"/>
<rect x="694.3" y="83.2" width="1" height="1" fill="#336acf"/>
<rect x="701.5" y="52.4" width="1" height="1" fill="#336acf"/>
<rect x="684.1" y="53.0" width="1" height="1" fill="#336acf"/>
<rect x="696.7" y="49.5" width="1" height="1" fill="#336acf"/>
<rect x="690.6" y="84.8" width="1" height="1" fill="#336acf"/>
<rect x="692.4" y="49.4" width="1" height="1" fill="#336acf"/>
<rect x="679.2" y="68.4" width="1" height="1" fill="#336acf"/>
<rect x="690.8" y="85.0" width="1" height="1" fill="#336acf"/>
<rect x="685.5" y="83.5" width="1" height="1" fill="#336acf"/>
<rect x="684.1" y="85.7" width="1" height="1" fill="#326bd0"/>
<rect x="692.7" y="83.7" width="1" height="1" fill="#326bd0"/>
<rect x="687.7" y="51.4" width="1" height="1" fill="#326bd0"/>
<rect x="697.0" y="48.4" width="1" height="1" fill="#326bd0"/>
<rect x="688.4" y="51.2" width="1" height="1" fill="#326bd0"/>
<rect x="696.1" y="82.6" width="1" height="1" fill="#326bd0"/>
<rect x="699.3" y="78.6" width="1" height="1" fill="#326bd0"/>
<rect x="685.8" y="83.6" width="1" height="1" fill="#326bd0"/>
<rect x="681.5" y="80.6" width="1" height="1" fill="#326bd0"/>
<rect x="679.6" y="63.7" width="1" height="1" fill="#326bd0"/>
<rect x="681.4" y="78.7" width="1" height="1" fill="#326bd0"/>
<rect x="692.5" y="84.4" width="1" height="1" fill="#326bd0"/>
<rect x="699.7" y="50.0" width="1" height="1" fill="#326bd0"/>
<rect x="695.7" y="49.2" width="1" height="1" fill="#326bd0"/>
<rect x="679.4" y="70.5" width="1" height="1" fill="#326bd0"/>
<rect x="689.8" y="47.5" width="1" height="1" fill="#326bd0"/>
<rect x="695.5" y="82.7" width="1" height="1" fill="#326bd0"/>
<rect x="690.4" y="86.0" width="1" height="1" fill="#326bd0"/>
<rect x="704.5" y="63.6" width="1" height="1" fill="#326bd0"/>
<rect x="705.2" y="61.3" width="1" height="1" fill="#326bd0"/>
<rect x="678.9" y="64.6" width="1" height="1" fill="#326bd0"/>
<rect x="682.8" y="56.0" width="1" height="1" fill="#326cd0"/>
<rect x="689.5" y="84.1" width="1" height="1" fill="#326cd0"/>
<rect x="702.1" y="76.0" width="1" height="1" fill="#326cd0"/>
<rect x="682.9" y="81.6" width="1" height="1" fill="#326cd0"/>
<rect x="678.9" y="76.4" width="1" height="1" fill="#326cd0"/>
<rect x="695.0" y="47.7" width="1" height="1" fill="#326cd0"/>
<rect x="699.5" y="49.6" width="1" height="1" fill="#326cd0"/>
<rect x="705.5" y="62.7" width="1" height="1" fill="#326cd1"/>
<rect x="704.9" y="60.4" width="1" height="1" fill="#326cd1"/>
<rect x="689.4" y="49.7" width="1" height="1" fill="#326cd1"/>
<rect x="695.3" y="48.7" width="1" height="1" fill="#326cd1"/>
<rect x="683.8" y="81.7" width="1" height="1" fill="#326cd1"/>
<rect x="699.1" y="51.3" width="1" height="1" fill="#326cd1"/>
<rect x="700.2" y="51.9" width="1" height="1" fill="#326cd1"/>
<rect x="680.7" y="59.1" width="1" height="1" fill="#326cd1"/>
<rect x="679.5" y="70.0" width="1" height="1" fill="#326cd1"/>
<rect x="705.5" y="61.4" width="1" height="1" fill="#326cd1"/>
<rect x="703.3" y="54.7" width="1" height="1" fill="#326cd1"/>
<rect x="697.0" y="48.5" width="1" height="1" fill="#326dd1"/>
<rect x="705.1" y="58.9" width="1" height="1" fill="#326dd1"/>
<rect x="695.2" y="82.6" width="1" height="1" fill="#326dd1"/>
<rect x="699.6" y="50.0" width="1" height="1" fill="#326dd1"/>
<rect x="681.0" y="78.8" width="1" height="1" fill="#326dd1"/>
<rect x="700.2" y="50.4" width="1" height="1" fill="#326dd1"/>
<rect x="683.4" y="56.1" width="1" height="1" fill="#326dd1"/>
<rect x="689.9" y="83.4" width="1" height="1" fill="#326dd1"/>
<rect x="679.9" y="76.1" width="1" height="1" fill="#326dd1"/>
<rect x="680.3" y="74.0" width="1" height="1" fill="#326dd1"/>
<rect x="703.4" y="72.7" width="1" height="1" fill="#326dd1"/>
<rect x="703.9" y="70.3" width="1" height="1" fill="#326dd1"/>
<rect x="684.7" y="55.4" width="1" height="1" fill="#326dd1"/>
<rect x="683.5" y="56.7" width="1" height="1" fill="#326dd1"/>
<rect x="683.4" y="56.2" width="1" height="1" fill="#326dd1"/>
<rect x="682.8" y="54.2" width="1" height="1" fill="#326dd1"/>
<rect x="678.7" y="69.3" width="1" height="1" fill="#326dd1"/>
<rect x="703.8" y="68.2" width="1" height="1" fill="#326dd1"/>
<rect x="690.2" y="83.8" width="1" height="1" fill="#326dd1"/>
<rect x="678.8" y="71.2" width="1" height="1" fill="#326dd1"/>
<rect x="685.8" y="83.9" width="1" height="1" fill="#326dd1"/>
<rect x="704.2" y="60.2" width="1" height="1" fill="#326dd1"/>
<rect x="701.4" y="52.3" width="1" height="1" fill="#326dd1"/>
<rect x="685.6" y="84.4" width="1" height="1" fill="#326dd1"/>
<rect x="693.5" y="49.0" width="1" height="1" fill="#326ed1"/>
<rect x="694.9" y="49.8" width="1" height="1" fill="#326ed1"/>
<rect x="693.3" y="83.0" width="1" height="1" fill="#326ed1"/>
<rect x="683.0" y="57.9" width="1" height="1" fill="#326ed1"/>
<rect x="704.9" y="67.7" width="1" height="1" fill="#326ed1"/>
<rect x="678.7" y="73.5" width="1" height="1" fill="#326ed1"/>
<rect x="685.6" y="51.5" width="1" height="1" fill="#326ed1"/>
<rect x="704.6" y="70.4" width="1" height="1" fill="#326ed1"/>
<rect x="691.5" y="49.4" width="1" height="1" fill="#326ed1"/>
<rect x="697.8" y="81.3" width="1" height="1" fill="#326ed1"/>
<rect x="704.5" y="58.9" width="1" height="1" fill="#326ed1"/>
<rect x="700.9" y="76.1" width="1" height="1" fill="#326ed1"/>
<rect x="702.3" y="54.9" width="1" height="1" fill="#326ed1"/>
<rect x="695.4" y="82.9" width="1" height="1" fill="#326fd1"/>
<rect x="687.5" y="52.6" width="1" height="1" fill="#326fd1"/>
<rect x="702.6" y="54.9" width="1" height="1" fill="#326fd1"/>
<rect x="703.5" y="57.5" width="1" height="1" fill="#326fd1"/>
<rect x="684.6" y="54.0" width="1" height="1" fill="#3270d1"/>
<rect x="682.4" y="81.8" width="1" height="1" fill="#3270d1"/>
<rect x="705.0" y="65.6" width="1" height="1" fill="#3270d1"/>
<rect x="687.9" y="84.5" width="1" height="1" fill="#3270d1"/>
<rect x="684.2" y="81.6" width="1" height="1" fill="#3270d1"/>
<rect x="682.9" y="80.9" width="1" height="1" fill="#3270d1"/>
<rect x="704.1" y="66.2" width="1" height="1" fill="#3271d1"/>
<rect x="698.0" y="51.3" width="1" height="1" fill="#3271d1"/>
<rect x="690.7" y="50.7" width="1" height="1" fill="#3271d1"/>
<rect x="682.9" y="82.8" width="1" height="1" fill="#3271d1"/>
<rect x="688.0" y="50.1" width="1" height="1" fill="#3271d1"/>
<rect x="688.3" y="51.8" width="1" height="1" fill="#3271d1"/>
<rect x="704.9" y="68.9" width="1" height="1" fill="#3271d1"/>
<rect x="704.0" y="63.5" width="1" height="1" fill="#3271d1"/>
<rect x="687.6" y="84.0" width="1" height="1" fill="#3271d1"/>
<rect x="705.1" y="62.5" width="1" height="1" fill="#3271d1"/>
<rect x="689.5" y="50.0" width="1" height="1" fill="#3272d1"/>
<rect x="702.1" y="74.3" width="1" height="1" fill="#3272d1"/>
<rect x="680.0" y="65.8" width="1" height="1" fill="#3272d1"/>
<rect x="704.0" y="62.9" width="1" height="1" fill="#3272d1"/>
<rect x="681.8" y="78.7" width="1" height="1" fill="#3272d1"/>
<rect x="683.1" y="80.8" width="1" height="1" fill="#3272d1"/>
<rect x="687.2" y="84.7" width="1" height="1" fill="#3273d1"/>
<rect x="704.4" y="63.9" width="1" height="1" fill="#3273d1"/>
<rect x="700.7" y="52.0" width="1" height="1" fill="#3273d1"/>
<rect x="692.8" y="83.0" width="1" height="1" fill="#3273d1"/>
<rect x="688.8" y="84.7" width="1" height="1" fill="#3273d1"/>
<rect x="679.6" y="65.7" width="1" height="1" fill="#3273d1"/>
<rect x="693.9" y="84.2" width="1" height="1" fill="#3273d1"/>
<rect x="679.0" y="68.1" width="1" height="1" fill="#3273d1"/>
<rect x="691.9" y="84.5" width="1" height="1" fill="#3373d0"/>
<rect x="679.4" y="68.0" width="1" height="1" fill="#3373d0"/>
<rect x="701.3" y="74.1" width="1" height="1" fill="#3373d0"/>
<rect x="703.9" y="60.8" width="1" height="1" fill="#3373d0"/>
<rect x="679.1" y="64.7" width="1" height="1" fill="#3374d0"/>
<rect x="679.8" y="61.7" width="1" height="1" fill="#3374d0"/>
<rect x="682.7" y="59.1" width="1" height="1" fill="#3374d0"/>
<rect x="680.5" y="75.8" width="1" height="1" fill="#3374d0"/>
<rect x="687.7" y="83.8" width="1" height="1" fill="#3374d0"/>
<rect x="679.0" y="72.3" width="1" height="1" fill="#3374d0"/>
<rect x="697.9" y="80.4" width="1" height="1" fill="#3374d0"/>
<rect x="693.4" y="48.4" width="1" height="1" fill="#3374d0"/>
<rect x="682.8" y="80.7" width="1" height="1" fill="#3374d0"/>
<rect x="692.0" y="48.7" width="1" height="1" fill="#3375d0"/>
<rect x="685.6" y="52.9" width="1" height="1" fill="#3375d0"/>
<rect x="702.1" y="73.2" width="1" height="1" fill="#3375d0"/>
<rect x="693.7" y="82.3" width="1" height="1" fill="#3375d0"/>
<rect x="681.0" y="59.6" width="1" height="1" fill="#3375d0"/>
<rect x="700.8" y="50.6" width="1" height="1" fill="#3375d0"/>
<rect x="704.0" y="68.9" width="1" height="1" fill="#3375d0"/>
<rect x="679.6" y="74.9" width="1" height="1" fill="#3375d0"/>
<rect x="699.6" y="79.0" width="1" height="1" fill="#3375d0"/>
<rect x="684.4" y="82.2" width="1" height="1" fill="#3375d0"/>
<rect x="678.6" y="72.1" width="1" height="1" fill="#3376d0"/>
<rect x="704.0" y="58.5" width="1" height="1" fill="#3376d0"/>
<rect x="687.6" y="84.2" width="1" height="1" fill="#3376d0"/>
<rect x="692.1" y="50.1" width="1" height="1" fill="#3376d0"/>
<rect x="703.5" y="57.5" width="1" height="1" fill="#3376d0"/>
<rect x="683.2" y="57.7" width="1" height="1" fill="#3376d0"/>
<rect x="695.7" y="50.6" width="1" height="1" fill="#3377d0"/>
<rect x="700.7" y="75.4" width="1" height="1" fill="#3377d0"/>
<rect x="703.1" y="58.2" width="1" height="1" fill="#3377d0"/>
<rect x="703.5" y="72.4" width="1" height="1" fill="#3377d0"/>
<rect x="691.5" y="49.9" width="1" height="1" fill="#3377d0"/>
<rect x="705.3" y="60.6" width="1" height="1" fill="#3377d0"/>
<rect x="682.8" y="56.8" width="1" height="1" fill="#3377d0"/>
<rect x="682.4" y="56.5" width="1" height="1" fill="#3377d0"/>
<rect x="701.9" y="55.3" width="1" height="1" fill="#3377d0"/>
<rect x="700.0" y="78.2" width="1" height="1" fill="#3378d0"/>
<rect x="689.7" y="82.6" width="1" height="1" fill="#3378d0"/>
<rect x="690.9" y="84.0" width="1" height="1" fill="#3378d0"/>
<rect x="700.2" y="79.0" width="1" height="1" fill="#3378d0"/>
<rect x="705.3" y="59.9" width="1" height="1" fill="#3378d0"/>
<rect x="683.4" y="82.0" width="1" height="1" fill="#3378d0"/>
<rect x="679.9" y="62.2" width="1" height="1" fill="#3378d0"/>
<rect x="687.3" y="50.8" width="1" height="1" fill="#3378d0"/>
<rect x="689.9" y="49.7" width="1" height="1" fill="#3378d0"/>
<rect x="698.3" y="80.1" width="1" height="1" fill="#3479cf"/>
<rect x="679.6" y="70.7" width="1" height="1" fill="#3479cf"/>
<rect x="703.6" y="71.0" width="1" height="1" fill="#3479cf"/>
<rect x="686.0" y="83.9" width="1" height="1" fill="#347acf"/>
<rect x="691.3" y="49.7" width="1" height="1" fill="#347acf"/>
<rect x="690.1" y="51.6" width="1" height="1" fill="#347acf"/>
<rect x="679.8" y="65.0" width="1" height="1" fill="#347acf"/>
<rect x="697.3" y="81.1" width="1" height="1" fill="#347acf"/>
<rect x="702.3" y="55.1" width="1" height="1" fill="#347acf"/>
<rect x="685.7" y="52.9" width="1" height="1" fill="#347acf"/>
<rect x="699.9" y="50.6" width="1" height="1" fill="#347acf"/>
<rect x="678.9" y="70.1" width="1" height="1" fill="#347acf"/>
<rect x="683.9" y="81.7" width="1" height="1" fill="#347acf"/>
<rect x="701.6" y="53.8" width="1" height="1" fill="#347acf"/>
<rect x="697.0" y="50.8" width="1" height="1" fill="#347bcf"/>
<rect x="704.1" y="71.1" width="1" height="1" fill="#347bcf"/>
<rect x="682.7" y="79.9" width="1" height="1" fill="#347bcf"/>
<rect x="699.5" y="77.1" width="1" height="1" fill="#347bcf"/>
<rect x="679.7" y="63.7" width="1" height="1" fill="#347bcf"/>
<rect x="681.9" y="58.3" width="1" height="1" fill="#347bcf"/>
<rect x="697.5" y="50.7" width="1" height="1" fill="#347bcf"/>
<rect x="688.5" y="84.0" width="1" height="1" fill="#347bcf"/>
<rect x="681.3" y="78.3" width="1" height="1" fill="#347bcf"/>
<rect x="680.8" y="73.9" width="1" height="1" fill="#347bcf"/>
<rect x="685.5" y="81.6" width="1" height="1" fill="#347ccf"/>
<rect x="693.0" y="50.7" width="1" height="1" fill="#347ccf"/>
<rect x="692.9" y="51.1" width="1" height="1" fill="#347ccf"/>
<rect x="688.8" y="52.5" width="1" height="1" fill="#347ccf"/>
<rect x="700.8" y="76.3" width="1" height="1" fill="#347ccf"/>
<rect x="688.3" y="52.5" width="1" height="1" fill="#347ccf"/>
<rect x="704.6" y="69.1" width="1" height="1" fill="#347ccf"/>
<rect x="690.2" y="84.6" width="1" height="1" fill="#347ccf"/>
<rect x="693.6" y="82.4" width="1" height="1" fill="#347ccf"/>
<rect x="700.6" y="51.6" width="1" height="1" fill="#347ccf"/>
<rect x="684.0" y="56.9" width="1" height="1" fill="#347ccf"/>
<rect x="704.1" y="63.6" width="1" height="1" fill="#347ccf"/>
<rect x="699.6" y="52.0" width="1" height="1" fill="#347ccf"/>
<rect x="699.4" y="51.9" width="1" height="1" fill="#347dcf"/>
<rect x="703.2" y="66.0" width="1" height="1" fill="#347dcf"/>
<rect x="697.8" y="51.6" width="1" height="1" fill="#347dcf"/>
<rect x="699.7" y="51.7" width="1" height="1" fill="#347dcf"/>
<rect x="681.0" y="59.8" width="1" height="1" fill="#347dcf"/>
<rect x="693.3" y="49.0" width="1" height="1" fill="#347dcf"/>
<rect x="692.3" y="50.2" width="1" height="1" fill="#347dcf"/>
<rect x="700.4" y="52.2" width="1" height="1" fill="#347dcf"/>
<rect x="681.8" y="78.1" width="1" height="1" fill="#347dcf"/>
<rect x="680.5" y="73.3" width="1" height="1" fill="#347dcf"/>
<rect x="680.7" y="64.5" width="1" height="1" fill="#347dcf"/>
<rect x="699.6" y="78.8" width="1" height="1" fill="#347ecf"/>
<rect x="695.1" y="82.6" width="1" height="1" fill="#347ecf"/>
<rect x="692.8" y="49.4" width="1" height="1" fill="#347ecf"/>
<rect x="695.8" y="82.2" width="1" height="1" fill="#357ece"/>
<rect x="691.8" y="82.3" width="1" height="1" fill="#357ece"/>
<rect x="683.8" y="57.0" width="1" height="1" fill="#357ece"/>
<rect x="703.2" y="58.2" width="1" height="1" fill="#357fce"/>
<rect x="703.9" y="62.1" width="1" height="1" fill="#357fce"/>
<rect x="680.6" y="61.7" width="1" height="1" fill="#357fce"/>
<rect x="682.3" y="79.4" width="1" height="1" fill="#357fce"/>
<rect x="703.4" y="67.3" width="1" height="1" fill="#357fce"/>
<rect x="701.4" y="53.8" width="1" height="1" fill="#357fce"/>
<rect x="683.3" y="58.1" width="1" height="1" fill="#3580ce"/>
<rect x="697.1" y="49.3" width="1" height="1" fill="#3580ce"/>
<rect x="703.8" y="70.0" width="1" height="1" fill="#3580ce"/>
<rect x="689.7" y="51.8" width="1" height="1" fill="#3580ce"/>
<rect x="684.2" y="82.3" width="1" height="1" fill="#3580ce"/>
<rect x="686.9" y="83.8" width="1" height="1" fill="#3580ce"/>
<rect x="682.3" y="60.5" width="1" height="1" fill="#3580ce"/>
<rect x="691.6" y="81.7" width="1" height="1" fill="#3581ce"/>
<rect x="684.8" y="56.1" width="1" height="1" fill="#3581ce"/>
<rect x="688.5" y="51.9" width="1" height="1" fill="#3581ce"/>
<rect x="694.5" y="50.3" width="1" height="1" fill="#3581ce"/>
<rect x="704.1" y="64.8" width="1" height="1" fill="#3582ce"/>
<rect x="688.5" y="82.3" width="1" height="1" fill="#3582ce"/>
<rect x="702.4" y="55.3" width="1" height="1" fill="#3582ce"/>
<rect x="679.5" y="69.6" width="1" height="1" fill="#3583ce"/>
<rect x="694.5" y="82.4" width="1" height="1" fill="#3583ce"/>
<rect x="697.2" y="50.5" width="1" height="1" fill="#3583ce"/>
<rect x="697.0" y="51.2" width="1" height="1" fill="#3583ce"/>
<rect x="681.2" y="65.5" width="1" height="1" fill="#3583ce"/>
<rect x="687.6" y="81.3" width="1" height="1" fill="#3583ce"/>
<rect x="682.9" y="59.1" width="1" height="1" fill="#3583ce"/>
<rect x="703.6" y="63.5" width="1" height="1" fill="#3583ce"/>
<rect x="703.2" y="68.3" width="1" height="1" fill="#3583ce"/>
<rect x="699.6" y="53.9" width="1" height="1" fill="#3684cd"/>
<rect x="697.3" y="52.3" width="1" height="1" fill="#3684cd"/>
<rect x="704.0" y="68.0" width="1" height="1" fill="#3684cd"/>
<rect x="702.5" y="55.4" width="1" height="1" fill="#3684cd"/>
<rect x="690.6" y="82.9" width="1" height="1" fill="#3684cd"/>
<rect x="682.8" y="60.3" width="1" height="1" fill="#3684cd"/>
<rect x="683.9" y="81.2" width="1" height="1" fill="#3684cd"/>
<rect x="683.3" y="78.9" width="1" height="1" fill="#3684cd"/>
<rect x="691.0" y="82.7" width="1" height="1" fill="#3684cd"/>
<rect x="681.2" y="60.2" width="1" height="1" fill="#3684cd"/>
<rect x="688.4" y="82.1" width="1" height="1" fill="#3684cd"/>
<rect x="700.6" y="54.9" width="1" height="1" fill="#3684cd"/>
<rect x="701.4" y="53.1" width="1" height="1" fill="#3684cd"/>
<rect x="693.3" y="83.0" width="1" height="1" fill="#3685cd"/>
<rect x="703.0" y="57.5" width="1" height="1" fill="#3685cd"/>
<rect x="701.7" y="71.2" width="1" height="1" fill="#3685cd"/>
<rect x="682.8" y="61.0" width="1" height="1" fill="#3685cd"/>
<rect x="687.3" y="54.2" width="1" height="1" fill="#3685cd"/>
<rect x="684.7" y="56.1" width="1" height="1" fill="#3685cd"/>
<rect x="702.4" y="68.7" width="1" height="1" fill="#3685cd"/>
<rect x="703.4" y="59.3" width="1" height="1" fill="#3685cd"/>
<rect x="696.9" y="50.7" width="1" height="1" fill="#3685cd"/>
<rect x="693.5" y="50.9" width="1" height="1" fill="#3685cd"/>
<rect x="697.2" y="50.3" width="1" height="1" fill="#3686cd"/>
<rect x="681.8" y="77.1" width="1" height="1" fill="#3686cd"/>
<rect x="696.8" y="52.1" width="1" height="1" fill="#3686cd"/>
<rect x="689.2" y="51.5" width="1" height="1" fill="#3686cd"/>
<rect x="684.1" y="80.5" width="1" height="1" fill="#3686cd"/>
<rect x="685.1" y="55.9" width="1" height="1" fill="#3687cd"/>
<rect x="683.0" y="60.8" width="1" height="1" fill="#3687cd"/>
<rect x="701.2" y="75.0" width="1" height="1" fill="#3687cd"/>
<rect x="683.8" y="58.8" width="1" height="1" fill="#3687cd"/>
<rect x="680.8" y="66.6" width="1" height="1" fill="#3687cd"/>
<rect x="703.0" y="58.4" width="1" height="1" fill="#3687cd"/>
<rect x="680.7" y="68.8" width="1" height="1" fill="#3687cd"/>
<rect x="703.1" y="66.1" width="1" height="1" fill="#3687cd"/>
<rect x="682.3" y="58.7" width="1" height="1" fill="#3687cd"/>
<rect x="700.4" y="75.9" width="1" height="1" fill="#3687cd"/>
<rect x="696.4" y="50.8" width="1" height="1" fill="#3687cd"/>
<rect x="681.8" y="62.5" width="1" height="1" fill="#3687cd"/>
<rect x="682.7" y="78.8" width="1" height="1" fill="#3688cd"/>
<rect x="702.0" y="54.7" width="1" height="1" fill="#3688cd"/>
<rect x="684.6" y="80.7" width="1" height="1" fill="#3688cd"/>
<rect x="700.8" y="73.2" width="1" height="1" fill="#3688cd"/>
<rect x="698.1" y="52.6" width="1" height="1" fill="#3688cd"/>
<rect x="693.3" y="52.0" width="1" height="1" fill="#3688cd"/>
<rect x="702.8" y="57.2" width="1" height="1" fill="#3689cd"/>
<rect x="701.3" y="72.4" width="1" height="1" fill="#3689cd"/>
<rect x="685.4" y="54.9" width="1" height="1" fill="#3689cd"/>
<rect x="680.2" y="67.4" width="1" height="1" fill="#3689cd"/>
<rect x="682.1" y="60.8" width="1" height="1" fill="#3689cd"/>
<rect x="695.9" y="51.7" width="1" height="1" fill="#3689cd"/>
<rect x="689.3" y="83.3" width="1" height="1" fill="#3689cd"/>
<rect x="682.2" y="78.3" width="1" height="1" fill="#3789cc"/>
<rect x="690.1" y="81.6" width="1" height="1" fill="#3789cc"/>
<rect x="686.1" y="55.2" width="1" height="1" fill="#3789cc"/>
<rect x="692.0" y="51.8" width="1" height="1" fill="#3789cc"/>
<rect x="703.8" y="59.5" width="1" height="1" fill="#378acc"/>
<rect x="694.7" y="50.1" width="1" height="1" fill="#378acc"/>
<rect x="684.4" y="57.4" width="1" height="1" fill="#378acc"/>
<rect x="686.7" y="82.4" width="1" height="1" fill="#378acc"/>
<rect x="683.5" y="79.8" width="1" height="1" fill="#378acc"/>
<rect x="695.7" y="51.5" width="1" height="1" fill="#378acc"/>
<rect x="685.5" y="55.2" width="1" height="1" fill="#378acc"/>
<rect x="680.7" y="67.9" width="1" height="1" fill="#378acc"/>
<rect x="682.2" y="77.6" width="1" height="1" fill="#378bcc"/>
<rect x="681.5" y="75.4" width="1" height="1" fill="#378bcc"/>
<rect x="685.6" y="80.0" width="1" height="1" fill="#378bcc"/>
<rect x="699.4" y="77.0" width="1" height="1" fill="#378bcc"/>
<rect x="695.1" y="82.3" width="1" height="1" fill="#378bcc"/>
<rect x="702.4" y="61.0" width="1" height="1" fill="#378bcc"/>
<rect x="681.4" y="70.2" width="1" height="1" fill="#378bcc"/>
<rect x="701.0" y="57.1" width="1" height="1" fill="#378bcc"/>
<rect x="701.4" y="72.7" width="1" height="1" fill="#378bcc"/>
<rect x="697.1" y="52.4" width="1" height="1" fill="#378ccc"/>
<rect x="703.7" y="64.3" width="1" height="1" fill="#378ccc"/>
<rect x="683.8" y="59.7" width="1" height="1" fill="#378ccc"/>
<rect x="691.3" y="52.5" width="1" height="1" fill="#378ccc"/>
<rect x="683.4" y="79.5" width="1" height="1" fill="#378ccc"/>
<rect x="704.0" y="62.7" width="1" height="1" fill="#378ccc"/>
<rect x="702.0" y="68.9" width="1" height="1" fill="#378ccc"/>
<rect x="703.2" y="68.1" width="1" height="1" fill="#378dcc"/>
<rect x="686.8" y="81.8" width="1" height="1" fill="#378dcc"/>
<rect x="684.6" y="56.8" width="1" height="1" fill="#378dcc"/>
<rect x="682.7" y="59.0" width="1" height="1" fill="#378dcc"/>
<rect x="680.3" y="72.0" width="1" height="1" fill="#378dcc"/>
<rect x="692.9" y="52.1" width="1" height="1" fill="#378dcc"/>
<rect x="702.6" y="67.2" width="1" height="1" fill="#378dcc"/>
<rect x="684.7" y="56.8" width="1" height="1" fill="#378ecc"/>
<rect x="680.4" y="65.7" width="1" height="1" fill="#388fcb"/>
<rect x="690.0" y="82.1" width="1" height="1" fill="#388fcb"/>
<rect x="681.3" y="70.8" width="1" height="1" fill="#388fcb"/>
<rect x="681.0" y="74.7" width="1" height="1" fill="#388fcb"/>
<rect x="699.8" y="53.4" width="1" height="1" fill="#388fcb"/>
<rect x="697.0" y="51.4" width="1" height="1" fill="#388fcb"/>
<rect x="681.1" y="65.3" width="1" height="1" fill="#388fcb"/>
<rect x="680.8" y="71.9" width="1" height="1" fill="#388fcb"/>
<rect x="681.2" y="65.6" width="1" height="1" fill="#388fcb"/>
<rect x="681.7" y="75.0" width="1" height="1" fill="#3890cb"/>
<rect x="687.7" y="81.9" width="1" height="1" fill="#3890cb"/>
<rect x="687.2" y="55.1" width="1" height="1" fill="#3890cb"/>
<rect x="681.8" y="72.5" width="1" height="1" fill="#3890cb"/>
<rect x="690.9" y="52.5" width="1" height="1" fill="#3890cb"/>
<rect x="691.6" y="52.3" width="1" height="1" fill="#3890cb"/>
<rect x="683.0" y="78.5" width="1" height="1" fill="#3891cb"/>
<rect x="687.1" y="55.2" width="1" height="1" fill="#3891cb"/>
<rect x="681.4" y="68.0" width="1" height="1" fill="#3891cb"/>
<rect x="696.0" y="51.6" width="1" height="1" fill="#3891cb"/>
<rect x="683.7" y="59.5" width="1" height="1" fill="#3891cb"/>
<rect x="680.9" y="67.9" width="1" height="1" fill="#3891cb"/>
<rect x="701.8" y="69.7" width="1" height="1" fill="#3891cb"/>
<rect x="702.4" y="70.6" width="1" height="1" fill="#3892cb"/>
<rect x="690.5" y="51.5" width="1" height="1" fill="#3892cb"/>
<rect x="689.6" y="81.3" width="1" height="1" fill="#3892cb"/>
<rect x="685.2" y="56.9" width="1" height="1" fill="#3892cb"/>
<rect x="685.8" y="81.3" width="1" height="1" fill="#3892cb"/>
<rect x="684.9" y="57.7" width="1" height="1" fill="#3892cb"/>
<rect x="689.8" y="81.5" width="1" height="1" fill="#3893cb"/>
<rect x="693.0" y="51.8" width="1" height="1" fill="#3893cb"/>
<rect x="703.1" y="67.1" width="1" height="1" fill="#3893cb"/>
<rect x="698.2" y="52.1" width="1" height="1" fill="#3893cb"/>
<rect x="682.1" y="65.4" width="1" height="1" fill="#3893cb"/>
<rect x="684.2" y="77.6" width="1" height="1" fill="#3894cb"/>
<rect x="683.9" y="78.7" width="1" height="1" fill="#3994ca"/>
<rect x="695.2" y="51.7" width="1" height="1" fill="#3994ca"/>
<rect x="682.3" y="63.4" width="1" height="1" fill="#3994ca"/>
<rect x="694.8" y="52.3" width="1" height="1" fill="#3994ca"/>
<rect x="690.0" y="52.4" width="1" height="1" fill="#3995ca"/>
<rect x="702.2" y="57.2" width="1" height="1" fill="#3995ca"/>
<rect x="683.4" y="61.2" width="1" height="1" fill="#3995ca"/>
<rect x="693.2" y="52.7" width="1" height="1" fill="#3995ca"/>
<rect x="685.1" y="57.3" width="1" height="1" fill="#3995ca"/>
<rect x="689.9" y="80.7" width="1" height="1" fill="#3995ca"/>
<rect x="702.8" y="62.1" width="1" height="1" fill="#3995ca"/>
<rect x="682.2" y="74.1" width="1" height="1" fill="#3995ca"/>
<rect x="683.5" y="58.3" width="1" height="1" fill="#3995ca"/>
<rect x="682.0" y="66.0" width="1" height="1" fill="#3996ca"/>
<rect x="701.9" y="61.8" width="1" height="1" fill="#3996ca"/>
<rect x="702.8" y="63.0" width="1" height="1" fill="#3996ca"/>
<rect x="702.5" y="60.5" width="1" height="1" fill="#3997ca"/>
<rect x="698.9" y="54.6" width="1" height="1" fill="#3997ca"/>
<rect x="702.3" y="58.5" width="1" height="1" fill="#3997ca"/>
<rect x="700.6" y="57.9" width="1" height="1" fill="#3998ca"/>
<rect x="691.2" y="51.4" width="1" height="1" fill="#3998ca"/>
<rect x="691.0" y="81.9" width="1" height="1" fill="#3998ca"/>
<rect x="702.5" y="60.8" width="1" height="1" fill="#3998ca"/>
<rect x="689.5" y="54.1" width="1" height="1" fill="#3998ca"/>
<rect x="693.1" y="81.5" width="1" height="1" fill="#3999ca"/>
<rect x="689.2" y="80.4" width="1" height="1" fill="#3999ca"/>
<rect x="691.1" y="52.7" width="1" height="1" fill="#3999ca"/>
<rect x="695.4" y="81.5" width="1" height="1" fill="#3999ca"/>
<rect x="684.0" y="59.6" width="1" height="1" fill="#3999ca"/>
<rect x="701.6" y="71.6" width="1" height="1" fill="#3a9ac9"/>
<rect x="702.6" y="68.1" width="1" height="1" fill="#3a9ac9"/>
<rect x="703.3" y="62.8" width="1" height="1" fill="#3a9ac9"/>
<rect x="686.0" y="57.6" width="1" height="1" fill="#3a9ac9"/>
<rect x="686.1" y="79.4" width="1" height="1" fill="#3a9ac9"/>
<rect x="701.8" y="60.5" width="1" height="1" fill="#3a9ac9"/>
<rect x="702.0" y="66.4" width="1" height="1" fill="#3a9ac9"/>
<rect x="684.1" y="60.1" width="1" height="1" fill="#3a9bc9"/>
<rect x="694.1" y="51.7" width="1" height="1" fill="#3a9bc9"/>
<rect x="685.1" y="78.7" width="1" height="1" fill="#3a9bc9"/>
<rect x="682.3" y="68.4" width="1" height="1" fill="#3a9bc9"/>
<rect x="701.4" y="58.8" width="1" height="1" fill="#3a9bc9"/>
<rect x="688.8" y="81.3" width="1" height="1" fill="#3a9bc9"/>
<rect x="685.7" y="79.6" width="1" height="1" fill="#3a9bc9"/>
<rect x="696.7" y="53.5" width="1" height="1" fill="#3a9bc9"/>
<rect x="682.6" y="63.0" width="1" height="1" fill="#3a9bc9"/>
<rect x="686.3" y="56.1" width="1" height="1" fill="#3a9bc9"/>
<rect x="688.3" y="79.8" width="1" height="1" fill="#3a9bc9"/>
<rect x="698.6" y="54.8" width="1" height="1" fill="#3a9bc9"/>
<rect x="702.5" y="65.2" width="1" height="1" fill="#3a9bc9"/>
<rect x="690.0" y="80.5" width="1" height="1" fill="#3a9bc9"/>
<rect x="701.3" y="72.2" width="1" height="1" fill="#3a9cc9"/>
<rect x="696.1" y="51.8" width="1" height="1" fill="#3a9cc9"/>
<rect x="690.6" y="80.6" width="1" height="1" fill="#3a9cc9"/>
<rect x="695.9" y="53.6" width="1" height="1" fill="#3a9cc9"/>
<rect x="699.3" y="55.1" width="1" height="1" fill="#3a9cc9"/>
<rect x="701.1" y="56.9" width="1" height="1" fill="#3a9cc9"/>
<rect x="699.8" y="74.5" width="1" height="1" fill="#3a9cc9"/>
<rect x="682.3" y="64.6" width="1" height="1" fill="#3a9cc9"/>
<rect x="691.3" y="53.7" width="1" height="1" fill="#3a9dc9"/>
<rect x="691.2" y="81.5" width="1" height="1" fill="#3a9dc9"/>
<rect x="686.4" y="55.1" width="1" height="1" fill="#3a9dc9"/>
<rect x="696.8" y="52.4" width="1" height="1" fill="#3a9dc9"/>
<rect x="700.8" y="69.5" width="1" height="1" fill="#3a9dc9"/>
<rect x="682.4" y="66.3" width="1" height="1" fill="#3a9dc9"/>
<rect x="685.4" y="78.0" width="1" height="1" fill="#3a9dc9"/>
<rect x="701.3" y="56.2" width="1" height="1" fill="#3a9dc9"/>
<rect x="681.9" y="63.9" width="1" height="1" fill="#3a9dc9"/>
<rect x="685.7" y="78.3" width="1" height="1" fill="#3a9dc9"/>
<rect x="698.9" y="55.6" width="1" height="1" fill="#3a9dc9"/>
<rect x="681.2" y="72.9" width="1" height="1" fill="#3a9dc9"/>
<rect x="690.3" y="79.7" width="1" height="1" fill="#3a9ec9"/>
<rect x="688.8" y="54.7" width="1" height="1" fill="#3a9ec9"/>
<rect x="700.5" y="73.2" width="1" height="1" fill="#3a9ec9"/>
<rect x="689.3" y="81.1" width="1" height="1" fill="#3a9fc9"/>
<rect x="684.8" y="79.3" width="1" height="1" fill="#3a9fc9"/>
<rect x="687.0" y="79.9" width="1" height="1" fill="#3a9fc9"/>
<rect x="681.0" y="70.3" width="1" height="1" fill="#3a9fc9"/>
<rect x="696.4" y="52.6" width="1" height="1" fill="#3a9fc9"/>
<rect x="681.4" y="66.1" width="1" height="1" fill="#3a9fc9"/>
<rect x="689.5" y="54.6" width="1" height="1" fill="#3a9fc9"/>
<rect x="687.5" y="80.2" width="1" height="1" fill="#3a9fc9"/>
<rect x="683.9" y="77.6" width="1" height="1" fill="#3b9fc8"/>
<rect x="699.9" y="74.7" width="1" height="1" fill="#3b9fc8"/>
<rect x="702.7" y="64.6" width="1" height="1" fill="#3ba0c8"/>
<rect x="701.9" y="68.0" width="1" height="1" fill="#3ba0c8"/>
<rect x="700.9" y="72.8" width="1" height="1" fill="#3ba0c8"/>
<rect x="685.3" y="59.2" width="1" height="1" fill="#3ba0c8"/>
<rect x="688.8" y="81.7" width="1" height="1" fill="#3ba0c8"/>
<rect x="702.3" y="69.2" width="1" height="1" fill="#3ba0c8"/>
<rect x="687.4" y="81.0" width="1" height="1" fill="#3ba0c8"/>
<rect x="692.6" y="53.0" width="1" height="1" fill="#3ba0c8"/>
<rect x="682.2" y="69.7" width="1" height="1" fill="#3ba0c8"/>
<rect x="686.0" y="79.9" width="1" height="1" fill="#3ba1c8"/>
<rect x="684.8" y="78.7" width="1" height="1" fill="#3ba1c8"/>
<rect x="691.4" y="53.5" width="1" height="1" fill="#3ba1c8"/>
<rect x="683.2" y="62.0" width="1" height="1" fill="#3ba2c8"/>
<rect x="683.4" y="60.6" width="1" height="1" fill="#3ba2c8"/>
<rect x="686.9" y="78.9" width="1" height="1" fill="#3ba2c8"/>
<rect x="701.3" y="66.0" width="1" height="1" fill="#3ba2c8"/>
<rect x="683.9" y="78.2" width="1" height="1" fill="#3ba2c8"/>
<rect x="694.7" y="52.0" width="1" height="1" fill="#3ba2c8"/>
<rect x="683.6" y="63.1" width="1" height="1" fill="#3ba2c8"/>
<rect x="692.0" y="52.6" width="1" height="1" fill="#3ba2c8"/>
<rect x="685.3" y="79.3" width="1" height="1" fill="#3ba3c8"/>
<rect x="695.9" y="81.5" width="1" height="1" fill="#3ba3c8"/>
<rect x="684.0" y="61.4" width="1" height="1" fill="#3ba3c8"/>
<rect x="700.7" y="57.2" width="1" height="1" fill="#3ba3c8"/>
<rect x="701.6" y="67.2" width="1" height="1" fill="#3ba3c8"/>
<rect x="691.1" y="52.8" width="1" height="1" fill="#3ba3c8"/>
<rect x="684.1" y="75.0" width="1" height="1" fill="#3ba3c8"/>
<rect x="684.6" y="76.6" width="1" height="1" fill="#3ba3c8"/>
<rect x="693.8" y="81.7" width="1" height="1" fill="#3ba3c8"/>
<rect x="702.2" y="68.5" width="1" height="1" fill="#3ba4c8"/>
<rect x="698.2" y="78.9" width="1" height="1" fill="#3ba4c8"/>
<rect x="684.8" y="79.3" width="1" height="1" fill="#3ba4c8"/>
<rect x="687.5" y="55.8" width="1" height="1" fill="#3ba4c8"/>
<rect x="682.1" y="70.8" width="1" height="1" fill="#3ba4c8"/>
<rect x="701.2" y="66.0" width="1" height="1" fill="#3ba4c8"/>
<rect x="701.9" y="67.9" width="1" height="1" fill="#3ba4c8"/>
<rect x="690.8" y="80.0" width="1" height="1" fill="#3ba4c8"/>
<rect x="701.2" y="59.2" width="1" height="1" fill="#3ba4c8"/>
<rect x="698.1" y="53.7" width="1" height="1" fill="#3ba4c8"/>
<rect x="681.7" y="64.7" width="1" height="1" fill="#3ca5c7"/>
<rect x="690.7" y="80.3" width="1" height="1" fill="#3ca5c7"/>
<rect x="697.9" y="55.7" width="1" height="1" fill="#3ca5c7"/>
<rect x="684.7" y="77.7" width="1" height="1" fill="#3ca5c6"/>
<rect x="683.1" y="69.8" width="1" height="1" fill="#3ca5c6"/>
<rect x="685.8" y="59.7" width="1" height="1" fill="#3ca5c6"/>
<rect x="702.2" y="68.4" width="1" height="1" fill="#3ca5c6"/>
<rect x="683.6" y="76.7" width="1" height="1" fill="#3ca5c5"/>
<rect x="700.9" y="69.4" width="1" height="1" fill="#3ca5c5"/>
<rect x="686.1" y="79.8" width="1" height="1" fill="#3da5c3"/>
<rect x="683.9" y="61.0" width="1" height="1" fill="#3da5c3"/>
<rect x="682.9" y="65.8" width="1" height="1" fill="#3da5c3"/>
<rect x="702.3" y="62.1" width="1" height="1" fill="#3da5c3"/>
<rect x="687.8" y="57.1" width="1" height="1" fill="#3da5c3"/>
<rect x="684.5" y="62.0" width="1" height="1" fill="#3da6c2"/>
<rect x="688.8" y="78.3" width="1" height="1" fill="#3da6c2"/>
<rect x="687.2" y="80.5" width="1" height="1" fill="#3ea6c1"/>
<rect x="690.6" y="80.6" width="1" height="1" fill="#3ea6c1"/>
<rect x="695.1" y="55.0" width="1" height="1" fill="#3ea6c1"/>
<rect x="701.7" y="61.2" width="1" height="1" fill="#3ea6c1"/>
<rect x="684.3" y="74.2" width="1" height="1" fill="#3ea6c0"/>
<rect x="686.1" y="59.5" width="1" height="1" fill="#3ea6c0"/>
<rect x="682.9" y="69.6" width="1" height="1" fill="#3ea6c0"/>
<rect x="688.6" y="54.8" width="1" height="1" fill="#3ea6c0"/>
<rect x="699.1" y="56.3" width="1" height="1" fill="#3ea6c0"/>
<rect x="689.0" y="79.1" width="1" height="1" fill="#3ea6bf"/>
<rect x="686.1" y="76.7" width="1" height="1" fill="#3ea6bf"/>
<rect x="700.7" y="61.0" width="1" height="1" fill="#3ea6bf"/>
<rect x="684.4" y="74.5" width="1" height="1" fill="#3fa6be"/>
<rect x="701.2" y="58.3" width="1" height="1" fill="#3fa6be"/>
<rect x="692.8" y="54.7" width="1" height="1" fill="#3fa6be"/>
<rect x="689.8" y="55.5" width="1" height="1" fill="#3fa6be"/>
<rect x="686.6" y="56.8" width="1" height="1" fill="#3fa6be"/>
<rect x="685.1" y="60.0" width="1" height="1" fill="#3fa6bd"/>
<rect x="696.0" y="55.6" width="1" height="1" fill="#3fa6bd"/>
<rect x="701.8" y="65.9" width="1" height="1" fill="#3fa6bd"/>
<rect x="698.7" y="57.4" width="1" height="1" fill="#3fa7bd"/>
<rect x="697.4" y="55.9" width="1" height="1" fill="#3fa7bc"/>
<rect x="682.5" y="65.9" width="1" height="1" fill="#40a7bb"/>
<rect x="685.8" y="77.1" width="1" height="1" fill="#40a7bb"/>
<rect x="694.6" y="81.2" width="1" height="1" fill="#40a7bb"/>
<rect x="700.8" y="70.2" width="1" height="1" fill="#40a7bb"/>
<rect x="698.9" y="57.9" width="1" height="1" fill="#40a7ba"/>
<rect x="684.7" y="76.0" width="1" height="1" fill="#40a7ba"/>
<rect x="700.5" y="70.5" width="1" height="1" fill="#40a7ba"/>
<rect x="688.4" y="79.0" width="1" height="1" fill="#40a7ba"/>
<rect x="701.9" y="68.5" width="1" height="1" fill="#40a7b9"/>
<rect x="691.3" y="52.9" width="1" height="1" fill="#40a7b9"/>
<rect x="700.5" y="67.0" width="1" height="1" fill="#40a7b9"/>
<rect x="696.5" y="54.9" width="1" height="1" fill="#40a7b9"/>
<rect x="684.1" y="75.9" width="1" height="1" fill="#40a7b9"/>
<rect x="687.3" y="80.3" width="1" height="1" fill="#40a7b9"/>
<rect x="683.3" y="74.3" width="1" height="1" fill="#40a7b9"/>
<rect x="682.9" y="69.2" width="1" height="1" fill="#40a7b9"/>
<rect x="684.1" y="62.0" width="1" height="1" fill="#41a7b8"/>
<rect x="700.4" y="68.7" width="1" height="1" fill="#41a7b8"/>
<rect x="695.7" y="81.0" width="1" height="1" fill="#41a7b8"/>
<rect x="683.1" y="67.3" width="1" height="1" fill="#41a7b8"/>
<rect x="687.9" y="77.1" width="1" height="1" fill="#41a8b8"/>
<rect x="694.4" y="55.3" width="1" height="1" fill="#41a8b7"/>
<rect x="684.1" y="75.1" width="1" height="1" fill="#41a8b7"/>
<rect x="689.7" y="54.0" width="1" height="1" fill="#41a8b7"/>
<rect x="698.2" y="57.5" width="1" height="1" fill="#41a8b7"/>
<rect x="698.9" y="77.7" width="1" height="1" fill="#41a8b6"/>
<rect x="699.3" y="55.6" width="1" height="1" fill="#41a8b6"/>
<rect x="700.0" y="59.9" width="1" height="1" fill="#41a8b6"/>
<rect x="683.8" y="68.7" width="1" height="1" fill="#41a8b6"/>
<rect x="695.5" y="53.0" width="1" height="1" fill="#41a8b6"/>
<rect x="686.4" y="57.1" width="1" height="1" fill="#41a8b6"/>
<rect x="690.4" y="79.9" width="1" height="1" fill="#42a8b5"/>
<rect x="699.3" y="60.3" width="1" height="1" fill="#42a8b5"/>
<rect x="700.6" y="66.1" width="1" height="1" fill="#42a8b4"/>
<rect x="687.2" y="58.6" width="1" height="1" fill="#42a8b4"/>
<rect x="682.1" y="67.2" width="1" height="1" fill="#42a8b4"/>
<rect x="685.5" y="74.9" width="1" height="1" fill="#42a8b4"/>
<rect x="700.3" y="69.1" width="1" height="1" fill="#42a8b3"/>
<rect x="687.7" y="55.4" width="1" height="1" fill="#42a8b3"/>
<rect x="684.0" y="60.2" width="1" height="1" fill="#43a9b2"/>
<rect x="694.8" y="53.3" width="1" height="1" fill="#43a9b2"/>
<rect x="700.5" y="65.1" width="1" height="1" fill="#43a9b2"/>
<rect x="701.2" y="68.2" width="1" height="1" fill="#43a9b2"/>
<rect x="694.9" y="55.7" width="1" height="1" fill="#43a9b1"/>
<rect x="694.4" y="56.1" width="1" height="1" fill="#43a9b1"/>
<rect x="699.7" y="57.6" width="1" height="1" fill="#43a9b1"/>
<rect x="686.2" y="76.7" width="1" height="1" fill="#43a9b1"/>
<rect x="692.0" y="80.6" width="1" height="1" fill="#43a9b1"/>
<rect x="695.5" y="53.9" width="1" height="1" fill="#43a9b0"/>
<rect x="685.3" y="62.4" width="1" height="1" fill="#43a9b0"/>
<rect x="691.6" y="55.5" width="1" height="1" fill="#43a9b0"/>
<rect x="700.7" y="57.7" width="1" height="1" fill="#43a9b0"/>
<rect x="691.8" y="54.6" width="1" height="1" fill="#43a9b0"/>
<rect x="684.5" y="59.2" width="1" height="1" fill="#43a9b0"/>
<rect x="686.2" y="57.0" width="1" height="1" fill="#43a9b0"/>
<rect x="691.9" y="53.3" width="1" height="1" fill="#44a9af"/>
<rect x="682.7" y="71.0" width="1" height="1" fill="#44a9af"/>
<rect x="684.9" y="62.5" width="1" height="1" fill="#44a9af"/>
<rect x="701.3" y="63.2" width="1" height="1" fill="#44a9af"/>
<rect x="686.9" y="59.2" width="1" height="1" fill="#44a9af"/>
<rect x="684.6" y="66.0" width="1" height="1" fill="#44a9af"/>
<rect x="698.4" y="58.7" width="1" height="1" fill="#44a9ae"/>
<rect x="692.6" y="54.7" width="1" height="1" fill="#44a9ae"/>
<rect x="696.7" y="53.4" width="1" height="1" fill="#44a9ae"/>
<rect x="683.2" y="75.8" width="1" height="1" fill="#44a9ae"/>
<rect x="690.7" y="79.5" width="1" height="1" fill="#44a9ae"/>
<rect x="685.2" y="61.4" width="1" height="1" fill="#44a9ae"/>
<rect x="684.4" y="71.4" width="1" height="1" fill="#44a9ad"/>
<rect x="684.5" y="75.4" width="1" height="1" fill="#44aaad"/>
<rect x="691.0" y="56.2" width="1" height="1" fill="#44aaad"/>
<rect x="699.9" y="64.2" width="1" height="1" fill="#44aaad"/>
<rect x="702.0" y="62.4" width="1" height="1" fill="#45aaac"/>
<rect x="684.3" y="69.9" width="1" height="1" fill="#45aaac"/>
<rect x="683.7" y="70.7" width="1" height="1" fill="#45aaac"/>
<rect x="690.2" y="53.6" width="1" height="1" fill="#45aaac"/>
<rect x="701.1" y="64.4" width="1" height="1" fill="#45aaac"/>
<rect x="684.6" y="66.0" width="1" height="1" fill="#45aaac"/>
<rect x="689.9" y="54.4" width="1" height="1" fill="#45aaab"/>
<rect x="683.2" y="73.5" width="1" height="1" fill="#45aaab"/>
<rect x="692.3" y="55.9" width="1" height="1" fill="#45aaab"/>
<rect x="699.9" y="57.9" width="1" height="1" fill="#45aaab"/>
<rect x="699.4" y="62.5" width="1" height="1" fill="#45aaab"/>
<rect x="698.5" y="55.9" width="1" height="1" fill="#45aaaa"/>
<rect x="683.5" y="69.5" width="1" height="1" fill="#45aaaa"/>
<rect x="698.5" y="55.5" width="1" height="1" fill="#46aaa9"/>
<rect x="687.5" y="77.4" width="1" height="1" fill="#46aaa9"/>
<rect x="689.1" y="79.7" width="1" height="1" fill="#46aaa9"/>
<rect x="684.8" y="60.3" width="1" height="1" fill="#46aaa8"/>
<rect x="689.8" y="78.2" width="1" height="1" fill="#46aba8"/>
<rect x="700.9" y="61.1" width="1" height="1" fill="#46aba7"/>
<rect x="686.4" y="75.1" width="1" height="1" fill="#46aba7"/>
<rect x="686.2" y="78.6" width="1" height="1" fill="#46aba7"/>
<rect x="694.3" y="81.6" width="1" height="1" fill="#47aba6"/>
<rect x="685.3" y="73.3" width="1" height="1" fill="#47aba6"/>
<rect x="700.8" y="69.8" width="1" height="1" fill="#47aba5"/>
<rect x="701.7" y="66.0" width="1" height="1" fill="#47aba5"/>
<rect x="689.8" y="78.7" width="1" height="1" fill="#47aba5"/>
<rect x="686.7" y="58.4" width="1" height="1" fill="#47aba5"/>
<rect x="701.0" y="61.7" width="1" height="1" fill="#47aba5"/>
<rect x="687.7" y="77.9" width="1" height="1" fill="#47aba5"/>
<rect x="693.3" y="53.8" width="1" height="1" fill="#47aba4"/>
<rect x="693.6" y="55.8" width="1" height="1" fill="#47aba4"/>
<rect x="684.5" y="66.2" width="1" height="1" fill="#47aba4"/>
<rect x="685.4" y="73.9" width="1" height="1" fill="#47aba4"/>
<rect x="692.5" y="54.3" width="1" height="1" fill="#47aba4"/>
<rect x="700.4" y="65.5" width="1" height="1" fill="#47aba4"/>
<rect x="685.9" y="74.1" width="1" height="1" fill="#47aba4"/>
<rect x="684.6" y="77.2" width="1" height="1" fill="#47aba4"/>
<rect x="685.1" y="77.8" width="1" height="1" fill="#47aba4"/>
<rect x="698.0" y="56.9" width="1" height="1" fill="#48aba3"/>
<rect x="696.4" y="53.7" width="1" height="1" fill="#48aba3"/>
<rect x="701.2" y="66.5" width="1" height="1" fill="#48aba3"/>
<rect x="700.2" y="60.8" width="1" height="1" fill="#48aba3"/>
<rect x="688.9" y="55.9" width="1" height="1" fill="#48aba3"/>
<rect x="699.8" y="69.3" width="1" height="1" fill="#48aca3"/>
<rect x="695.1" y="80.9" width="1" height="1" fill="#48aca2"/>
<rect x="686.2" y="62.4" width="1" height="1" fill="#48aca2"/>
<rect x="687.9" y="75.9" width="1" height="1" fill="#48aca2"/>
<rect x="697.0" y="55.2" width="1" height="1" fill="#48aca2"/>
<rect x="699.4" y="59.2" width="1" height="1" fill="#48aca2"/>
<rect x="696.3" y="58.0" width="1" height="1" fill="#48aca2"/>
<rect x="691.4" y="57.3" width="1" height="1" fill="#48aca2"/>
<rect x="693.0" y="55.2" width="1" height="1" fill="#48aca2"/>
<rect x="701.4" y="64.5" width="1" height="1" fill="#48aca2"/>
<rect x="682.9" y="71.5" width="1" height="1" fill="#48aca2"/>
<rect x="683.0" y="69.0" width="1" height="1" fill="#48aca2"/>
<rect x="692.2" y="54.3" width="1" height="1" fill="#48aca2"/>
<rect x="698.8" y="57.0" width="1" height="1" fill="#48aca1"/>
<rect x="693.9" y="53.8" width="1" height="1" fill="#48aca1"/>
<rect x="699.0" y="58.1" width="1" height="1" fill="#48aca1"/>
<rect x="685.0" y="72.9" width="1" height="1" fill="#48aca1"/>
<rect x="688.5" y="58.6" width="1" height="1" fill="#49aca0"/>
<rect x="699.1" y="66.5" width="1" height="1" fill="#49aca0"/>
<rect x="699.1" y="61.4" width="1" height="1" fill="#49aca0"/>
<rect x="691.2" y="56.5" width="1" height="1" fill="#49aca0"/>
<rect x="686.9" y="75.1" width="1" height="1" fill="#49aca0"/>
<rect x="696.5" y="56.0" width="1" height="1" fill="#49aca0"/>
<rect x="686.8" y="61.8" width="1" height="1" fill="#49aca0"/>
<rect x="696.5" y="80.5" width="1" height="1" fill="#49ac9f"/>
<rect x="688.7" y="75.5" width="1" height="1" fill="#49ac9e"/>
<rect x="698.3" y="56.2" width="1" height="1" fill="#49ac9e"/>
<rect x="687.0" y="75.8" width="1" height="1" fill="#49ac9e"/>
<rect x="688.3" y="57.1" width="1" height="1" fill="#49ac9e"/>
<rect x="701.6" y="64.1" width="1" height="1" fill="#49ac9e"/>
<rect x="698.9" y="62.1" width="1" height="1" fill="#49ac9e"/>
<rect x="696.5" y="57.1" width="1" height="1" fill="#4aad9d"/>
<rect x="697.9" y="57.6" width="1" height="1" fill="#4aad9d"/>
<rect x="686.8" y="74.5" width="1" height="1" fill="#4aad9d"/>
<rect x="690.7" y="78.9" width="1" height="1" fill="#4aad9d"/>
<rect x="692.1" y="54.1" width="1" height="1" fill="#4aad9d"/>
<rect x="692.9" y="56.9" width="1" height="1" fill="#4aad9d"/>
<rect x="696.6" y="57.6" width="1" height="1" fill="#4aad9d"/>
<rect x="695.0" y="57.9" width="1" height="1" fill="#4aad9c"/>
<rect x="685.3" y="60.2" width="1" height="1" fill="#4aad9c"/>
<rect x="688.5" y="55.4" width="1" height="1" fill="#4aad9c"/>
<rect x="686.7" y="76.7" width="1" height="1" fill="#4aad9c"/>
<rect x="692.7" y="57.2" width="1" height="1" fill="#4aad9b"/>
<rect x="696.5" y="57.4" width="1" height="1" fill="#4aad9b"/>
<rect x="700.1" y="67.2" width="1" height="1" fill="#4aad9b"/>
<rect x="689.4" y="78.6" width="1" height="1" fill="#4bad9a"/>
<rect x="700.3" y="64.6" width="1" height="1" fill="#4bad9a"/>
<rect x="700.5" y="59.4" width="1" height="1" fill="#4bad9a"/>
<rect x="688.7" y="56.4" width="1" height="1" fill="#4bad99"/>
<rect x="691.1" y="57.0" width="1" height="1" fill="#4bad99"/>
<rect x="685.3" y="68.1" width="1" height="1" fill="#4bad99"/>
<rect x="688.2" y="59.1" width="1" height="1" fill="#4bad99"/>
<rect x="685.0" y="69.1" width="1" height="1" fill="#4bad99"/>
<rect x="683.0" y="73.7" width="1" height="1" fill="#4bad99"/>
<rect x="685.7" y="59.0" width="1" height="1" fill="#4bad99"/>
<rect x="691.2" y="57.2" width="1" height="1" fill="#4bad98"/>
<rect x="687.5" y="57.2" width="1" height="1" fill="#4bae98"/>
<rect x="689.8" y="78.6" width="1" height="1" fill="#4cae97"/>
<rect x="700.2" y="67.6" width="1" height="1" fill="#4cae97"/>
<rect x="699.6" y="68.6" width="1" height="1" fill="#4cae97"/>
<rect x="690.0" y="77.9" width="1" height="1" fill="#4cae97"/>
<rect x="685.4" y="75.2" width="1" height="1" fill="#4cae96"/>
<rect x="684.7" y="73.6" width="1" height="1" fill="#4cae96"/>
<rect x="693.4" y="57.1" width="1" height="1" fill="#4cae95"/>
<rect x="698.6" y="64.8" width="1" height="1" fill="#4cae95"/>
<rect x="686.4" y="61.6" width="1" height="1" fill="#4cae95"/>
<rect x="686.8" y="73.2" width="1" height="1" fill="#4cae95"/>
<rect x="688.0" y="59.6" width="1" height="1" fill="#4cae95"/>
<rect x="682.7" y="67.2" width="1" height="1" fill="#4cae95"/>
<rect x="692.9" y="56.7" width="1" height="1" fill="#4dae94"/>
<rect x="698.4" y="78.2" width="1" height="1" fill="#4dae94"/>
<rect x="685.9" y="72.0" width="1" height="1" fill="#4dae94"/>
<rect x="698.9" y="67.2" width="1" height="1" fill="#4dae94"/>
<rect x="689.8" y="76.8" width="1" height="1" fill="#4dae94"/>
<rect x="683.2" y="66.2" width="1" height="1" fill="#4dae94"/>
<rect x="683.5" y="68.5" width="1" height="1" fill="#4dae94"/>
<rect x="682.8" y="69.4" width="1" height="1" fill="#4dae93"/>
<rect x="697.4" y="55.9" width="1" height="1" fill="#4dae93"/>
<rect x="686.5" y="63.1" width="1" height="1" fill="#4dae93"/>
<rect x="689.0" y="74.7" width="1" height="1" fill="#4daf93"/>
<rect x="698.7" y="59.1" width="1" height="1" fill="#4daf93"/>
<rect x="694.1" y="55.6" width="1" height="1" fill="#4daf92"/>
<rect x="685.1" y="63.9" width="1" height="1" fill="#4daf92"/>
<rect x="689.1" y="57.8" width="1" height="1" fill="#4daf92"/>
<rect x="685.8" y="63.3" width="1" height="1" fill="#4daf92"/>
<rect x="688.4" y="59.0" width="1" height="1" fill="#4daf92"/>
<rect x="697.4" y="54.9" width="1" height="1" fill="#4eaf91"/>
<rect x="696.2" y="56.3" width="1" height="1" fill="#4eaf91"/>
<rect x="689.1" y="58.4" width="1" height="1" fill="#4eaf91"/>
<rect x="696.2" y="59.2" width="1" height="1" fill="#4eaf91"/>
<rect x="695.6" y="81.0" width="1" height="1" fill="#4eaf91"/>
<rect x="700.7" y="68.9" width="1" height="1" fill="#4eaf91"/>
<rect x="693.7" y="54.4" width="1" height="1" fill="#4eaf91"/>
<rect x="689.1" y="59.9" width="1" height="1" fill="#4eaf91"/>
<rect x="687.8" y="59.3" width="1" height="1" fill="#4eaf90"/>
<rect x="682.8" y="66.2" width="1" height="1" fill="#4eaf90"/>
<rect x="686.7" y="67.4" width="1" height="1" fill="#4eaf90"/>
<rect x="686.7" y="77.8" width="1" height="1" fill="#4eaf90"/>
<rect x="684.9" y="75.6" width="1" height="1" fill="#4eaf90"/>
<rect x="689.6" y="55.1" width="1" height="1" fill="#4eaf8f"/>
<rect x="683.8" y="69.7" width="1" height="1" fill="#4eaf8f"/>
<rect x="700.4" y="64.6" width="1" height="1" fill="#4eaf8f"/>
<rect x="688.3" y="78.0" width="1" height="1" fill="#4eaf8f"/>
<rect x="688.0" y="62.9" width="1" height="1" fill="#4eaf8f"/>
<rect x="694.2" y="54.6" width="1" height="1" fill="#4eaf8f"/>
<rect x="698.1" y="60.2" width="1" height="1" fill="#4faf8e"/>
<rect x="698.1" y="61.9" width="1" height="1" fill="#4faf8e"/>
<rect x="698.0" y="57.9" width="1" height="1" fill="#4fb08e"/>
<rect x="698.2" y="64.9" width="1" height="1" fill="#4fb08d"/>
<rect x="687.2" y="77.2" width="1" height="1" fill="#4fb08d"/>
<rect x="685.0" y="70.6" width="1" height="1" fill="#4fb08d"/>
<rect x="701.1" y="64.0" width="1" height="1" fill="#4fb08d"/>
<rect x="690.6" y="59.8" width="1" height="1" fill="#4fb08d"/>
<rect x="696.8" y="56.6" width="1" height="1" fill="#4fb08d"/>
<rect x="699.5" y="69.3" width="1" height="1" fill="#4fb08d"/>
<rect x="697.4" y="57.1" width="1" height="1" fill="#4fb08c"/>
<rect x="693.6" y="59.0" width="1" height="1" fill="#4fb08c"/>
<rect x="687.6" y="60.7" width="1" height="1" fill="#4fb08c"/>
<rect x="690.1" y="78.1" width="1" height="1" fill="#4fb08c"/>
<rect x="690.0" y="60.0" width="1" height="1" fill="#4fb08c"/>
<rect x="697.6" y="58.1" width="1" height="1" fill="#4fb08c"/>
<rect x="686.7" y="69.0" width="1" height="1" fill="#50b08b"/>
<rect x="696.6" y="80.0" width="1" height="1" fill="#50b08b"/>
<rect x="683.5" y="71.4" width="1" height="1" fill="#50b08b"/>
<rect x="700.1" y="59.9" width="1" height="1" fill="#50b08b"/>
<rect x="689.0" y="75.8" width="1" height="1" fill="#50b08b"/>
<rect x="687.5" y="74.2" width="1" height="1" fill="#50b08a"/>
<rect x="688.8" y="71.7" width="1" height="1" fill="#50b08a"/>
<rect x="695.8" y="61.9" width="1" height="1" fill="#50b08a"/>
<rect x="697.9" y="59.0" width="1" height="1" fill="#50b08a"/>
<rect x="686.6" y="71.7" width="1" height="1" fill="#50b08a"/>
<rect x="699.2" y="63.0" width="1" height="1" fill="#50b08a"/>
<rect x="687.9" y="68.2" width="1" height="1" fill="#50b08a"/>
<rect x="696.7" y="59.3" width="1" height="1" fill="#50b089"/>
<rect x="698.8" y="59.2" width="1" height="1" fill="#50b089"/>
<rect x="691.1" y="60.5" width="1" height="1" fill="#50b089"/>
<rect x="688.6" y="78.4" width="1" height="1" fill="#50b089"/>
<rect x="684.9" y="71.4" width="1" height="1" fill="#51b188"/>
<rect x="690.5" y="61.7" width="1" height="1" fill="#51b188"/>
<rect x="696.6" y="57.4" width="1" height="1" fill="#51b188"/>
<rect x="698.5" y="77.0" width="1" height="1" fill="#51b188"/>
<rect x="685.9" y="68.7" width="1" height="1" fill="#51b188"/>
<rect x="690.7" y="77.9" width="1" height="1" fill="#51b188"/>
<rect x="685.6" y="62.3" width="1" height="1" fill="#51b188"/>
<rect x="687.0" y="58.0" width="1" height="1" fill="#51b187"/>
<rect x="686.3" y="64.1" width="1" height="1" fill="#51b187"/>
<rect x="691.3" y="58.4" width="1" height="1" fill="#51b186"/>
<rect x="694.2" y="80.8" width="1" height="1" fill="#51b186"/>
<rect x="690.0" y="61.4" width="1" height="1" fill="#51b186"/>
<rect x="691.8" y="56.6" width="1" height="1" fill="#51b186"/>
<rect x="683.9" y="64.1" width="1" height="1" fill="#51b186"/>
<rect x="700.6" y="62.5" width="1" height="1" fill="#51b186"/>
<rect x="695.7" y="58.1" width="1" height="1" fill="#51b186"/>
<rect x="693.7" y="61.0" width="1" height="1" fill="#51b186"/>
<rect x="686.2" y="66.0" width="1" height="1" fill="#52b185"/>
<rect x="691.7" y="79.1" width="1" height="1" fill="#52b185"/>
<rect x="698.9" y="63.8" width="1" height="1" fill="#52b185"/>
<rect x="689.2" y="66.9" width="1" height="1" fill="#52b185"/>
<rect x="693.3" y="59.7" width="1" height="1" fill="#52b185"/>
<rect x="689.8" y="55.9" width="1" height="1" fill="#52b184"/>
<rect x="690.5" y="63.7" width="1" height="1" fill="#52b184"/>
<rect x="689.5" y="77.6" width="1" height="1" fill="#52b184"/>
<rect x="695.1" y="59.7" width="1" height="1" fill="#52b184"/>
<rect x="689.1" y="61.7" width="1" height="1" fill="#52b184"/>
<rect x="693.4" y="61.1" width="1" height="1" fill="#52b184"/>
<rect x="699.1" y="58.9" width="1" height="1" fill="#52b184"/>
<rect x="684.0" y="66.2" width="1" height="1" fill="#52b183"/>
<rect x="686.9" y="77.3" width="1" height="1" fill="#52b283"/>
<rect x="686.6" y="65.5" width="1" height="1" fill="#52b283"/>
<rect x="699.5" y="59.9" width="1" height="1" fill="#52b283"/>
<rect x="691.6" y="80.1" width="1" height="1" fill="#53b282"/>
<rect x="687.1" y="77.1" width="1" height="1" fill="#53b282"/>
<rect x="691.8" y="63.0" width="1" height="1" fill="#53b282"/>
<rect x="699.7" y="71.5" width="1" height="1" fill="#53b282"/>
<rect x="691.1" y="79.8" width="1" height="1" fill="#53b282"/>
<rect x="693.6" y="60.0" width="1" height="1" fill="#53b281"/>
<rect x="689.9" y="61.2" width="1" height="1" fill="#53b281"/>
<rect x="690.5" y="64.4" width="1" height="1" fill="#53b280"/>
<rect x="684.2" y="67.5" width="1" height="1" fill="#53b280"/>
<rect x="689.3" y="57.0" width="1" height="1" fill="#53b280"/>
<rect x="688.8" y="65.7" width="1" height="1" fill="#53b280"/>
<rect x="692.4" y="56.9" width="1" height="1" fill="#54b27f"/>
<rect x="688.9" y="71.9" width="1" height="1" fill="#54b27f"/>
<rect x="697.6" y="57.6" width="1" height="1" fill="#54b27f"/>
<rect x="694.9" y="58.1" width="1" height="1" fill="#54b27f"/>
<rect x="686.4" y="60.0" width="1" height="1" fill="#54b27f"/>
<rect x="695.9" y="79.7" width="1" height="1" fill="#54b27e"/>
<rect x="686.8" y="69.5" width="1" height="1" fill="#54b27e"/>
<rect x="695.1" y="59.2" width="1" height="1" fill="#54b27e"/>
<rect x="686.3" y="67.3" width="1" height="1" fill="#54b37e"/>
<rect x="699.9" y="72.0" width="1" height="1" fill="#54b37e"/>
<rect x="698.0" y="78.3" width="1" height="1" fill="#54b37d"/>
<rect x="690.6" y="57.3" width="1" height="1" fill="#54b37d"/>
<rect x="684.8" y="66.6" width="1" height="1" fill="#54b37d"/>
<rect x="698.4" y="58.6" width="1" height="1" fill="#54b37d"/>
<rect x="693.5" y="58.1" width="1" height="1" fill="#54b37d"/>
<rect x="693.4" y="59.2" width="1" height="1" fill="#55b37c"/>
<rect x="689.0" y="74.2" width="1" height="1" fill="#55b37c"/>
<rect x="699.1" y="68.1" width="1" height="1" fill="#55b37b"/>
<rect x="687.3" y="63.6" width="1" height="1" fill="#55b37b"/>
<rect x="688.0" y="67.0" width="1" height="1" fill="#55b37a"/>
<rect x="692.7" y="62.0" width="1" height="1" fill="#55b37a"/>
<rect x="695.3" y="60.7" width="1" height="1" fill="#55b37a"/>
<rect x="685.9" y="65.3" width="1" height="1" fill="#56b379"/>
<rect x="688.0" y="63.3" width="1" height="1" fill="#56b379"/>
<rect x="696.7" y="62.7" width="1" height="1" fill="#56b379"/>
<rect x="695.7" y="58.6" width="1" height="1" fill="#56b479"/>
<rect x="697.0" y="57.5" width="1" height="1" fill="#56b479"/>
<rect x="694.6" y="55.5" width="1" height="1" fill="#56b478"/>
<rect x="685.9" y="73.1" width="1" height="1" fill="#56b478"/>
<rect x="692.6" y="63.0" width="1" height="1" fill="#56b478"/>
<rect x="685.9" y="73.6" width="1" height="1" fill="#56b478"/>
<rect x="691.5" y="60.4" width="1" height="1" fill="#56b477"/>
<rect x="694.4" y="56.3" width="1" height="1" fill="#56b477"/>
<rect x="696.9" y="64.3" width="1" height="1" fill="#56b477"/>
<rect x="689.4" y="75.2" width="1" height="1" fill="#56b477"/>
<rect x="684.1" y="67.1" width="1" height="1" fill="#57b476"/>
<rect x="693.9" y="58.0" width="1" height="1" fill="#57b476"/>
<rect x="687.9" y="66.1" width="1" height="1" fill="#57b475"/>
<rect x="698.1" y="65.5" width="1" height="1" fill="#57b475"/>
<rect x="696.2" y="80.1" width="1" height="1" fill="#57b475"/>
<rect x="687.4" y="59.2" width="1" height="1" fill="#57b475"/>
<rect x="688.0" y="59.1" width="1" height="1" fill="#57b475"/>
<rect x="696.2" y="79.5" width="1" height="1" fill="#57b475"/>
<rect x="694.4" y="59.1" width="1" height="1" fill="#57b475"/>
<rect x="686.4" y="68.7" width="1" height="1" fill="#57b475"/>
<rect x="694.5" y="57.2" width="1" height="1" fill="#57b475"/>
<rect x="686.6" y="70.6" width="1" height="1" fill="#57b474"/>
<rect x="688.2" y="70.6" width="1" height="1" fill="#57b474"/>
<rect x="694.6" y="62.6" width="1" height="1" fill="#57b474"/>
<rect x="699.5" y="69.3" width="1" height="1" fill="#57b474"/>
<rect x="694.3" y="59.2" width="1" height="1" fill="#57b474"/>
<rect x="697.0" y="57.3" width="1" height="1" fill="#57b474"/>
<rect x="687.0" y="68.2" width="1" height="1" fill="#57b474"/>
<rect x="699.0" y="70.0" width="1" height="1" fill="#58b573"/>
<rect x="689.0" y="75.0" width="1" height="1" fill="#58b573"/>
<rect x="696.9" y="79.9" width="1" height="1" fill="#58b573"/>
<rect x="693.2" y="59.2" width="1" height="1" fill="#58b573"/>
<rect x="687.6" y="59.6" width="1" height="1" fill="#58b573"/>
<rect x="694.8" y="61.7" width="1" height="1" fill="#58b573"/>
<rect x="687.9" y="63.9" width="1" height="1" fill="#58b573"/>
<rect x="688.9" y="74.6" width="1" height="1" fill="#58b573"/>
<rect x="690.9" y="60.8" width="1" height="1" fill="#58b572"/>
<rect x="687.4" y="62.3" width="1" height="1" fill="#58b572"/>
<rect x="691.3" y="79.9" width="1" height="1" fill="#58b572"/>
<rect x="690.8" y="57.2" width="1" height="1" fill="#58b572"/>
<rect x="699.7" y="65.8" width="1" height="1" fill="#58b572"/>
<rect x="686.7" y="60.2" width="1" height="1" fill="#58b572"/>
<rect x="693.7" y="60.6" width="1" height="1" fill="#58b572"/>
<rect x="698.1" y="66.7" width="1" height="1" fill="#58b572"/>
<rect x="689.6" y="64.8" width="1" height="1" fill="#58b571"/>
<rect x="691.0" y="79.6" width="1" height="1" fill="#58b571"/>
<rect x="694.8" y="79.5" width="1" height="1" fill="#58b571"/>
<rect x="691.9" y="63.5" width="1" height="1" fill="#58b571"/>
<rect x="697.7" y="59.0" width="1" height="1" fill="#58b571"/>
<rect x="689.6" y="77.6" width="1" height="1" fill="#58b571"/>
<rect x="691.3" y="57.0" width="1" height="1" fill="#58b571"/>
<rect x="698.4" y="67.4" width="1" height="1" fill="#58b571"/>
<rect x="695.9" y="59.7" width="1" height="1" fill="#59b570"/>
<rect x="699.3" y="72.4" width="1" height="1" fill="#59b570"/>
<rect x="688.9" y="62.5" width="1" height="1" fill="#59b570"/>
<rect x="698.0" y="59.6" width="1" height="1" fill="#59b570"/>
<rect x="688.4" y="76.4" width="1" height="1" fill="#59b570"/>
<rect x="685.8" y="72.5" width="1" height="1" fill="#59b570"/>
<rect x="685.2" y="64.7" width="1" height="1" fill="#59b570"/>
<rect x="697.4" y="59.9" width="1" height="1" fill="#59b56f"/>
<rect x="693.1" y="61.8" width="1" height="1" fill="#59b56f"/>
<rect x="688.5" y="73.3" width="1" height="1" fill="#59b56f"/>
<rect x="695.3" y="62.9" width="1" height="1" fill="#59b56f"/>
<rect x="687.9" y="60.0" width="1" height="1" fill="#59b56f"/>
<rect x="686.4" y="62.3" width="1" height="1" fill="#59b56f"/>
<rect x="686.1" y="65.0" width="1" height="1" fill="#59b56f"/>
<rect x="685.9" y="67.8" width="1" height="1" fill="#59b56e"/>
<rect x="686.7" y="63.6" width="1" height="1" fill="#59b56e"/>
<rect x="690.5" y="59.9" width="1" height="1" fill="#59b56e"/>
<rect x="697.4" y="63.5" width="1" height="1" fill="#59b66e"/>
<rect x="691.4" y="78.2" width="1" height="1" fill="#59b66e"/>
<rect x="687.6" y="75.1" width="1" height="1" fill="#59b66e"/>
<rect x="694.7" y="79.7" width="1" height="1" fill="#59b66e"/>
<rect x="689.5" y="74.0" width="1" height="1" fill="#59b66e"/>
<rect x="689.2" y="64.1" width="1" height="1" fill="#5ab66d"/>
<rect x="693.2" y="59.1" width="1" height="1" fill="#5ab66d"/>
<rect x="689.4" y="58.6" width="1" height="1" fill="#5ab66d"/>
<rect x="688.6" y="61.7" width="1" height="1" fill="#5ab66d"/>
<rect x="688.3" y="74.5" width="1" height="1" fill="#5ab66d"/>
<rect x="688.0" y="59.9" width="1" height="1" fill="#5ab66d"/>
<rect x="695.5" y="62.8" width="1" height="1" fill="#5ab66d"/>
<rect x="692.3" y="57.6" width="1" height="1" fill="#5ab66c"/>
<rect x="685.9" y="65.2" width="1" height="1" fill="#5ab66c"/>
<rect x="687.0" y="66.2" width="1" height="1" fill="#5ab66c"/>
<rect x="689.2" y="73.6" width="1" height="1" fill="#5ab66b"/>
<rect x="699.0" y="73.1" width="1" height="1" fill="#5ab66b"/>
<rect x="691.4" y="62.1" width="1" height="1" fill="#5ab66b"/>
<rect x="686.7" y="70.5" width="1" height="1" fill="#5ab66b"/>
<rect x="689.8" y="57.9" width="1" height="1" fill="#5ab66b"/>
<rect x="692.1" y="58.1" width="1" height="1" fill="#5bb66a"/>
<rect x="689.1" y="68.2" width="1" height="1" fill="#5bb66a"/>
<rect x="687.7" y="62.3" width="1" height="1" fill="#5bb66a"/>
<rect x="688.6" y="63.4" width="1" height="1" fill="#5bb669"/>
<rect x="686.9" y="63.2" width="1" height="1" fill="#5bb669"/>
<rect x="686.1" y="65.0" width="1" height="1" fill="#5bb769"/>
<rect x="697.4" y="78.7" width="1" height="1" fill="#5bb769"/>
<rect x="688.8" y="64.5" width="1" height="1" fill="#5bb769"/>
<rect x="691.7" y="61.7" width="1" height="1" fill="#5bb768"/>
<rect x="689.5" y="72.9" width="1" height="1" fill="#5bb768"/>
<rect x="692.1" y="62.9" width="1" height="1" fill="#5bb768"/>
<rect x="692.0" y="79.8" width="1" height="1" fill="#5bb768"/>
<rect x="697.3" y="59.4" width="1" height="1" fill="#5bb768"/>
<rect x="699.4" y="70.1" width="1" height="1" fill="#5cb767"/>
<rect x="689.1" y="65.6" width="1" height="1" fill="#5cb767"/>
<rect x="697.9" y="60.5" width="1" height="1" fill="#5cb767"/>
<rect x="694.1" y="61.4" width="1" height="1" fill="#5cb766"/>
<rect x="698.7" y="74.4" width="1" height="1" fill="#5cb766"/>
<rect x="690.0" y="62.5" width="1" height="1" fill="#5cb766"/>
<rect x="696.5" y="77.6" width="1" height="1" fill="#5cb765"/>
<rect x="689.0" y="63.9" width="1" height="1" fill="#5cb765"/>
<rect x="685.1" y="69.8" width="1" height="1" fill="#5cb765"/>
<rect x="698.5" y="72.4" width="1" height="1" fill="#5db764"/>
<rect x="696.0" y="78.8" width="1" height="1" fill="#5db764"/>
<rect x="690.7" y="60.7" width="1" height="1" fill="#5db764"/>
<rect x="698.4" y="65.5" width="1" height="1" fill="#5db863"/>
<rect x="686.6" y="64.4" width="1" height="1" fill="#5db863"/>
<rect x="698.0" y="77.4" width="1" height="1" fill="#5db863"/>
<rect x="686.3" y="72.7" width="1" height="1" fill="#5db862"/>
<rect x="691.4" y="77.3" width="1" height="1" fill="#5db862"/>
<rect x="689.0" y="74.0" width="1" height="1" fill="#5db862"/>
<rect x="687.8" y="70.0" width="1" height="1" fill="#5eb861"/>
<rect x="698.4" y="72.0" width="1" height="1" fill="#5eb861"/>
<rect x="685.6" y="65.4" width="1" height="1" fill="#5eb861"/>
<rect x="689.8" y="58.4" width="1" height="1" fill="#5eb861"/>
<rect x="693.0" y="62.7" width="1" height="1" fill="#5eb861"/>
<rect x="691.2" y="76.8" width="1" height="1" fill="#5eb861"/>
<rect x="689.5" y="69.4" width="1" height="1" fill="#5eb860"/>
<rect x="686.8" y="65.0" width="1" height="1" fill="#5eb860"/>
<rect x="698.4" y="61.9" width="1" height="1" fill="#5eb860"/>
<rect x="687.7" y="73.7" width="1" height="1" fill="#5eb860"/>
<rect x="689.3" y="67.3" width="1" height="1" fill="#5eb860"/>
<rect x="691.7" y="57.9" width="1" height="1" fill="#5eb860"/>
<rect x="697.4" y="66.0" width="1" height="1" fill="#5eb85f"/>
<rect x="693.1" y="59.9" width="1" height="1" fill="#5eb85f"/>
<rect x="685.8" y="68.1" width="1" height="1" fill="#5eb85f"/>
<rect x="687.5" y="74.2" width="1" height="1" fill="#5fb95e"/>
<rect x="697.0" y="61.8" width="1" height="1" fill="#5fb95e"/>
<rect x="689.7" y="69.3" width="1" height="1" fill="#5fb95e"/>
<rect x="690.8" y="61.0" width="1" height="1" fill="#5fb95e"/>
<rect x="686.1" y="67.2" width="1" height="1" fill="#60b95e"/>
<rect x="696.8" y="63.3" width="1" height="1" fill="#60b95e"/>
<rect x="689.1" y="71.8" width="1" height="1" fill="#61b95e"/>
<rect x="693.3" y="62.7" width="1" height="1" fill="#61b95e"/>
<rect x="694.0" y="61.2" width="1" height="1" fill="#61b95d"/>
<rect x="688.0" y="71.0" width="1" height="1" fill="#61b95d"/>
<rect x="696.5" y="60.7" width="1" height="1" fill="#61b95d"/>
<rect x="693.0" y="60.8" width="1" height="1" fill="#61b95d"/>
<rect x="689.7" y="64.7" width="1" height="1" fill="#62b95d"/>
<rect x="697.0" y="63.5" width="1" height="1" fill="#62b95d"/>
<rect x="691.2" y="63.2" width="1" height="1" fill="#62b95d"/>
<rect x="698.4" y="63.3" width="1" height="1" fill="#62b95d"/>
<rect x="689.0" y="69.5" width="1" height="1" fill="#62b95d"/>
<rect x="695.8" y="63.9" width="1" height="1" fill="#63b95d"/>
<rect x="690.9" y="64.7" width="1" height="1" fill="#63b95d"/>
<rect x="697.8" y="65.4" width="1" height="1" fill="#63b95d"/>
<rect x="688.5" y="69.0" width="1" height="1" fill="#63b95d"/>
<rect x="687.9" y="66.2" width="1" height="1" fill="#63b95d"/>
<rect x="693.9" y="60.3" width="1" height="1" fill="#63b95c"/>
<rect x="697.6" y="63.6" width="1" height="1" fill="#63b95c"/>
<rect x="696.0" y="63.8" width="1" height="1" fill="#63b95c"/>
<rect x="699.2" y="70.6" width="1" height="1" fill="#64b95c"/>
<rect x="695.6" y="78.0" width="1" height="1" fill="#64ba5c"/>
<rect x="699.3" y="70.9" width="1" height="1" fill="#64ba5c"/>
<rect x="695.8" y="61.4" width="1" height="1" fill="#64ba5c"/>
<rect x="689.1" y="67.2" width="1" height="1" fill="#64ba5c"/>
<rect x="698.0" y="67.3" width="1" height="1" fill="#65ba5c"/>
<rect x="686.8" y="68.7" width="1" height="1" fill="#65ba5c"/>
<rect x="691.8" y="58.3" width="1" height="1" fill="#65ba5b"/>
<rect x="698.3" y="76.3" width="1" height="1" fill="#66ba5b"/>
<rect x="697.3" y="62.9" width="1" height="1" fill="#66ba5b"/>
<rect x="698.5" y="75.9" width="1" height="1" fill="#66ba5b"/>
<rect x="691.0" y="59.3" width="1" height="1" fill="#66ba5b"/>
<rect x="688.3" y="62.1" width="1" height="1" fill="#67ba5b"/>
<rect x="690.5" y="59.1" width="1" height="1" fill="#67ba5b"/>
<rect x="691.8" y="64.1" width="1" height="1" fill="#67ba5b"/>
<rect x="687.9" y="64.0" width="1" height="1" fill="#67ba5b"/>
<rect x="690.0" y="73.3" width="1" height="1" fill="#68ba5a"/>
<rect x="688.4" y="70.2" width="1" height="1" fill="#68ba5a"/>
<rect x="692.8" y="60.7" width="1" height="1" fill="#68ba5a"/>
<rect x="689.2" y="68.4" width="1" height="1" fill="#68ba5a"/>
<rect x="698.5" y="68.1" width="1" height="1" fill="#68ba5a"/>
<rect x="697.7" y="62.8" width="1" height="1" fill="#69ba5a"/>
<rect x="691.2" y="59.6" width="1" height="1" fill="#69ba5a"/>
<rect x="694.2" y="62.2" width="1" height="1" fill="#69ba5a"/>
<rect x="687.2" y="72.2" width="1" height="1" fill="#69ba5a"/>
<rect x="696.4" y="63.9" width="1" height="1" fill="#69ba5a"/>
<rect x="694.2" y="58.7" width="1" height="1" fill="#69ba5a"/>
<rect x="689.5" y="69.8" width="1" height="1" fill="#69ba5a"/>
<rect x="688.9" y="64.1" width="1" height="1" fill="#69ba5a"/>
<rect x="689.3" y="74.7" width="1" height="1" fill="#6abb59"/>
<rect x="696.1" y="78.4" width="1" height="1" fill="#6abb59"/>
<rect x="692.4" y="60.7" width="1" height="1" fill="#6abb59"/>
<rect x="689.1" y="67.7" width="1" height="1" fill="#6bbb59"/>
<rect x="690.0" y="68.3" width="1" height="1" fill="#6cbb59"/>
<rect x="688.2" y="63.9" width="1" height="1" fill="#6cbb58"/>
<rect x="690.2" y="62.6" width="1" height="1" fill="#6cbb58"/>
<rect x="694.9" y="63.9" width="1" height="1" fill="#6dbb58"/>
<rect x="688.8" y="68.8" width="1" height="1" fill="#6dbb58"/>
<rect x="693.3" y="62.2" width="1" height="1" fill="#6dbb58"/>
<rect x="697.8" y="67.6" width="1" height="1" fill="#6dbb58"/>
<rect x="690.3" y="77.2" width="1" height="1" fill="#6dbb58"/>
<rect x="690.0" y="73.3" width="1" height="1" fill="#6dbb58"/>
<rect x="691.2" y="76.8" width="1" height="1" fill="#6ebb58"/>
<rect x="695.8" y="64.8" width="1" height="1" fill="#6ebb57"/>
<rect x="690.4" y="76.2" width="1" height="1" fill="#6fbb57"/>
<rect x="689.8" y="70.5" width="1" height="1" fill="#6fbb57"/>
<rect x="694.6" y="62.7" width="1" height="1" fill="#6fbc57"/>
<rect x="690.2" y="64.1" width="1" height="1" fill="#70bc57"/>
<rect x="689.5" y="65.4" width="1" height="1" fill="#70bc57"/>
<rect x="691.9" y="64.2" width="1" height="1" fill="#70bc57"/>
<rect x="696.6" y="64.0" width="1" height="1" fill="#71bc56"/>
<rect x="690.5" y="66.6" width="1" height="1" fill="#71bc56"/>
<rect x="693.7" y="79.1" width="1" height="1" fill="#71bc56"/>
<rect x="690.3" y="74.2" width="1" height="1" fill="#72bc56"/>
<rect x="698.2" y="73.8" width="1" height="1" fill="#72bc55"/>
<rect x="692.0" y="63.0" width="1" height="1" fill="#73bc55"/>
<rect x="692.0" y="78.5" width="1" height="1" fill="#73bc55"/>
<rect x="694.2" y="78.1" width="1" height="1" fill="#73bc55"/>
<rect x="694.7" y="79.2" width="1" height="1" fill="#74bc55"/>
<rect x="691.1" y="65.5" width="1" height="1" fill="#75bd54"/>
<rect x="691.2" y="75.9" width="1" height="1" fill="#75bd54"/>
<rect x="693.0" y="78.1" width="1" height="1" fill="#75bd54"/>
<rect x="689.3" y="68.9" width="1" height="1" fill="#76bd54"/>
<rect x="693.4" y="78.6" width="1" height="1" fill="#76bd54"/>
<rect x="696.1" y="64.3" width="1" height="1" fill="#77bd53"/>
<rect x="697.9" y="72.1" width="1" height="1" fill="#77bd53"/>
<rect x="693.1" y="63.8" width="1" height="1" fill="#78bd53"/>
<rect x="691.3" y="75.9" width="1" height="1" fill="#79bd53"/>
<rect x="697.8" y="69.9" width="1" height="1" fill="#79bd53"/>
<rect x="691.3" y="65.6" width="1" height="1" fill="#79bd52"/>
<rect x="698.8" y="69.4" width="1" height="1" fill="#7abd52"/>
<rect x="698.4" y="68.7" width="1" height="1" fill="#7abe52"/>
<rect x="690.3" y="74.9" width="1" height="1" fill="#7abe52"/>
<rect x="690.3" y="73.0" width="1" height="1" fill="#7abe52"/>
<rect x="697.4" y="74.5" width="1" height="1" fill="#7bbe52"/>
<rect x="695.0" y="77.9" width="1" height="1" fill="#7bbe51"/>
<rect x="691.7" y="76.6" width="1" height="1" fill="#7bbe51"/>
<rect x="692.6" y="64.7" width="1" height="1" fill="#7cbe51"/>
<rect x="692.9" y="64.8" width="1" height="1" fill="#7cbe51"/>
<rect x="692.3" y="63.8" width="1" height="1" fill="#7dbe51"/>
<rect x="698.0" y="66.4" width="1" height="1" fill="#7dbe51"/>
<rect x="698.6" y="70.3" width="1" height="1" fill="#7dbe51"/>
<rect x="694.8" y="77.3" width="1" height="1" fill="#7dbe51"/>
<rect x="694.6" y="78.4" width="1" height="1" fill="#7dbe50"/>
<rect x="690.2" y="67.5" width="1" height="1" fill="#7ebe50"/>
<rect x="694.1" y="77.9" width="1" height="1" fill="#7fbe50"/>
<rect x="697.6" y="66.0" width="1" height="1" fill="#82bf4f"/>
<rect x="690.5" y="74.5" width="1" height="1" fill="#82bf4e"/>
<rect x="691.6" y="64.4" width="1" height="1" fill="#83bf4e"/>
<rect x="690.6" y="65.8" width="1" height="1" fill="#83bf4e"/>
<rect x="690.5" y="73.8" width="1" height="1" fill="#85bf4d"/>
<rect x="695.0" y="64.8" width="1" height="1" fill="#85bf4d"/>
<rect x="695.7" y="76.6" width="1" height="1" fill="#86c04d"/>
<rect x="691.6" y="75.9" width="1" height="1" fill="#87c04c"/>
<rect x="693.9" y="63.1" width="1" height="1" fill="#87c04c"/>
<rect x="693.3" y="63.3" width="1" height="1" fill="#88c04c"/>
<rect x="692.7" y="65.5" width="1" height="1" fill="#88c04c"/>
<rect x="693.4" y="65.2" width="1" height="1" fill="#88c04c"/>
<rect x="695.0" y="77.5" width="1" height="1" fill="#89c04b"/>
<rect x="689.8" y="72.3" width="1" height="1" fill="#8ac04b"/>
<rect x="692.3" y="77.8" width="1" height="1" fill="#8bc14a"/>
<rect x="697.2" y="75.9" width="1" height="1" fill="#8bc14a"/>
<rect x="696.2" y="75.5" width="1" height="1" fill="#8cc14a"/>
<rect x="697.1" y="74.4" width="1" height="1" fill="#8cc14a"/>
<rect x="689.8" y="68.6" width="1" height="1" fill="#8cc14a"/>
<rect x="692.4" y="65.1" width="1" height="1" fill="#8dc14a"/>
<rect x="693.1" y="78.3" width="1" height="1" fill="#8dc149"/>
<rect x="694.4" y="63.2" width="1" height="1" fill="#8dc149"/>
<rect x="697.9" y="70.9" width="1" height="1" fill="#8dc149"/>
<rect x="690.8" y="66.6" width="1" height="1" fill="#8ec149"/>
<rect x="691.0" y="76.7" width="1" height="1" fill="#8ec149"/>
<rect x="698.1" y="72.2" width="1" height="1" fill="#8ec149"/>
<rect x="697.2" y="68.5" width="1" height="1" fill="#8fc148"/>
<rect x="690.5" y="74.2" width="1" height="1" fill="#90c148"/>
<rect x="697.5" y="67.5" width="1" height="1" fill="#90c148"/>
<rect x="690.4" y="74.0" width="1" height="1" fill="#90c248"/>
<rect x="693.3" y="77.8" width="1" height="1" fill="#90c248"/>
<rect x="690.0" y="69.7" width="1" height="1" fill="#90c248"/>
<rect x="694.3" y="64.0" width="1" height="1" fill="#91c248"/>
<rect x="696.8" y="67.2" width="1" height="1" fill="#91c248"/>
<rect x="696.9" y="74.1" width="1" height="1" fill="#91c248"/>
<rect x="690.7" y="72.2" width="1" height="1" fill="#93c246"/>
<rect x="693.4" y="64.1" width="1" height="1" fill="#94c246"/>
<rect x="692.2" y="64.3" width="1" height="1" fill="#94c246"/>
<rect x="696.6" y="75.7" width="1" height="1" fill="#96c345"/>
<rect x="691.0" y="72.8" width="1" height="1" fill="#96c345"/>
<rect x="694.5" y="64.1" width="1" height="1" fill="#99c344"/>
<rect x="696.3" y="65.7" width="1" height="1" fill="#9cc442"/>
<rect x="695.7" y="76.6" width="1" height="1" fill="#9dc442"/>
<rect x="691.1" y="73.0" width="1" height="1" fill="#9fc441"/>
<rect x="696.6" y="74.5" width="1" height="1" fill="#9fc441"/>
<rect x="697.5" y="72.6" width="1" height="1" fill="#a2c540"/>
<rect x="696.0" y="66.6" width="1" height="1" fill="#a2c540"/>
<rect x="692.0" y="66.8" width="1" height="1" fill="#a2c540"/>
<rect x="696.9" y="72.3" width="1" height="1" fill="#a5c53e"/>
<rect x="696.6" y="68.5" width="1" height="1" fill="#a5c53e"/>
<rect x="696.0" y="67.4" width="1" height="1" fill="#a6c53e"/>
<rect x="693.9" y="76.9" width="1" height="1" fill="#a6c63e"/>
<rect x="694.2" y="77.3" width="1" height="1" fill="#a7c63e"/>
<rect x="690.9" y="67.2" width="1" height="1" fill="#a7c63e"/>
<rect x="690.8" y="71.0" width="1" height="1" fill="#a8c63d"/>
<rect x="695.3" y="66.2" width="1" height="1" fill="#a9c63d"/>
<rect x="690.9" y="67.7" width="1" height="1" fill="#a9c63d"/>
<rect x="696.3" y="65.6" width="1" height="1" fill="#a9c63d"/>
<rect x="694.5" y="66.1" width="1" height="1" fill="#a9c63c"/>
<rect x="692.6" y="64.8" width="1" height="1" fill="#a9c63c"/>
<rect x="695.8" y="66.4" width="1" height="1" fill="#aac63c"/>
<rect x="693.7" y="75.8" width="1" height="1" fill="#abc63c"/>
<rect x="697.5" y="69.3" width="1" height="1" fill="#abc63c"/>
<rect x="692.9" y="76.1" width="1" height="1" fill="#acc73b"/>
<rect x="692.9" y="76.2" width="1" height="1" fill="#acc73b"/>
<rect x="691.2" y="73.3" width="1" height="1" fill="#adc73b"/>
<rect x="693.5" y="76.5" width="1" height="1" fill="#aec73a"/>
<rect x="697.2" y="69.9" width="1" height="1" fill="#aec73a"/>
<rect x="697.2" y="72.0" width="1" height="1" fill="#afc73a"/>
<rect x="696.2" y="66.1" width="1" height="1" fill="#afc73a"/>
<rect x="696.6" y="74.0" width="1" height="1" fill="#b1c739"/>
<rect x="696.0" y="67.4" width="1" height="1" fill="#b1c839"/>
<rect x="691.8" y="73.5" width="1" height="1" fill="#b2c839"/>
<rect x="696.7" y="70.1" width="1" height="1" fill="#b2c838"/>
<rect x="693.4" y="76.2" width="1" height="1" fill="#b3c838"/>
<rect x="691.5" y="74.5" width="1" height="1" fill="#b3c838"/>
<rect x="694.9" y="75.7" width="1" height="1" fill="#b4c837"/>
<rect x="697.2" y="68.0" width="1" height="1" fill="#b5c837"/>
<rect x="695.1" y="75.6" width="1" height="1" fill="#b6c837"/>
<rect x="696.7" y="68.7" width="1" height="1" fill="#b6c837"/>
<rect x="696.3" y="74.6" width="1" height="1" fill="#b6c837"/>
<rect x="690.6" y="71.6" width="1" height="1" fill="#b7c936"/>
<rect x="691.0" y="67.9" width="1" height="1" fill="#b7c936"/>
<rect x="691.6" y="67.6" width="1" height="1" fill="#b7c936"/>
<rect x="696.7" y="72.5" width="1" height="1" fill="#b8c936"/>
<rect x="695.6" y="65.7" width="1" height="1" fill="#b9c936"/>
<rect x="697.1" y="69.4" width="1" height="1" fill="#b9c935"/>
<rect x="690.9" y="72.8" width="1" height="1" fill="#bac935"/>
<rect x="691.4" y="68.0" width="1" height="1" fill="#bcca34"/>
<rect x="696.9" y="72.5" width="1" height="1" fill="#bdca34"/>
<rect x="695.4" y="75.3" width="1" height="1" fill="#bdca33"/>
<rect x="691.7" y="66.8" width="1" height="1" fill="#beca33"/>
<rect x="695.3" y="75.8" width="1" height="1" fill="#bfca33"/>
<rect x="696.2" y="73.4" width="1" height="1" fill="#bfca32"/>
<rect x="691.1" y="68.7" width="1" height="1" fill="#c0ca32"/>
<rect x="691.9" y="67.8" width="1" height="1" fill="#c0ca32"/>
<rect x="696.8" y="70.1" width="1" height="1" fill="#c5cb30"/>
<rect x="696.6" y="70.9" width="1" height="1" fill="#c6cb30"/>
<rect x="692.8" y="66.7" width="1" height="1" fill="#c6cb2f"/>
<rect x="691.1" y="71.7" width="1" height="1" fill="#c7cc2f"/>
<rect x="695.1" y="67.7" width="1" height="1" fill="#cacc2e"/>
<rect x="696.2" y="68.9" width="1" height="1" fill="#cbcc2d"/>
<rect x="696.2" y="71.8" width="1" height="1" fill="#cbcc2d"/>
<rect x="693.4" y="65.8" width="1" height="1" fill="#cbcc2d"/>
<rect x="693.7" y="66.2" width="1" height="1" fill="#cdcc2c"/>
<rect x="694.3" y="67.2" width="1" height="1" fill="#cdcb2c"/>
<rect x="693.4" y="75.1" width="1" height="1" fill="#ceca2c"/>
<rect x="694.6" y="75.1" width="1" height="1" fill="#ceca2c"/>
<rect x="691.9" y="68.9" width="1" height="1" fill="#cec82c"/>
<rect x="696.9" y="71.9" width="1" height="1" fill="#cec82c"/>
<rect x="696.5" y="73.6" width="1" height="1" fill="#cfc72b"/>
<rect x="696.5" y="72.9" width="1" height="1" fill="#cfc62b"/>
<rect x="691.7" y="72.2" width="1" height="1" fill="#cfc62b"/>
<rect x="695.7" y="67.9" width="1" height="1" fill="#d0c52b"/>
<rect x="692.4" y="73.8" width="1" height="1" fill="#d5ba28"/>
<rect x="692.9" y="67.6" width="1" height="1" fill="#d5ba28"/>
<rect x="694.9" y="68.2" width="1" height="1" fill="#d5b928"/>
<rect x="692.7" y="74.9" width="1" height="1" fill="#d6b828"/>
<rect x="693.5" y="66.9" width="1" height="1" fill="#d6b728"/>
<rect x="695.5" y="72.8" width="1" height="1" fill="#d7b527"/>
<rect x="691.8" y="70.3" width="1" height="1" fill="#d8b527"/>
<rect x="691.3" y="70.5" width="1" height="1" fill="#d8b427"/>
<rect x="694.1" y="66.6" width="1" height="1" fill="#d8b327"/>
<rect x="695.7" y="71.4" width="1" height="1" fill="#d9b126"/>
<rect x="694.7" y="67.6" width="1" height="1" fill="#dab026"/>
<rect x="692.7" y="74.6" width="1" height="1" fill="#dbad25"/>
<rect x="692.7" y="68.2" width="1" height="1" fill="#dbac25"/>
<rect x="694.8" y="73.5" width="1" height="1" fill="#dcab25"/>
<rect x="691.8" y="71.5" width="1" height="1" fill="#dcab25"/>
<rect x="695.1" y="73.8" width="1" height="1" fill="#dcaa25"/>
<rect x="695.6" y="69.6" width="1" height="1" fill="#dda924"/>
<rect x="693.6" y="67.8" width="1" height="1" fill="#dfa523"/>
<rect x="694.2" y="67.3" width="1" height="1" fill="#e0a323"/>
<rect x="695.1" y="68.2" width="1" height="1" fill="#e29e22"/>
<rect x="696.0" y="71.6" width="1" height="1" fill="#e29d22"/>
<rect x="692.2" y="73.3" width="1" height="1" fill="#e39d21"/>
<rect x="695.3" y="70.2" width="1" height="1" fill="#e49b21"/>
<rect x="695.2" y="68.9" width="1" height="1" fill="#e69620"/>
<rect x="694.6" y="69.7" width="1" height="1" fill="#e7921f"/>
<rect x="695.2" y="72.3" width="1" height="1" fill="#ea8e1e"/>
<rect x="693.3" y="69.7" width="1" height="1" fill="#ea8c1e"/>
<rect x="694.0" y="73.5" width="1" height="1" fill="#ea8c1e"/>
<rect x="693.2" y="73.4" width="1" height="1" fill="#ea8a1e"/>
<rect x="692.6" y="71.0" width="1" height="1" fill="#ea861e"/>
<rect x="694.4" y="71.4" width="1" height="1" fill="#e6701e"/>
<rect x="693.6" y="69.6" width="1" height="1" fill="#e6701e"/>
<rect x="694.0" y="70.3" width="1" height="1" fill="#e5661e"/>
<rect x="694.7" y="70.8" width="1" height="1" fill="#e5661e"/>
<rect x="694.2" y="72.9" width="1" height="1" fill="#e5641e"/>
<rect x="693.7" y="69.8" width="1" height="1" fill="#e4621e"/>
<rect x="695.1" y="71.0" width="1" height="1" fill="#e4601e"/>
<rect x="694.7" y="71.5" width="1" height="1" fill="#e35c1e"/>
<rect x="693.2" y="69.7" width="1" height="1" fill="#e35c1e"/>
<rect x="693.0" y="71.5" width="1" height="1" fill="#e3581e"/>
<rect x="694.2" y="71.7" width="1" height="1" fill="#e3581e"/>
<rect x="694.6" y="70.5" width="1" height="1" fill="#e3571e"/>
<rect x="694.2" y="71.4" width="1" height="1" fill="#e3561e"/>
<rect x="694.2" y="71.9" width="1" height="1" fill="#e2501e"/>
<rect x="693.2" y="72.4" width="1" height="1" fill="#e14e1e"/>
<rect x="694.9" y="69.8" width="1" height="1" fill="#e14c1e"/>
<rect x="693.4" y="70.5" width="1" height="1" fill="#df421e"/>
<rect x="694.2" y="70.8" width="1" height="1" fill="#dd2f1e"/>
<rect x="694.0" y="70.5" width="1" height="1" fill="#dc281e"/>
<rect x="693.9" y="71.4" width="1" height="1" fill="#dc281e"/>
<rect x="590.7" y="31.3" width="141.79999999999995" height="142.5" fill="none" stroke="#bdbdbd" stroke-width="1"/>
<line x1="588.7" y1="33.8" x2="590.7" y2="33.8" stroke="#888" stroke-width="0.8" />
<text x="588.2" y="35.3" font-size="4.2" fill="#888" text-anchor="end">10⁶</text>
<line x1="588.7" y1="60.8" x2="590.7" y2="60.8" stroke="#888" stroke-width="0.8" />
<text x="588.2" y="62.3" font-size="4.2" fill="#888" text-anchor="end">10⁵</text>
<line x1="588.7" y1="90.8" x2="590.7" y2="90.8" stroke="#888" stroke-width="0.8" />
<text x="588.2" y="92.3" font-size="4.2" fill="#888" text-anchor="end">10⁴</text>
<line x1="588.7" y1="125.8" x2="590.7" y2="125.8" stroke="#888" stroke-width="0.8" />
<text x="588.2" y="127.3" font-size="4.2" fill="#888" text-anchor="end">10³</text>
<line x1="588.7" y1="144" x2="590.7" y2="144" stroke="#888" stroke-width="0.8" />
<text x="588.2" y="145.5" font-size="4.2" fill="#888" text-anchor="end">0</text>
<line x1="588.7" y1="162" x2="590.7" y2="162" stroke="#888" stroke-width="0.8" />
<text x="588.2" y="163.5" font-size="4.2" fill="#888" text-anchor="end">-10³</text>
<line x1="589.7" y1="35.3" x2="590.7" y2="35.3" stroke="#bbb" stroke-width="0.5" />
<line x1="589.7" y1="38.599999999999994" x2="590.7" y2="38.599999999999994" stroke="#bbb" stroke-width="0.5" />
<line x1="589.7" y1="41.9" x2="590.7" y2="41.9" stroke="#bbb" stroke-width="0.5" />
<line x1="589.7" y1="45.199999999999996" x2="590.7" y2="45.199999999999996" stroke="#bbb" stroke-width="0.5" />
<line x1="589.7" y1="48.5" x2="590.7" y2="48.5" stroke="#bbb" stroke-width="0.5" />
<line x1="589.7" y1="51.8" x2="590.7" y2="51.8" stroke="#bbb" stroke-width="0.5" />
<line x1="589.7" y1="55.099999999999994" x2="590.7" y2="55.099999999999994" stroke="#bbb" stroke-width="0.5" />
<line x1="589.7" y1="58.39999999999999" x2="590.7" y2="58.39999999999999" stroke="#bbb" stroke-width="0.5" />
<line x1="589.7" y1="61.699999999999996" x2="590.7" y2="61.699999999999996" stroke="#bbb" stroke-width="0.5" />
<line x1="589.7" y1="65.0" x2="590.7" y2="65.0" stroke="#bbb" stroke-width="0.5" />
<line x1="589.7" y1="68.3" x2="590.7" y2="68.3" stroke="#bbb" stroke-width="0.5" />
<line x1="589.7" y1="71.6" x2="590.7" y2="71.6" stroke="#bbb" stroke-width="0.5" />
<line x1="589.7" y1="74.89999999999999" x2="590.7" y2="74.89999999999999" stroke="#bbb" stroke-width="0.5" />
<line x1="589.7" y1="78.19999999999999" x2="590.7" y2="78.19999999999999" stroke="#bbb" stroke-width="0.5" />
<line x1="589.7" y1="81.5" x2="590.7" y2="81.5" stroke="#bbb" stroke-width="0.5" />
<line x1="589.7" y1="84.8" x2="590.7" y2="84.8" stroke="#bbb" stroke-width="0.5" />
<line x1="589.7" y1="88.1" x2="590.7" y2="88.1" stroke="#bbb" stroke-width="0.5" />
<line x1="589.7" y1="91.39999999999999" x2="590.7" y2="91.39999999999999" stroke="#bbb" stroke-width="0.5" />
<line x1="589.7" y1="94.69999999999999" x2="590.7" y2="94.69999999999999" stroke="#bbb" stroke-width="0.5" />
<line x1="589.7" y1="98.0" x2="590.7" y2="98.0" stroke="#bbb" stroke-width="0.5" />
<line x1="589.7" y1="101.3" x2="590.7" y2="101.3" stroke="#bbb" stroke-width="0.5" />
<line x1="589.7" y1="104.6" x2="590.7" y2="104.6" stroke="#bbb" stroke-width="0.5" />
<line x1="589.7" y1="107.89999999999999" x2="590.7" y2="107.89999999999999" stroke="#bbb" stroke-width="0.5" />
<line x1="589.7" y1="111.19999999999999" x2="590.7" y2="111.19999999999999" stroke="#bbb" stroke-width="0.5" />
<line x1="589.7" y1="114.49999999999999" x2="590.7" y2="114.49999999999999" stroke="#bbb" stroke-width="0.5" />
<line x1="589.7" y1="117.8" x2="590.7" y2="117.8" stroke="#bbb" stroke-width="0.5" />
<line x1="589.7" y1="121.1" x2="590.7" y2="121.1" stroke="#bbb" stroke-width="0.5" />
<line x1="589.7" y1="124.39999999999999" x2="590.7" y2="124.39999999999999" stroke="#bbb" stroke-width="0.5" />
<line x1="589.7" y1="127.69999999999999" x2="590.7" y2="127.69999999999999" stroke="#bbb" stroke-width="0.5" />
<line x1="589.7" y1="131.0" x2="590.7" y2="131.0" stroke="#bbb" stroke-width="0.5" />
<line x1="589.7" y1="134.3" x2="590.7" y2="134.3" stroke="#bbb" stroke-width="0.5" />
<line x1="589.7" y1="137.6" x2="590.7" y2="137.6" stroke="#bbb" stroke-width="0.5" />
<line x1="589.7" y1="140.89999999999998" x2="590.7" y2="140.89999999999998" stroke="#bbb" stroke-width="0.5" />
<line x1="589.7" y1="144.2" x2="590.7" y2="144.2" stroke="#bbb" stroke-width="0.5" />
<line x1="589.7" y1="147.5" x2="590.7" y2="147.5" stroke="#bbb" stroke-width="0.5" />
<line x1="589.7" y1="150.8" x2="590.7" y2="150.8" stroke="#bbb" stroke-width="0.5" />
<line x1="589.7" y1="154.1" x2="590.7" y2="154.1" stroke="#bbb" stroke-width="0.5" />
<line x1="589.7" y1="157.39999999999998" x2="590.7" y2="157.39999999999998" stroke="#bbb" stroke-width="0.5" />
<line x1="589.7" y1="160.7" x2="590.7" y2="160.7" stroke="#bbb" stroke-width="0.5" />
<line x1="589.7" y1="164.0" x2="590.7" y2="164.0" stroke="#bbb" stroke-width="0.5" />
<line x1="589.7" y1="167.3" x2="590.7" y2="167.3" stroke="#bbb" stroke-width="0.5" />
<line x1="595.4" y1="173.8" x2="595.4" y2="175.8" stroke="#888" stroke-width="0.8" />
<text x="595.4" y="179.3" font-size="4.2" fill="#888" text-anchor="middle">-10³</text>
<line x1="616.6" y1="173.8" x2="616.6" y2="175.8" stroke="#888" stroke-width="0.8" />
<text x="616.6" y="179.3" font-size="4.2" fill="#888" text-anchor="middle">0</text>
<line x1="643" y1="173.8" x2="643" y2="175.8" stroke="#888" stroke-width="0.8" />
<text x="643" y="179.3" font-size="4.2" fill="#888" text-anchor="middle">10³</text>
<line x1="675.6" y1="173.8" x2="675.6" y2="175.8" stroke="#888" stroke-width="0.8" />
<text x="675.6" y="179.3" font-size="4.2" fill="#888" text-anchor="middle">10⁴</text>
<line x1="705.1" y1="173.8" x2="705.1" y2="175.8" stroke="#888" stroke-width="0.8" />
<text x="705.1" y="179.3" font-size="4.2" fill="#888" text-anchor="middle">10⁵</text>
<line x1="730" y1="173.8" x2="730" y2="175.8" stroke="#888" stroke-width="0.8" />
<text x="730" y="179.3" font-size="4.2" fill="#888" text-anchor="middle">10⁶</text>
<line x1="593.7" y1="173.8" x2="593.7" y2="174.8" stroke="#bbb" stroke-width="0.5" />
<line x1="597.0" y1="173.8" x2="597.0" y2="174.8" stroke="#bbb" stroke-width="0.5" />
<line x1="600.3000000000001" y1="173.8" x2="600.3000000000001" y2="174.8" stroke="#bbb" stroke-width="0.5" />
<line x1="603.6" y1="173.8" x2="603.6" y2="174.8" stroke="#bbb" stroke-width="0.5" />
<line x1="606.9000000000001" y1="173.8" x2="606.9000000000001" y2="174.8" stroke="#bbb" stroke-width="0.5" />
<line x1="610.2" y1="173.8" x2="610.2" y2="174.8" stroke="#bbb" stroke-width="0.5" />
<line x1="613.5" y1="173.8" x2="613.5" y2="174.8" stroke="#bbb" stroke-width="0.5" />
<line x1="616.8000000000001" y1="173.8" x2="616.8000000000001" y2="174.8" stroke="#bbb" stroke-width="0.5" />
<line x1="620.1" y1="173.8" x2="620.1" y2="174.8" stroke="#bbb" stroke-width="0.5" />
<line x1="623.4000000000001" y1="173.8" x2="623.4000000000001" y2="174.8" stroke="#bbb" stroke-width="0.5" />
<line x1="626.7" y1="173.8" x2="626.7" y2="174.8" stroke="#bbb" stroke-width="0.5" />
<line x1="630.0" y1="173.8" x2="630.0" y2="174.8" stroke="#bbb" stroke-width="0.5" />
<line x1="633.3000000000001" y1="173.8" x2="633.3000000000001" y2="174.8" stroke="#bbb" stroke-width="0.5" />
<line x1="636.6" y1="173.8" x2="636.6" y2="174.8" stroke="#bbb" stroke-width="0.5" />
<line x1="639.9000000000001" y1="173.8" x2="639.9000000000001" y2="174.8" stroke="#bbb" stroke-width="0.5" />
<line x1="643.2" y1="173.8" x2="643.2" y2="174.8" stroke="#bbb" stroke-width="0.5" />
<line x1="646.5" y1="173.8" x2="646.5" y2="174.8" stroke="#bbb" stroke-width="0.5" />
<line x1="649.8000000000001" y1="173.8" x2="649.8000000000001" y2="174.8" stroke="#bbb" stroke-width="0.5" />
<line x1="653.1" y1="173.8" x2="653.1" y2="174.8" stroke="#bbb" stroke-width="0.5" />
<line x1="656.4000000000001" y1="173.8" x2="656.4000000000001" y2="174.8" stroke="#bbb" stroke-width="0.5" />
<line x1="659.7" y1="173.8" x2="659.7" y2="174.8" stroke="#bbb" stroke-width="0.5" />
<line x1="663.0" y1="173.8" x2="663.0" y2="174.8" stroke="#bbb" stroke-width="0.5" />
<line x1="666.3000000000001" y1="173.8" x2="666.3000000000001" y2="174.8" stroke="#bbb" stroke-width="0.5" />
<line x1="669.6" y1="173.8" x2="669.6" y2="174.8" stroke="#bbb" stroke-width="0.5" />
<line x1="672.9000000000001" y1="173.8" x2="672.9000000000001" y2="174.8" stroke="#bbb" stroke-width="0.5" />
<line x1="676.2" y1="173.8" x2="676.2" y2="174.8" stroke="#bbb" stroke-width="0.5" />
<line x1="679.5" y1="173.8" x2="679.5" y2="174.8" stroke="#bbb" stroke-width="0.5" />
<line x1="682.8000000000001" y1="173.8" x2="682.8000000000001" y2="174.8" stroke="#bbb" stroke-width="0.5" />
<line x1="686.1" y1="173.8" x2="686.1" y2="174.8" stroke="#bbb" stroke-width="0.5" />
<line x1="689.4000000000001" y1="173.8" x2="689.4000000000001" y2="174.8" stroke="#bbb" stroke-width="0.5" />
<line x1="692.7" y1="173.8" x2="692.7" y2="174.8" stroke="#bbb" stroke-width="0.5" />
<line x1="696.0" y1="173.8" x2="696.0" y2="174.8" stroke="#bbb" stroke-width="0.5" />
<line x1="699.3000000000001" y1="173.8" x2="699.3000000000001" y2="174.8" stroke="#bbb" stroke-width="0.5" />
<line x1="702.6" y1="173.8" x2="702.6" y2="174.8" stroke="#bbb" stroke-width="0.5" />
<line x1="705.9000000000001" y1="173.8" x2="705.9000000000001" y2="174.8" stroke="#bbb" stroke-width="0.5" />
<line x1="709.2" y1="173.8" x2="709.2" y2="174.8" stroke="#bbb" stroke-width="0.5" />
<line x1="712.5" y1="173.8" x2="712.5" y2="174.8" stroke="#bbb" stroke-width="0.5" />
<line x1="715.8000000000001" y1="173.8" x2="715.8000000000001" y2="174.8" stroke="#bbb" stroke-width="0.5" />
<line x1="719.1" y1="173.8" x2="719.1" y2="174.8" stroke="#bbb" stroke-width="0.5" />
<line x1="722.4000000000001" y1="173.8" x2="722.4000000000001" y2="174.8" stroke="#bbb" stroke-width="0.5" />
<line x1="725.7" y1="173.8" x2="725.7" y2="174.8" stroke="#bbb" stroke-width="0.5" />
<line x1="729.0" y1="173.8" x2="729.0" y2="174.8" stroke="#bbb" stroke-width="0.5" />
<line x1="645.4" y1="31.3" x2="645.4" y2="173.8" stroke="#1a1a1a" stroke-width="1.2" />
<line x1="590.7" y1="100.2" x2="732.5" y2="100.2" stroke="#3a3a3a" stroke-width="1.5" />
<text x="593.7" y="42.3" font-size="7.0" font-weight="normal" text-anchor="start" fill="#333" >Q1</text>
<text x="593.7" y="49.6" font-size="7.0" font-weight="normal" text-anchor="start" fill="#333" >0.14</text>
<text x="720.3" y="42.3" font-size="7.0" font-weight="normal" text-anchor="end" fill="#333" >Q2</text>
<text x="720.3" y="49.6" font-size="7.0" font-weight="normal" text-anchor="end" fill="#333" >99.6</text>
<text x="593.7" y="159.3" font-size="7.0" font-weight="normal" text-anchor="start" fill="#333" >Q4</text>
<text x="593.7" y="166.70000000000002" font-size="7.0" font-weight="normal" text-anchor="start" fill="#333" >0.085</text>
<text x="720.3" y="159.3" font-size="7.0" font-weight="normal" text-anchor="end" fill="#333" >Q3</text>
<text x="720.3" y="166.70000000000002" font-size="7.0" font-weight="normal" text-anchor="end" fill="#333" >0.19</text>
<rect x="589.8" y="142" width="1.8" height="4" fill="#222"/>
<rect x="612.5" y="173.3" width="6" height="1.2" fill="#333"/>
<text transform="translate(404.3,136.8) rotate(-90)" font-size="16" stroke="#000" stroke-width="0.3" textLength="71" lengthAdjust="spacingAndGlyphs">CD155 APC</text>
<text x="436" y="199" font-size="14" font-weight="normal" text-anchor="start" fill="#000" textLength="62.5" lengthAdjust="spacingAndGlyphs" stroke="#000" stroke-width="0.3">CD111 PE</text>
<line x1="506" y1="193.9" x2="683" y2="193.9" stroke="#333" stroke-width="1.3" />
<polygon points="682,190.6 689,193.9 682,197.2" fill="#111"/>
<line x1="53.5" y1="335" x2="53.5" y2="517.7" stroke="#000" stroke-width="2.1" />
<line x1="46.5" y1="516.7" x2="324.0" y2="516.7" stroke="#000" stroke-width="2.1" />
<line x1="46.0" y1="516.7" x2="53.5" y2="516.7" stroke="#000" stroke-width="2" />
<text x="43.6" y="521.5" font-size="13.3" font-weight="bold" text-anchor="end" fill="#000"  stroke="#000" stroke-width="0.15">0</text>
<line x1="46.0" y1="456.46500000000003" x2="53.5" y2="456.46500000000003" stroke="#000" stroke-width="2" />
<text x="43.6" y="461.26500000000004" font-size="13.3" font-weight="bold" text-anchor="end" fill="#000"  stroke="#000" stroke-width="0.15">50</text>
<line x1="46.0" y1="396.23" x2="53.5" y2="396.23" stroke="#000" stroke-width="2" />
<text x="43.6" y="401.03000000000003" font-size="13.3" font-weight="bold" text-anchor="end" fill="#000"  stroke="#000" stroke-width="0.15">100</text>
<line x1="46.0" y1="335.995" x2="53.5" y2="335.995" stroke="#000" stroke-width="2" />
<text x="43.6" y="340.795" font-size="13.3" font-weight="bold" text-anchor="end" fill="#000"  stroke="#000" stroke-width="0.15">150</text>
<line x1="53.5" y1="516.7" x2="53.5" y2="523.7" stroke="#000" stroke-width="2" />
<text x="53.5" y="539.7" font-size="13.3" font-weight="bold" text-anchor="middle" fill="#000"  stroke="#000" stroke-width="0.15">0</text>
<line x1="107.44" y1="516.7" x2="107.44" y2="523.7" stroke="#000" stroke-width="2" />
<text x="107.44" y="539.7" font-size="13.3" font-weight="bold" text-anchor="middle" fill="#000"  stroke="#000" stroke-width="0.15">10</text>
<line x1="161.38" y1="516.7" x2="161.38" y2="523.7" stroke="#000" stroke-width="2" />
<text x="161.38" y="539.7" font-size="13.3" font-weight="bold" text-anchor="middle" fill="#000"  stroke="#000" stroke-width="0.15">20</text>
<line x1="215.32" y1="516.7" x2="215.32" y2="523.7" stroke="#000" stroke-width="2" />
<text x="215.32" y="539.7" font-size="13.3" font-weight="bold" text-anchor="middle" fill="#000"  stroke="#000" stroke-width="0.15">30</text>
<line x1="269.26" y1="516.7" x2="269.26" y2="523.7" stroke="#000" stroke-width="2" />
<text x="269.26" y="539.7" font-size="13.3" font-weight="bold" text-anchor="middle" fill="#000"  stroke="#000" stroke-width="0.15">40</text>
<line x1="323.2" y1="516.7" x2="323.2" y2="523.7" stroke="#000" stroke-width="2" />
<text x="323.2" y="539.7" font-size="13.3" font-weight="bold" text-anchor="middle" fill="#000"  stroke="#000" stroke-width="0.15">50</text>
<text x="188.5" y="559.9" font-size="14" font-weight="bold" text-anchor="middle" fill="#000"  stroke="#000" stroke-width="0.15">LD50</text>
<text transform="translate(11.2,468) rotate(-90)" font-size="14.5" font-weight="bold" textLength="83.3" lengthAdjust="spacingAndGlyphs">Receptor %</text>
<text x="167.2" y="313.6" font-size="17" font-weight="bold" text-anchor="start" fill="#000" textLength="43" lengthAdjust="spacingAndGlyphs" stroke="#000" stroke-width="0.15">G207</text>
<line x1="59.7" y1="396.3" x2="278.3" y2="512.8" stroke="#111" stroke-width="1.2" />
<circle cx="59.7" cy="396.9" r="3.6" fill="#000"/>
<circle cx="61.4" cy="400.2" r="3.6" fill="#000"/>
<circle cx="67.9" cy="399.6" r="3.6" fill="#000"/>
<circle cx="69" cy="401.3" r="3.6" fill="#000"/>
<circle cx="74.7" cy="398.6" r="3.6" fill="#000"/>
<circle cx="75.6" cy="416.6" r="3.6" fill="#000"/>
<circle cx="114" cy="413" r="3.6" fill="#000"/>
<circle cx="278.3" cy="515.8" r="3.6" fill="#000"/>
<text x="142.3" y="385.3" font-size="14" font-weight="normal" text-anchor="start" fill="#111" textLength="72.8" lengthAdjust="spacingAndGlyphs" >r = -0.9848</text>
<text x="143.5" y="401.90000000000003" font-size="14" font-weight="normal" text-anchor="start" fill="#111" textLength="68.5" lengthAdjust="spacingAndGlyphs" >p &lt; 0.0001</text>
<text transform="translate(9.2,307.8) scale(1,1.14)" font-size="30.7" stroke="#000" stroke-width="0.2">C</text>
<line x1="447" y1="336" x2="447" y2="518.2" stroke="#000" stroke-width="2.1" />
<line x1="440" y1="517.2" x2="717.5" y2="517.2" stroke="#000" stroke-width="2.1" />
<line x1="439.5" y1="517.2" x2="447" y2="517.2" stroke="#000" stroke-width="2" />
<text x="437.2" y="522.0" font-size="13.3" font-weight="bold" text-anchor="end" fill="#000"  stroke="#000" stroke-width="0.15">0</text>
<line x1="439.5" y1="457.06500000000005" x2="447" y2="457.06500000000005" stroke="#000" stroke-width="2" />
<text x="437.2" y="461.86500000000007" font-size="13.3" font-weight="bold" text-anchor="end" fill="#000"  stroke="#000" stroke-width="0.15">50</text>
<line x1="439.5" y1="396.93000000000006" x2="447" y2="396.93000000000006" stroke="#000" stroke-width="2" />
<text x="437.2" y="401.7300000000001" font-size="13.3" font-weight="bold" text-anchor="end" fill="#000"  stroke="#000" stroke-width="0.15">100</text>
<line x1="439.5" y1="336.795" x2="447" y2="336.795" stroke="#000" stroke-width="2" />
<text x="437.2" y="341.595" font-size="13.3" font-weight="bold" text-anchor="end" fill="#000"  stroke="#000" stroke-width="0.15">150</text>
<line x1="447.0" y1="517.2" x2="447.0" y2="524.2" stroke="#000" stroke-width="2" />
<text x="447.0" y="540.2" font-size="13.3" font-weight="bold" text-anchor="middle" fill="#000"  stroke="#000" stroke-width="0.15">0</text>
<line x1="501.2" y1="517.2" x2="501.2" y2="524.2" stroke="#000" stroke-width="2" />
<text x="501.2" y="540.2" font-size="13.3" font-weight="bold" text-anchor="middle" fill="#000"  stroke="#000" stroke-width="0.15">10</text>
<line x1="555.4" y1="517.2" x2="555.4" y2="524.2" stroke="#000" stroke-width="2" />
<text x="555.4" y="540.2" font-size="13.3" font-weight="bold" text-anchor="middle" fill="#000"  stroke="#000" stroke-width="0.15">20</text>
<line x1="609.6" y1="517.2" x2="609.6" y2="524.2" stroke="#000" stroke-width="2" />
<text x="609.6" y="540.2" font-size="13.3" font-weight="bold" text-anchor="middle" fill="#000"  stroke="#000" stroke-width="0.15">30</text>
<line x1="663.8" y1="517.2" x2="663.8" y2="524.2" stroke="#000" stroke-width="2" />
<text x="663.8" y="540.2" font-size="13.3" font-weight="bold" text-anchor="middle" fill="#000"  stroke="#000" stroke-width="0.15">40</text>
<line x1="718.0" y1="517.2" x2="718.0" y2="524.2" stroke="#000" stroke-width="2" />
<text x="718.0" y="540.2" font-size="13.3" font-weight="bold" text-anchor="middle" fill="#000"  stroke="#000" stroke-width="0.15">50</text>
<text x="583.2" y="559.9" font-size="14" font-weight="bold" text-anchor="middle" fill="#000"  stroke="#000" stroke-width="0.15">LD50</text>
<text transform="translate(404.9,467.4) rotate(-90)" font-size="14.5" font-weight="bold" textLength="81.6" lengthAdjust="spacingAndGlyphs">Receptor %</text>
<text x="545" y="313.5" font-size="17" font-weight="bold" text-anchor="start" fill="#000" textLength="76" lengthAdjust="spacingAndGlyphs" stroke="#000" stroke-width="0.15">PVSRIPO</text>
<line x1="447.5" y1="399.2" x2="528.7" y2="398.0" stroke="#111" stroke-width="1.2" />
<circle cx="447.5" cy="397.6" r="3.6" fill="#000"/>
<circle cx="452.3" cy="397.3" r="3.6" fill="#000"/>
<circle cx="453.4" cy="406.1" r="3.6" fill="#000"/>
<circle cx="485.7" cy="398.2" r="3.6" fill="#000"/>
<circle cx="528.7" cy="398.2" r="3.6" fill="#000"/>
<text x="553.2" y="456.2" font-size="14" font-weight="normal" text-anchor="start" fill="#111" textLength="67.3" lengthAdjust="spacingAndGlyphs" >r = 0.1107</text>
<text x="552.9000000000001" y="472.8" font-size="14" font-weight="normal" text-anchor="start" fill="#111" textLength="69" lengthAdjust="spacingAndGlyphs" >p = 0.8131</text>
<text transform="translate(375.6,307.9) scale(1,1.05)" font-size="32.3" stroke="#000" stroke-width="0.25">D</text>
</svg></body></html>
